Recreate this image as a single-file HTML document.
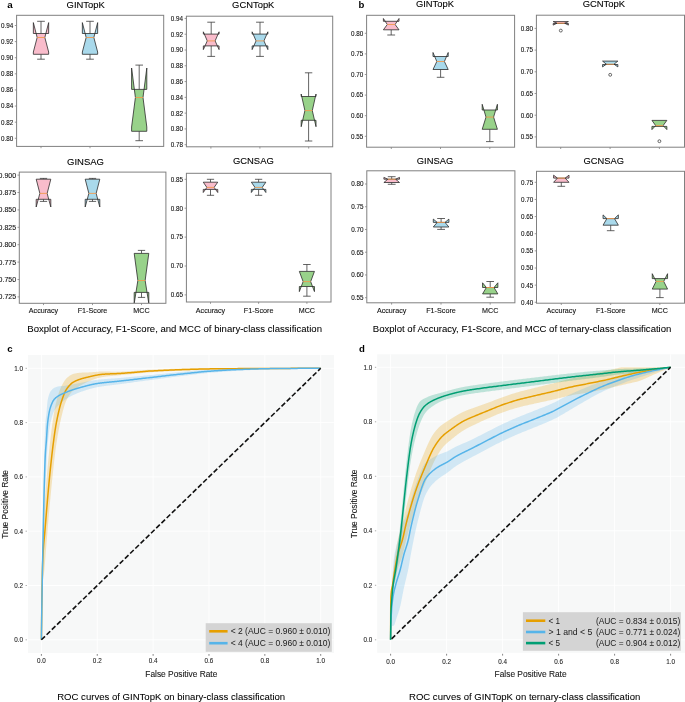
<!DOCTYPE html>
<html><head><meta charset="utf-8"><style>
html,body{margin:0;padding:0;background:#fff;}
svg{display:block;font-family:"Liberation Sans", sans-serif;will-change:transform;}
</style></head><body>
<svg width="685" height="702" viewBox="0 0 685 702" font-family='"Liberation Sans", sans-serif'>
<rect x="0" y="0" width="685" height="702" fill="#fff"/>
<clipPath id="c0"><rect x="16.6" y="15.3" width="147.1" height="131.1"/></clipPath>
<g clip-path="url(#c0)">
<line x1="41" y1="33.5" x2="41" y2="21.3" stroke="#3c3c3c" stroke-width="0.8"/>
<line x1="41" y1="54.3" x2="41" y2="59.2" stroke="#3c3c3c" stroke-width="0.8"/>
<path d="M33.35,54.3 L48.65,54.3 L48.65,52 L44.83,37.5 L48.65,22.6 L48.65,33.5 L33.35,33.5 L33.35,22.6 L37.17,37.5 L33.35,52 Z" fill="#f9bccb" stroke="#2b2b2b" stroke-width="0.8" stroke-linejoin="miter"/>
<line x1="37.17" y1="21.3" x2="44.83" y2="21.3" stroke="#3c3c3c" stroke-width="0.8"/>
<line x1="37.17" y1="59.2" x2="44.83" y2="59.2" stroke="#3c3c3c" stroke-width="0.8"/>
<line x1="37.17" y1="37.5" x2="44.83" y2="37.5" stroke="#f29a4e" stroke-width="0.9"/>
<line x1="90" y1="33.5" x2="90" y2="21.3" stroke="#3c3c3c" stroke-width="0.8"/>
<line x1="90" y1="54.3" x2="90" y2="59.2" stroke="#3c3c3c" stroke-width="0.8"/>
<path d="M82.35,54.3 L97.65,54.3 L97.65,52 L93.83,37.5 L97.65,22.6 L97.65,33.5 L82.35,33.5 L82.35,22.6 L86.17,37.5 L82.35,52 Z" fill="#a9d9eb" stroke="#2b2b2b" stroke-width="0.8" stroke-linejoin="miter"/>
<line x1="86.17" y1="21.3" x2="93.83" y2="21.3" stroke="#3c3c3c" stroke-width="0.8"/>
<line x1="86.17" y1="59.2" x2="93.83" y2="59.2" stroke="#3c3c3c" stroke-width="0.8"/>
<line x1="86.17" y1="37.5" x2="93.83" y2="37.5" stroke="#f29a4e" stroke-width="0.9"/>
<line x1="139.2" y1="89.4" x2="139.2" y2="65.1" stroke="#3c3c3c" stroke-width="0.8"/>
<line x1="139.2" y1="131.3" x2="139.2" y2="140.7" stroke="#3c3c3c" stroke-width="0.8"/>
<path d="M131.6,131.3 L146.8,131.3 L146.8,127 L143,97.5 L146.8,68 L146.8,89.4 L131.6,89.4 L131.6,68 L135.4,97.5 L131.6,127 Z" fill="#98d28a" stroke="#2b2b2b" stroke-width="0.8" stroke-linejoin="miter"/>
<line x1="135.4" y1="65.1" x2="143" y2="65.1" stroke="#3c3c3c" stroke-width="0.8"/>
<line x1="135.4" y1="140.7" x2="143" y2="140.7" stroke="#3c3c3c" stroke-width="0.8"/>
<line x1="135.4" y1="97.5" x2="143" y2="97.5" stroke="#f29a4e" stroke-width="0.9"/>
</g>
<rect x="16.6" y="15.3" width="147.1" height="131.1" fill="none" stroke="#808080" stroke-width="1"/>
<line x1="14.8" y1="25.5" x2="16.6" y2="25.5" stroke="#808080" stroke-width="0.8"/>
<text x="13.3" y="27.88" font-size="6.6" text-anchor="end" font-weight="normal" fill="#111" textLength="12.3" lengthAdjust="spacingAndGlyphs" stroke="#111" stroke-width="0.1">0.94</text>
<line x1="14.8" y1="41.61" x2="16.6" y2="41.61" stroke="#808080" stroke-width="0.8"/>
<text x="13.3" y="43.99" font-size="6.6" text-anchor="end" font-weight="normal" fill="#111" textLength="12.3" lengthAdjust="spacingAndGlyphs" stroke="#111" stroke-width="0.1">0.92</text>
<line x1="14.8" y1="57.72" x2="16.6" y2="57.72" stroke="#808080" stroke-width="0.8"/>
<text x="13.3" y="60.1" font-size="6.6" text-anchor="end" font-weight="normal" fill="#111" textLength="12.3" lengthAdjust="spacingAndGlyphs" stroke="#111" stroke-width="0.1">0.90</text>
<line x1="14.8" y1="73.83" x2="16.6" y2="73.83" stroke="#808080" stroke-width="0.8"/>
<text x="13.3" y="76.21" font-size="6.6" text-anchor="end" font-weight="normal" fill="#111" textLength="12.3" lengthAdjust="spacingAndGlyphs" stroke="#111" stroke-width="0.1">0.88</text>
<line x1="14.8" y1="89.94" x2="16.6" y2="89.94" stroke="#808080" stroke-width="0.8"/>
<text x="13.3" y="92.32" font-size="6.6" text-anchor="end" font-weight="normal" fill="#111" textLength="12.3" lengthAdjust="spacingAndGlyphs" stroke="#111" stroke-width="0.1">0.86</text>
<line x1="14.8" y1="106.05" x2="16.6" y2="106.05" stroke="#808080" stroke-width="0.8"/>
<text x="13.3" y="108.43" font-size="6.6" text-anchor="end" font-weight="normal" fill="#111" textLength="12.3" lengthAdjust="spacingAndGlyphs" stroke="#111" stroke-width="0.1">0.84</text>
<line x1="14.8" y1="122.16" x2="16.6" y2="122.16" stroke="#808080" stroke-width="0.8"/>
<text x="13.3" y="124.54" font-size="6.6" text-anchor="end" font-weight="normal" fill="#111" textLength="12.3" lengthAdjust="spacingAndGlyphs" stroke="#111" stroke-width="0.1">0.82</text>
<line x1="14.8" y1="138.27" x2="16.6" y2="138.27" stroke="#808080" stroke-width="0.8"/>
<text x="13.3" y="140.65" font-size="6.6" text-anchor="end" font-weight="normal" fill="#111" textLength="12.3" lengthAdjust="spacingAndGlyphs" stroke="#111" stroke-width="0.1">0.80</text>
<line x1="41" y1="146.4" x2="41" y2="148.2" stroke="#808080" stroke-width="0.8"/>
<line x1="90" y1="146.4" x2="90" y2="148.2" stroke="#808080" stroke-width="0.8"/>
<line x1="139.3" y1="146.4" x2="139.3" y2="148.2" stroke="#808080" stroke-width="0.8"/>
<text x="85.7" y="8.3" font-size="9.9" text-anchor="middle" font-weight="normal" fill="#000" textLength="38.2" lengthAdjust="spacingAndGlyphs" stroke="#000" stroke-width="0.1">GINTopK</text>
<clipPath id="c1"><rect x="186.4" y="16.2" width="146.3" height="130.6"/></clipPath>
<g clip-path="url(#c1)">
<line x1="211.2" y1="34.1" x2="211.2" y2="22.2" stroke="#3c3c3c" stroke-width="0.8"/>
<line x1="211.2" y1="45.9" x2="211.2" y2="56.4" stroke="#3c3c3c" stroke-width="0.8"/>
<path d="M203.35,45.9 L219.05,45.9 L219.05,49.6 L215.12,40.9 L219.05,31.8 L219.05,34.1 L203.35,34.1 L203.35,31.8 L207.27,40.9 L203.35,49.6 Z" fill="#f9bccb" stroke="#2b2b2b" stroke-width="0.8" stroke-linejoin="miter"/>
<line x1="207.27" y1="22.2" x2="215.12" y2="22.2" stroke="#3c3c3c" stroke-width="0.8"/>
<line x1="207.27" y1="56.4" x2="215.12" y2="56.4" stroke="#3c3c3c" stroke-width="0.8"/>
<line x1="207.27" y1="40.9" x2="215.12" y2="40.9" stroke="#f29a4e" stroke-width="0.9"/>
<line x1="260" y1="34.1" x2="260" y2="22.2" stroke="#3c3c3c" stroke-width="0.8"/>
<line x1="260" y1="45.9" x2="260" y2="56.4" stroke="#3c3c3c" stroke-width="0.8"/>
<path d="M252.15,45.9 L267.85,45.9 L267.85,49.6 L263.93,40.9 L267.85,31.8 L267.85,34.1 L252.15,34.1 L252.15,31.8 L256.07,40.9 L252.15,49.6 Z" fill="#a9d9eb" stroke="#2b2b2b" stroke-width="0.8" stroke-linejoin="miter"/>
<line x1="256.07" y1="22.2" x2="263.93" y2="22.2" stroke="#3c3c3c" stroke-width="0.8"/>
<line x1="256.07" y1="56.4" x2="263.93" y2="56.4" stroke="#3c3c3c" stroke-width="0.8"/>
<line x1="256.07" y1="40.9" x2="263.93" y2="40.9" stroke="#f29a4e" stroke-width="0.9"/>
<line x1="308.6" y1="96.5" x2="308.6" y2="72.8" stroke="#3c3c3c" stroke-width="0.8"/>
<line x1="308.6" y1="120.3" x2="308.6" y2="141" stroke="#3c3c3c" stroke-width="0.8"/>
<path d="M301.2,120.3 L316,120.3 L316,126.7 L312.3,110.6 L316,94 L316,96.5 L301.2,96.5 L301.2,94 L304.9,110.6 L301.2,126.7 Z" fill="#98d28a" stroke="#2b2b2b" stroke-width="0.8" stroke-linejoin="miter"/>
<line x1="304.9" y1="72.8" x2="312.3" y2="72.8" stroke="#3c3c3c" stroke-width="0.8"/>
<line x1="304.9" y1="141" x2="312.3" y2="141" stroke="#3c3c3c" stroke-width="0.8"/>
<line x1="304.9" y1="110.6" x2="312.3" y2="110.6" stroke="#f29a4e" stroke-width="0.9"/>
</g>
<rect x="186.4" y="16.2" width="146.3" height="130.6" fill="none" stroke="#808080" stroke-width="1"/>
<line x1="184.6" y1="18.45" x2="186.4" y2="18.45" stroke="#808080" stroke-width="0.8"/>
<text x="183.1" y="20.83" font-size="6.6" text-anchor="end" font-weight="normal" fill="#111" textLength="12.3" lengthAdjust="spacingAndGlyphs" stroke="#111" stroke-width="0.1">0.94</text>
<line x1="184.6" y1="34.23" x2="186.4" y2="34.23" stroke="#808080" stroke-width="0.8"/>
<text x="183.1" y="36.61" font-size="6.6" text-anchor="end" font-weight="normal" fill="#111" textLength="12.3" lengthAdjust="spacingAndGlyphs" stroke="#111" stroke-width="0.1">0.92</text>
<line x1="184.6" y1="50.01" x2="186.4" y2="50.01" stroke="#808080" stroke-width="0.8"/>
<text x="183.1" y="52.39" font-size="6.6" text-anchor="end" font-weight="normal" fill="#111" textLength="12.3" lengthAdjust="spacingAndGlyphs" stroke="#111" stroke-width="0.1">0.90</text>
<line x1="184.6" y1="65.79" x2="186.4" y2="65.79" stroke="#808080" stroke-width="0.8"/>
<text x="183.1" y="68.17" font-size="6.6" text-anchor="end" font-weight="normal" fill="#111" textLength="12.3" lengthAdjust="spacingAndGlyphs" stroke="#111" stroke-width="0.1">0.88</text>
<line x1="184.6" y1="81.57" x2="186.4" y2="81.57" stroke="#808080" stroke-width="0.8"/>
<text x="183.1" y="83.95" font-size="6.6" text-anchor="end" font-weight="normal" fill="#111" textLength="12.3" lengthAdjust="spacingAndGlyphs" stroke="#111" stroke-width="0.1">0.86</text>
<line x1="184.6" y1="97.35" x2="186.4" y2="97.35" stroke="#808080" stroke-width="0.8"/>
<text x="183.1" y="99.73" font-size="6.6" text-anchor="end" font-weight="normal" fill="#111" textLength="12.3" lengthAdjust="spacingAndGlyphs" stroke="#111" stroke-width="0.1">0.84</text>
<line x1="184.6" y1="113.13" x2="186.4" y2="113.13" stroke="#808080" stroke-width="0.8"/>
<text x="183.1" y="115.51" font-size="6.6" text-anchor="end" font-weight="normal" fill="#111" textLength="12.3" lengthAdjust="spacingAndGlyphs" stroke="#111" stroke-width="0.1">0.82</text>
<line x1="184.6" y1="128.91" x2="186.4" y2="128.91" stroke="#808080" stroke-width="0.8"/>
<text x="183.1" y="131.29" font-size="6.6" text-anchor="end" font-weight="normal" fill="#111" textLength="12.3" lengthAdjust="spacingAndGlyphs" stroke="#111" stroke-width="0.1">0.80</text>
<line x1="184.6" y1="144.69" x2="186.4" y2="144.69" stroke="#808080" stroke-width="0.8"/>
<text x="183.1" y="147.07" font-size="6.6" text-anchor="end" font-weight="normal" fill="#111" textLength="12.3" lengthAdjust="spacingAndGlyphs" stroke="#111" stroke-width="0.1">0.78</text>
<line x1="210.9" y1="146.8" x2="210.9" y2="148.6" stroke="#808080" stroke-width="0.8"/>
<line x1="259.9" y1="146.8" x2="259.9" y2="148.6" stroke="#808080" stroke-width="0.8"/>
<line x1="308.7" y1="146.8" x2="308.7" y2="148.6" stroke="#808080" stroke-width="0.8"/>
<text x="253.25" y="8.2" font-size="9.9" text-anchor="middle" font-weight="normal" fill="#000" textLength="42.3" lengthAdjust="spacingAndGlyphs" stroke="#000" stroke-width="0.1">GCNTopK</text>
<clipPath id="c2"><rect x="19.3" y="172.1" width="146.6" height="131.2"/></clipPath>
<g clip-path="url(#c2)">
<line x1="43.5" y1="179.2" x2="43.5" y2="178.4" stroke="#3c3c3c" stroke-width="0.8"/>
<line x1="43.5" y1="199.3" x2="43.5" y2="201.4" stroke="#3c3c3c" stroke-width="0.8"/>
<path d="M36.2,199.3 L50.8,199.3 L50.8,207 L47.15,193.4 L50.8,179.2 L50.8,179.2 L36.2,179.2 L36.2,179.2 L39.85,193.4 L36.2,207 Z" fill="#f9bccb" stroke="#2b2b2b" stroke-width="0.8" stroke-linejoin="miter"/>
<line x1="39.85" y1="178.4" x2="47.15" y2="178.4" stroke="#3c3c3c" stroke-width="0.8"/>
<line x1="39.85" y1="201.4" x2="47.15" y2="201.4" stroke="#3c3c3c" stroke-width="0.8"/>
<line x1="39.85" y1="193.4" x2="47.15" y2="193.4" stroke="#f29a4e" stroke-width="0.9"/>
<line x1="92.5" y1="179.2" x2="92.5" y2="178.4" stroke="#3c3c3c" stroke-width="0.8"/>
<line x1="92.5" y1="199.3" x2="92.5" y2="201.4" stroke="#3c3c3c" stroke-width="0.8"/>
<path d="M85.2,199.3 L99.8,199.3 L99.8,207 L96.15,193.4 L99.8,179.2 L99.8,179.2 L85.2,179.2 L85.2,179.2 L88.85,193.4 L85.2,207 Z" fill="#a9d9eb" stroke="#2b2b2b" stroke-width="0.8" stroke-linejoin="miter"/>
<line x1="88.85" y1="178.4" x2="96.15" y2="178.4" stroke="#3c3c3c" stroke-width="0.8"/>
<line x1="88.85" y1="201.4" x2="96.15" y2="201.4" stroke="#3c3c3c" stroke-width="0.8"/>
<line x1="88.85" y1="193.4" x2="96.15" y2="193.4" stroke="#f29a4e" stroke-width="0.9"/>
<line x1="141.5" y1="253.4" x2="141.5" y2="250.4" stroke="#3c3c3c" stroke-width="0.8"/>
<line x1="141.5" y1="292.4" x2="141.5" y2="297.4" stroke="#3c3c3c" stroke-width="0.8"/>
<path d="M134.2,292.4 L148.8,292.4 L148.8,303.5 L145.15,280.5 L148.8,253.4 L148.8,253.4 L134.2,253.4 L134.2,253.4 L137.85,280.5 L134.2,303.5 Z" fill="#98d28a" stroke="#2b2b2b" stroke-width="0.8" stroke-linejoin="miter"/>
<line x1="137.85" y1="250.4" x2="145.15" y2="250.4" stroke="#3c3c3c" stroke-width="0.8"/>
<line x1="137.85" y1="297.4" x2="145.15" y2="297.4" stroke="#3c3c3c" stroke-width="0.8"/>
<line x1="137.85" y1="280.5" x2="145.15" y2="280.5" stroke="#f29a4e" stroke-width="0.9"/>
</g>
<rect x="19.3" y="172.1" width="146.6" height="131.2" fill="none" stroke="#808080" stroke-width="1"/>
<line x1="17.5" y1="175.1" x2="19.3" y2="175.1" stroke="#808080" stroke-width="0.8"/>
<text x="16" y="177.66" font-size="7.1" text-anchor="end" font-weight="normal" fill="#111" textLength="17.4" lengthAdjust="spacingAndGlyphs" stroke="#111" stroke-width="0.1">0.900</text>
<line x1="17.5" y1="192.5" x2="19.3" y2="192.5" stroke="#808080" stroke-width="0.8"/>
<text x="16" y="195.06" font-size="7.1" text-anchor="end" font-weight="normal" fill="#111" textLength="17.4" lengthAdjust="spacingAndGlyphs" stroke="#111" stroke-width="0.1">0.875</text>
<line x1="17.5" y1="209.9" x2="19.3" y2="209.9" stroke="#808080" stroke-width="0.8"/>
<text x="16" y="212.46" font-size="7.1" text-anchor="end" font-weight="normal" fill="#111" textLength="17.4" lengthAdjust="spacingAndGlyphs" stroke="#111" stroke-width="0.1">0.850</text>
<line x1="17.5" y1="227.3" x2="19.3" y2="227.3" stroke="#808080" stroke-width="0.8"/>
<text x="16" y="229.86" font-size="7.1" text-anchor="end" font-weight="normal" fill="#111" textLength="17.4" lengthAdjust="spacingAndGlyphs" stroke="#111" stroke-width="0.1">0.825</text>
<line x1="17.5" y1="244.7" x2="19.3" y2="244.7" stroke="#808080" stroke-width="0.8"/>
<text x="16" y="247.26" font-size="7.1" text-anchor="end" font-weight="normal" fill="#111" textLength="17.4" lengthAdjust="spacingAndGlyphs" stroke="#111" stroke-width="0.1">0.800</text>
<line x1="17.5" y1="262.1" x2="19.3" y2="262.1" stroke="#808080" stroke-width="0.8"/>
<text x="16" y="264.66" font-size="7.1" text-anchor="end" font-weight="normal" fill="#111" textLength="17.4" lengthAdjust="spacingAndGlyphs" stroke="#111" stroke-width="0.1">0.775</text>
<line x1="17.5" y1="279.5" x2="19.3" y2="279.5" stroke="#808080" stroke-width="0.8"/>
<text x="16" y="282.06" font-size="7.1" text-anchor="end" font-weight="normal" fill="#111" textLength="17.4" lengthAdjust="spacingAndGlyphs" stroke="#111" stroke-width="0.1">0.750</text>
<line x1="17.5" y1="296.9" x2="19.3" y2="296.9" stroke="#808080" stroke-width="0.8"/>
<text x="16" y="299.46" font-size="7.1" text-anchor="end" font-weight="normal" fill="#111" textLength="17.4" lengthAdjust="spacingAndGlyphs" stroke="#111" stroke-width="0.1">0.725</text>
<line x1="43.5" y1="303.3" x2="43.5" y2="305.1" stroke="#808080" stroke-width="0.8"/>
<line x1="92.5" y1="303.3" x2="92.5" y2="305.1" stroke="#808080" stroke-width="0.8"/>
<line x1="141.5" y1="303.3" x2="141.5" y2="305.1" stroke="#808080" stroke-width="0.8"/>
<text x="85.5" y="164.7" font-size="9.9" text-anchor="middle" font-weight="normal" fill="#000" textLength="37" lengthAdjust="spacingAndGlyphs" stroke="#000" stroke-width="0.1">GINSAG</text>
<text x="43.5" y="312.9" font-size="6.9" text-anchor="middle" font-weight="normal" fill="#111" textLength="29.4" lengthAdjust="spacingAndGlyphs" stroke="#111" stroke-width="0.1">Accuracy</text>
<text x="92.5" y="312.9" font-size="6.9" text-anchor="middle" font-weight="normal" fill="#111" textLength="29.6" lengthAdjust="spacingAndGlyphs" stroke="#111" stroke-width="0.1">F1-Score</text>
<text x="141.5" y="312.9" font-size="6.9" text-anchor="middle" font-weight="normal" fill="#111" textLength="16.3" lengthAdjust="spacingAndGlyphs" stroke="#111" stroke-width="0.1">MCC</text>
<clipPath id="c3"><rect x="186.4" y="173.3" width="144.6" height="128.7"/></clipPath>
<g clip-path="url(#c3)">
<line x1="210.5" y1="182.2" x2="210.5" y2="179.3" stroke="#3c3c3c" stroke-width="0.8"/>
<line x1="210.5" y1="189.4" x2="210.5" y2="195.3" stroke="#3c3c3c" stroke-width="0.8"/>
<path d="M203.25,189.4 L217.75,189.4 L217.75,192.5 L214.12,187.4 L217.75,182.2 L217.75,182.2 L203.25,182.2 L203.25,182.2 L206.88,187.4 L203.25,192.5 Z" fill="#f9bccb" stroke="#2b2b2b" stroke-width="0.8" stroke-linejoin="miter"/>
<line x1="206.88" y1="179.3" x2="214.12" y2="179.3" stroke="#3c3c3c" stroke-width="0.8"/>
<line x1="206.88" y1="195.3" x2="214.12" y2="195.3" stroke="#3c3c3c" stroke-width="0.8"/>
<line x1="206.88" y1="187.4" x2="214.12" y2="187.4" stroke="#f29a4e" stroke-width="0.9"/>
<line x1="258.6" y1="182.2" x2="258.6" y2="179.3" stroke="#3c3c3c" stroke-width="0.8"/>
<line x1="258.6" y1="189.4" x2="258.6" y2="195.3" stroke="#3c3c3c" stroke-width="0.8"/>
<path d="M251.35,189.4 L265.85,189.4 L265.85,192.5 L262.23,187.4 L265.85,182.2 L265.85,182.2 L251.35,182.2 L251.35,182.2 L254.98,187.4 L251.35,192.5 Z" fill="#a9d9eb" stroke="#2b2b2b" stroke-width="0.8" stroke-linejoin="miter"/>
<line x1="254.98" y1="179.3" x2="262.23" y2="179.3" stroke="#3c3c3c" stroke-width="0.8"/>
<line x1="254.98" y1="195.3" x2="262.23" y2="195.3" stroke="#3c3c3c" stroke-width="0.8"/>
<line x1="254.98" y1="187.4" x2="262.23" y2="187.4" stroke="#f29a4e" stroke-width="0.9"/>
<line x1="306.9" y1="271.4" x2="306.9" y2="264.5" stroke="#3c3c3c" stroke-width="0.8"/>
<line x1="306.9" y1="286.5" x2="306.9" y2="296.2" stroke="#3c3c3c" stroke-width="0.8"/>
<path d="M299.35,286.5 L314.45,286.5 L314.45,291.6 L310.67,281.6 L314.45,271.4 L314.45,271.4 L299.35,271.4 L299.35,271.4 L303.12,281.6 L299.35,291.6 Z" fill="#98d28a" stroke="#2b2b2b" stroke-width="0.8" stroke-linejoin="miter"/>
<line x1="303.12" y1="264.5" x2="310.67" y2="264.5" stroke="#3c3c3c" stroke-width="0.8"/>
<line x1="303.12" y1="296.2" x2="310.67" y2="296.2" stroke="#3c3c3c" stroke-width="0.8"/>
<line x1="303.12" y1="281.6" x2="310.67" y2="281.6" stroke="#f29a4e" stroke-width="0.9"/>
</g>
<rect x="186.4" y="173.3" width="144.6" height="128.7" fill="none" stroke="#808080" stroke-width="1"/>
<line x1="184.6" y1="179.3" x2="186.4" y2="179.3" stroke="#808080" stroke-width="0.8"/>
<text x="183.1" y="181.68" font-size="6.6" text-anchor="end" font-weight="normal" fill="#111" textLength="12.3" lengthAdjust="spacingAndGlyphs" stroke="#111" stroke-width="0.1">0.85</text>
<line x1="184.6" y1="208.2" x2="186.4" y2="208.2" stroke="#808080" stroke-width="0.8"/>
<text x="183.1" y="210.58" font-size="6.6" text-anchor="end" font-weight="normal" fill="#111" textLength="12.3" lengthAdjust="spacingAndGlyphs" stroke="#111" stroke-width="0.1">0.80</text>
<line x1="184.6" y1="237.1" x2="186.4" y2="237.1" stroke="#808080" stroke-width="0.8"/>
<text x="183.1" y="239.48" font-size="6.6" text-anchor="end" font-weight="normal" fill="#111" textLength="12.3" lengthAdjust="spacingAndGlyphs" stroke="#111" stroke-width="0.1">0.75</text>
<line x1="184.6" y1="266" x2="186.4" y2="266" stroke="#808080" stroke-width="0.8"/>
<text x="183.1" y="268.38" font-size="6.6" text-anchor="end" font-weight="normal" fill="#111" textLength="12.3" lengthAdjust="spacingAndGlyphs" stroke="#111" stroke-width="0.1">0.70</text>
<line x1="184.6" y1="294.9" x2="186.4" y2="294.9" stroke="#808080" stroke-width="0.8"/>
<text x="183.1" y="297.28" font-size="6.6" text-anchor="end" font-weight="normal" fill="#111" textLength="12.3" lengthAdjust="spacingAndGlyphs" stroke="#111" stroke-width="0.1">0.65</text>
<line x1="210.5" y1="302" x2="210.5" y2="303.8" stroke="#808080" stroke-width="0.8"/>
<line x1="258.6" y1="302" x2="258.6" y2="303.8" stroke="#808080" stroke-width="0.8"/>
<line x1="306.9" y1="302" x2="306.9" y2="303.8" stroke="#808080" stroke-width="0.8"/>
<text x="253.35" y="164.4" font-size="9.9" text-anchor="middle" font-weight="normal" fill="#000" textLength="40.9" lengthAdjust="spacingAndGlyphs" stroke="#000" stroke-width="0.1">GCNSAG</text>
<text x="210.5" y="312.9" font-size="6.9" text-anchor="middle" font-weight="normal" fill="#111" textLength="29.4" lengthAdjust="spacingAndGlyphs" stroke="#111" stroke-width="0.1">Accuracy</text>
<text x="258.6" y="312.9" font-size="6.9" text-anchor="middle" font-weight="normal" fill="#111" textLength="29.6" lengthAdjust="spacingAndGlyphs" stroke="#111" stroke-width="0.1">F1-Score</text>
<text x="306.9" y="312.9" font-size="6.9" text-anchor="middle" font-weight="normal" fill="#111" textLength="16.3" lengthAdjust="spacingAndGlyphs" stroke="#111" stroke-width="0.1">MCC</text>
<clipPath id="c4"><rect x="366.6" y="15.3" width="148" height="131.9"/></clipPath>
<g clip-path="url(#c4)">
<line x1="391.2" y1="29.8" x2="391.2" y2="35" stroke="#3c3c3c" stroke-width="0.8"/>
<path d="M383.4,29.8 L399,29.8 L399,29.8 L395.1,24.5 L399,18.5 L399,21.3 L383.4,21.3 L383.4,18.5 L387.3,24.5 L383.4,29.8 Z" fill="#f9bccb" stroke="#2b2b2b" stroke-width="0.8" stroke-linejoin="miter"/>
<line x1="387.3" y1="35" x2="395.1" y2="35" stroke="#3c3c3c" stroke-width="0.8"/>
<line x1="387.3" y1="24.5" x2="395.1" y2="24.5" stroke="#f29a4e" stroke-width="0.9"/>
<line x1="440.6" y1="69.5" x2="440.6" y2="77.3" stroke="#3c3c3c" stroke-width="0.8"/>
<path d="M433,69.5 L448.2,69.5 L448.2,69.5 L444.4,61.5 L448.2,52.5 L448.2,56.5 L433,56.5 L433,52.5 L436.8,61.5 L433,69.5 Z" fill="#a9d9eb" stroke="#2b2b2b" stroke-width="0.8" stroke-linejoin="miter"/>
<line x1="436.8" y1="77.3" x2="444.4" y2="77.3" stroke="#3c3c3c" stroke-width="0.8"/>
<line x1="436.8" y1="61.5" x2="444.4" y2="61.5" stroke="#f29a4e" stroke-width="0.9"/>
<line x1="489.8" y1="129.3" x2="489.8" y2="141.6" stroke="#3c3c3c" stroke-width="0.8"/>
<path d="M482.2,129.3 L497.4,129.3 L497.4,129.3 L493.6,117.1 L497.4,104.3 L497.4,110 L482.2,110 L482.2,104.3 L486,117.1 L482.2,129.3 Z" fill="#98d28a" stroke="#2b2b2b" stroke-width="0.8" stroke-linejoin="miter"/>
<line x1="486" y1="141.6" x2="493.6" y2="141.6" stroke="#3c3c3c" stroke-width="0.8"/>
<line x1="486" y1="117.1" x2="493.6" y2="117.1" stroke="#f29a4e" stroke-width="0.9"/>
</g>
<rect x="366.6" y="15.3" width="148" height="131.9" fill="none" stroke="#808080" stroke-width="1"/>
<line x1="364.8" y1="33.3" x2="366.6" y2="33.3" stroke="#808080" stroke-width="0.8"/>
<text x="363.3" y="35.68" font-size="6.6" text-anchor="end" font-weight="normal" fill="#111" textLength="12.3" lengthAdjust="spacingAndGlyphs" stroke="#111" stroke-width="0.1">0.80</text>
<line x1="364.8" y1="53.9" x2="366.6" y2="53.9" stroke="#808080" stroke-width="0.8"/>
<text x="363.3" y="56.28" font-size="6.6" text-anchor="end" font-weight="normal" fill="#111" textLength="12.3" lengthAdjust="spacingAndGlyphs" stroke="#111" stroke-width="0.1">0.75</text>
<line x1="364.8" y1="74.5" x2="366.6" y2="74.5" stroke="#808080" stroke-width="0.8"/>
<text x="363.3" y="76.88" font-size="6.6" text-anchor="end" font-weight="normal" fill="#111" textLength="12.3" lengthAdjust="spacingAndGlyphs" stroke="#111" stroke-width="0.1">0.70</text>
<line x1="364.8" y1="95.1" x2="366.6" y2="95.1" stroke="#808080" stroke-width="0.8"/>
<text x="363.3" y="97.48" font-size="6.6" text-anchor="end" font-weight="normal" fill="#111" textLength="12.3" lengthAdjust="spacingAndGlyphs" stroke="#111" stroke-width="0.1">0.65</text>
<line x1="364.8" y1="115.7" x2="366.6" y2="115.7" stroke="#808080" stroke-width="0.8"/>
<text x="363.3" y="118.08" font-size="6.6" text-anchor="end" font-weight="normal" fill="#111" textLength="12.3" lengthAdjust="spacingAndGlyphs" stroke="#111" stroke-width="0.1">0.60</text>
<line x1="364.8" y1="136.3" x2="366.6" y2="136.3" stroke="#808080" stroke-width="0.8"/>
<text x="363.3" y="138.68" font-size="6.6" text-anchor="end" font-weight="normal" fill="#111" textLength="12.3" lengthAdjust="spacingAndGlyphs" stroke="#111" stroke-width="0.1">0.55</text>
<line x1="391.3" y1="147.2" x2="391.3" y2="149" stroke="#808080" stroke-width="0.8"/>
<line x1="440.5" y1="147.2" x2="440.5" y2="149" stroke="#808080" stroke-width="0.8"/>
<line x1="489.8" y1="147.2" x2="489.8" y2="149" stroke="#808080" stroke-width="0.8"/>
<text x="434.9" y="6.8" font-size="9.9" text-anchor="middle" font-weight="normal" fill="#000" textLength="38" lengthAdjust="spacingAndGlyphs" stroke="#000" stroke-width="0.1">GINTopK</text>
<clipPath id="c5"><rect x="536.4" y="15.2" width="148.1" height="132"/></clipPath>
<g clip-path="url(#c5)">
<path d="M553.2,23.5 L568.4,23.5 L568.4,25.1 L564.6,23.2 L568.4,21.6 L568.4,21.6 L553.2,21.6 L553.2,21.6 L557,23.2 L553.2,25.1 Z" fill="#f9bccb" stroke="#2b2b2b" stroke-width="0.8" stroke-linejoin="miter"/>
<line x1="557" y1="23.2" x2="564.6" y2="23.2" stroke="#f29a4e" stroke-width="0.9"/>
<circle cx="560.8" cy="30.6" r="1.45" fill="none" stroke="#2b2b2b" stroke-width="0.7"/>
<path d="M602.55,64.5 L617.85,64.5 L617.85,66.9 L614.03,64.2 L617.85,61.1 L617.85,61.1 L602.55,61.1 L602.55,61.1 L606.38,64.2 L602.55,66.9 Z" fill="#a9d9eb" stroke="#2b2b2b" stroke-width="0.8" stroke-linejoin="miter"/>
<line x1="606.38" y1="64.2" x2="614.03" y2="64.2" stroke="#f29a4e" stroke-width="0.9"/>
<circle cx="610.2" cy="74.8" r="1.45" fill="none" stroke="#2b2b2b" stroke-width="0.7"/>
<path d="M651.95,126.4 L666.85,126.4 L666.85,129.6 L663.12,125.6 L666.85,120.4 L666.85,120.4 L651.95,120.4 L651.95,120.4 L655.67,125.6 L651.95,129.6 Z" fill="#98d28a" stroke="#2b2b2b" stroke-width="0.8" stroke-linejoin="miter"/>
<line x1="655.67" y1="125.6" x2="663.12" y2="125.6" stroke="#f29a4e" stroke-width="0.9"/>
<circle cx="659.4" cy="141.2" r="1.45" fill="none" stroke="#2b2b2b" stroke-width="0.7"/>
</g>
<rect x="536.4" y="15.2" width="148.1" height="132" fill="none" stroke="#808080" stroke-width="1"/>
<line x1="534.6" y1="28.4" x2="536.4" y2="28.4" stroke="#808080" stroke-width="0.8"/>
<text x="533.1" y="30.78" font-size="6.6" text-anchor="end" font-weight="normal" fill="#111" textLength="12.3" lengthAdjust="spacingAndGlyphs" stroke="#111" stroke-width="0.1">0.80</text>
<line x1="534.6" y1="50.1" x2="536.4" y2="50.1" stroke="#808080" stroke-width="0.8"/>
<text x="533.1" y="52.48" font-size="6.6" text-anchor="end" font-weight="normal" fill="#111" textLength="12.3" lengthAdjust="spacingAndGlyphs" stroke="#111" stroke-width="0.1">0.75</text>
<line x1="534.6" y1="71.8" x2="536.4" y2="71.8" stroke="#808080" stroke-width="0.8"/>
<text x="533.1" y="74.18" font-size="6.6" text-anchor="end" font-weight="normal" fill="#111" textLength="12.3" lengthAdjust="spacingAndGlyphs" stroke="#111" stroke-width="0.1">0.70</text>
<line x1="534.6" y1="93.5" x2="536.4" y2="93.5" stroke="#808080" stroke-width="0.8"/>
<text x="533.1" y="95.88" font-size="6.6" text-anchor="end" font-weight="normal" fill="#111" textLength="12.3" lengthAdjust="spacingAndGlyphs" stroke="#111" stroke-width="0.1">0.65</text>
<line x1="534.6" y1="115.2" x2="536.4" y2="115.2" stroke="#808080" stroke-width="0.8"/>
<text x="533.1" y="117.58" font-size="6.6" text-anchor="end" font-weight="normal" fill="#111" textLength="12.3" lengthAdjust="spacingAndGlyphs" stroke="#111" stroke-width="0.1">0.60</text>
<line x1="534.6" y1="136.9" x2="536.4" y2="136.9" stroke="#808080" stroke-width="0.8"/>
<text x="533.1" y="139.28" font-size="6.6" text-anchor="end" font-weight="normal" fill="#111" textLength="12.3" lengthAdjust="spacingAndGlyphs" stroke="#111" stroke-width="0.1">0.55</text>
<line x1="560.7" y1="147.2" x2="560.7" y2="149" stroke="#808080" stroke-width="0.8"/>
<line x1="610.1" y1="147.2" x2="610.1" y2="149" stroke="#808080" stroke-width="0.8"/>
<line x1="659.4" y1="147.2" x2="659.4" y2="149" stroke="#808080" stroke-width="0.8"/>
<text x="603.9" y="6.8" font-size="9.9" text-anchor="middle" font-weight="normal" fill="#000" textLength="42.4" lengthAdjust="spacingAndGlyphs" stroke="#000" stroke-width="0.1">GCNTopK</text>
<clipPath id="c6"><rect x="366.8" y="170.8" width="148.1" height="132"/></clipPath>
<g clip-path="url(#c6)">
<line x1="391.7" y1="179.2" x2="391.7" y2="176.7" stroke="#3c3c3c" stroke-width="0.8"/>
<line x1="391.7" y1="182.5" x2="391.7" y2="184.3" stroke="#3c3c3c" stroke-width="0.8"/>
<path d="M383.9,182.5 L399.5,182.5 L399.5,182.5 L395.6,179.2 L399.5,177.4 L399.5,179.2 L383.9,179.2 L383.9,177.4 L387.8,179.2 L383.9,182.5 Z" fill="#f9bccb" stroke="#2b2b2b" stroke-width="0.8" stroke-linejoin="miter"/>
<line x1="387.8" y1="176.7" x2="395.6" y2="176.7" stroke="#3c3c3c" stroke-width="0.8"/>
<line x1="387.8" y1="184.3" x2="395.6" y2="184.3" stroke="#3c3c3c" stroke-width="0.8"/>
<line x1="387.8" y1="179.2" x2="395.6" y2="179.2" stroke="#f29a4e" stroke-width="0.9"/>
<line x1="441.1" y1="222.4" x2="441.1" y2="218.5" stroke="#3c3c3c" stroke-width="0.8"/>
<line x1="441.1" y1="227" x2="441.1" y2="229.4" stroke="#3c3c3c" stroke-width="0.8"/>
<path d="M433.3,227 L448.9,227 L448.9,227 L445,222.4 L448.9,219.1 L448.9,222.4 L433.3,222.4 L433.3,219.1 L437.2,222.4 L433.3,227 Z" fill="#a9d9eb" stroke="#2b2b2b" stroke-width="0.8" stroke-linejoin="miter"/>
<line x1="437.2" y1="218.5" x2="445" y2="218.5" stroke="#3c3c3c" stroke-width="0.8"/>
<line x1="437.2" y1="229.4" x2="445" y2="229.4" stroke="#3c3c3c" stroke-width="0.8"/>
<line x1="437.2" y1="222.4" x2="445" y2="222.4" stroke="#f29a4e" stroke-width="0.9"/>
<line x1="490.2" y1="287.5" x2="490.2" y2="281.5" stroke="#3c3c3c" stroke-width="0.8"/>
<line x1="490.2" y1="293.9" x2="490.2" y2="297.2" stroke="#3c3c3c" stroke-width="0.8"/>
<path d="M482.55,293.9 L497.85,293.9 L497.85,293.9 L494.02,287.5 L497.85,282.8 L497.85,287.5 L482.55,287.5 L482.55,282.8 L486.38,287.5 L482.55,293.9 Z" fill="#98d28a" stroke="#2b2b2b" stroke-width="0.8" stroke-linejoin="miter"/>
<line x1="486.38" y1="281.5" x2="494.02" y2="281.5" stroke="#3c3c3c" stroke-width="0.8"/>
<line x1="486.38" y1="297.2" x2="494.02" y2="297.2" stroke="#3c3c3c" stroke-width="0.8"/>
<line x1="486.38" y1="287.5" x2="494.02" y2="287.5" stroke="#f29a4e" stroke-width="0.9"/>
</g>
<rect x="366.8" y="170.8" width="148.1" height="132" fill="none" stroke="#808080" stroke-width="1"/>
<line x1="365" y1="184" x2="366.8" y2="184" stroke="#808080" stroke-width="0.8"/>
<text x="363.5" y="186.38" font-size="6.6" text-anchor="end" font-weight="normal" fill="#111" textLength="12.3" lengthAdjust="spacingAndGlyphs" stroke="#111" stroke-width="0.1">0.80</text>
<line x1="365" y1="206.74" x2="366.8" y2="206.74" stroke="#808080" stroke-width="0.8"/>
<text x="363.5" y="209.12" font-size="6.6" text-anchor="end" font-weight="normal" fill="#111" textLength="12.3" lengthAdjust="spacingAndGlyphs" stroke="#111" stroke-width="0.1">0.75</text>
<line x1="365" y1="229.48" x2="366.8" y2="229.48" stroke="#808080" stroke-width="0.8"/>
<text x="363.5" y="231.86" font-size="6.6" text-anchor="end" font-weight="normal" fill="#111" textLength="12.3" lengthAdjust="spacingAndGlyphs" stroke="#111" stroke-width="0.1">0.70</text>
<line x1="365" y1="252.22" x2="366.8" y2="252.22" stroke="#808080" stroke-width="0.8"/>
<text x="363.5" y="254.6" font-size="6.6" text-anchor="end" font-weight="normal" fill="#111" textLength="12.3" lengthAdjust="spacingAndGlyphs" stroke="#111" stroke-width="0.1">0.65</text>
<line x1="365" y1="274.96" x2="366.8" y2="274.96" stroke="#808080" stroke-width="0.8"/>
<text x="363.5" y="277.34" font-size="6.6" text-anchor="end" font-weight="normal" fill="#111" textLength="12.3" lengthAdjust="spacingAndGlyphs" stroke="#111" stroke-width="0.1">0.60</text>
<line x1="365" y1="297.7" x2="366.8" y2="297.7" stroke="#808080" stroke-width="0.8"/>
<text x="363.5" y="300.08" font-size="6.6" text-anchor="end" font-weight="normal" fill="#111" textLength="12.3" lengthAdjust="spacingAndGlyphs" stroke="#111" stroke-width="0.1">0.55</text>
<line x1="391.6" y1="302.8" x2="391.6" y2="304.6" stroke="#808080" stroke-width="0.8"/>
<line x1="441" y1="302.8" x2="441" y2="304.6" stroke="#808080" stroke-width="0.8"/>
<line x1="490.2" y1="302.8" x2="490.2" y2="304.6" stroke="#808080" stroke-width="0.8"/>
<text x="435" y="164.4" font-size="9.9" text-anchor="middle" font-weight="normal" fill="#000" textLength="36.4" lengthAdjust="spacingAndGlyphs" stroke="#000" stroke-width="0.1">GINSAG</text>
<text x="391.6" y="312.9" font-size="6.9" text-anchor="middle" font-weight="normal" fill="#111" textLength="29.4" lengthAdjust="spacingAndGlyphs" stroke="#111" stroke-width="0.1">Accuracy</text>
<text x="441" y="312.9" font-size="6.9" text-anchor="middle" font-weight="normal" fill="#111" textLength="29.6" lengthAdjust="spacingAndGlyphs" stroke="#111" stroke-width="0.1">F1-Score</text>
<text x="490.2" y="312.9" font-size="6.9" text-anchor="middle" font-weight="normal" fill="#111" textLength="16.3" lengthAdjust="spacingAndGlyphs" stroke="#111" stroke-width="0.1">MCC</text>
<clipPath id="c7"><rect x="536.5" y="171.3" width="148" height="131.9"/></clipPath>
<g clip-path="url(#c7)">
<line x1="561.3" y1="182.3" x2="561.3" y2="186.3" stroke="#3c3c3c" stroke-width="0.8"/>
<path d="M553.6,182.3 L569,182.3 L569,182.3 L565.15,178.1 L569,175.2 L569,178.1 L553.6,178.1 L553.6,175.2 L557.45,178.1 L553.6,182.3 Z" fill="#f9bccb" stroke="#2b2b2b" stroke-width="0.8" stroke-linejoin="miter"/>
<line x1="557.45" y1="186.3" x2="565.15" y2="186.3" stroke="#3c3c3c" stroke-width="0.8"/>
<line x1="557.45" y1="178.1" x2="565.15" y2="178.1" stroke="#f29a4e" stroke-width="0.9"/>
<line x1="610.7" y1="225.2" x2="610.7" y2="230.7" stroke="#3c3c3c" stroke-width="0.8"/>
<path d="M603.05,225.2 L618.35,225.2 L618.35,225.2 L614.53,218.6 L618.35,214.9 L618.35,218.6 L603.05,218.6 L603.05,214.9 L606.88,218.6 L603.05,225.2 Z" fill="#a9d9eb" stroke="#2b2b2b" stroke-width="0.8" stroke-linejoin="miter"/>
<line x1="606.88" y1="230.7" x2="614.53" y2="230.7" stroke="#3c3c3c" stroke-width="0.8"/>
<line x1="606.88" y1="218.6" x2="614.53" y2="218.6" stroke="#f29a4e" stroke-width="0.9"/>
<line x1="659.9" y1="289.1" x2="659.9" y2="297.6" stroke="#3c3c3c" stroke-width="0.8"/>
<path d="M652.25,289.1 L667.55,289.1 L667.55,289.1 L663.73,281.4 L667.55,273.7 L667.55,278.6 L652.25,278.6 L652.25,273.7 L656.07,281.4 L652.25,289.1 Z" fill="#98d28a" stroke="#2b2b2b" stroke-width="0.8" stroke-linejoin="miter"/>
<line x1="656.07" y1="297.6" x2="663.73" y2="297.6" stroke="#3c3c3c" stroke-width="0.8"/>
<line x1="656.07" y1="281.4" x2="663.73" y2="281.4" stroke="#f29a4e" stroke-width="0.9"/>
</g>
<rect x="536.5" y="171.3" width="148" height="131.9" fill="none" stroke="#808080" stroke-width="1"/>
<line x1="534.7" y1="182.3" x2="536.5" y2="182.3" stroke="#808080" stroke-width="0.8"/>
<text x="533.2" y="184.68" font-size="6.6" text-anchor="end" font-weight="normal" fill="#111" textLength="12.3" lengthAdjust="spacingAndGlyphs" stroke="#111" stroke-width="0.1">0.75</text>
<line x1="534.7" y1="199.44" x2="536.5" y2="199.44" stroke="#808080" stroke-width="0.8"/>
<text x="533.2" y="201.82" font-size="6.6" text-anchor="end" font-weight="normal" fill="#111" textLength="12.3" lengthAdjust="spacingAndGlyphs" stroke="#111" stroke-width="0.1">0.70</text>
<line x1="534.7" y1="216.58" x2="536.5" y2="216.58" stroke="#808080" stroke-width="0.8"/>
<text x="533.2" y="218.96" font-size="6.6" text-anchor="end" font-weight="normal" fill="#111" textLength="12.3" lengthAdjust="spacingAndGlyphs" stroke="#111" stroke-width="0.1">0.65</text>
<line x1="534.7" y1="233.72" x2="536.5" y2="233.72" stroke="#808080" stroke-width="0.8"/>
<text x="533.2" y="236.1" font-size="6.6" text-anchor="end" font-weight="normal" fill="#111" textLength="12.3" lengthAdjust="spacingAndGlyphs" stroke="#111" stroke-width="0.1">0.60</text>
<line x1="534.7" y1="250.86" x2="536.5" y2="250.86" stroke="#808080" stroke-width="0.8"/>
<text x="533.2" y="253.24" font-size="6.6" text-anchor="end" font-weight="normal" fill="#111" textLength="12.3" lengthAdjust="spacingAndGlyphs" stroke="#111" stroke-width="0.1">0.55</text>
<line x1="534.7" y1="268" x2="536.5" y2="268" stroke="#808080" stroke-width="0.8"/>
<text x="533.2" y="270.38" font-size="6.6" text-anchor="end" font-weight="normal" fill="#111" textLength="12.3" lengthAdjust="spacingAndGlyphs" stroke="#111" stroke-width="0.1">0.50</text>
<line x1="534.7" y1="285.14" x2="536.5" y2="285.14" stroke="#808080" stroke-width="0.8"/>
<text x="533.2" y="287.52" font-size="6.6" text-anchor="end" font-weight="normal" fill="#111" textLength="12.3" lengthAdjust="spacingAndGlyphs" stroke="#111" stroke-width="0.1">0.45</text>
<line x1="534.7" y1="302.28" x2="536.5" y2="302.28" stroke="#808080" stroke-width="0.8"/>
<text x="533.2" y="304.66" font-size="6.6" text-anchor="end" font-weight="normal" fill="#111" textLength="12.3" lengthAdjust="spacingAndGlyphs" stroke="#111" stroke-width="0.1">0.40</text>
<line x1="561.3" y1="303.2" x2="561.3" y2="305" stroke="#808080" stroke-width="0.8"/>
<line x1="610.7" y1="303.2" x2="610.7" y2="305" stroke="#808080" stroke-width="0.8"/>
<line x1="659.8" y1="303.2" x2="659.8" y2="305" stroke="#808080" stroke-width="0.8"/>
<text x="603.8" y="164.3" font-size="9.9" text-anchor="middle" font-weight="normal" fill="#000" textLength="40.4" lengthAdjust="spacingAndGlyphs" stroke="#000" stroke-width="0.1">GCNSAG</text>
<text x="561.3" y="312.9" font-size="6.9" text-anchor="middle" font-weight="normal" fill="#111" textLength="29.4" lengthAdjust="spacingAndGlyphs" stroke="#111" stroke-width="0.1">Accuracy</text>
<text x="610.7" y="312.9" font-size="6.9" text-anchor="middle" font-weight="normal" fill="#111" textLength="29.6" lengthAdjust="spacingAndGlyphs" stroke="#111" stroke-width="0.1">F1-Score</text>
<text x="659.8" y="312.9" font-size="6.9" text-anchor="middle" font-weight="normal" fill="#111" textLength="16.3" lengthAdjust="spacingAndGlyphs" stroke="#111" stroke-width="0.1">MCC</text>
<text x="7.2" y="8.2" font-size="9.8" text-anchor="start" font-weight="bold" fill="#000">a</text>
<text x="358.6" y="8" font-size="9.6" text-anchor="start" font-weight="bold" fill="#000">b</text>
<text x="27.3" y="331.8" font-size="9.4" text-anchor="start" font-weight="normal" fill="#000" textLength="294.7" lengthAdjust="spacingAndGlyphs" stroke="#000" stroke-width="0.06">Boxplot of Accuracy, F1-Score, and MCC of binary-class classification</text>
<text x="372.8" y="331.8" font-size="9.4" text-anchor="start" font-weight="normal" fill="#000" textLength="298.6" lengthAdjust="spacingAndGlyphs" stroke="#000" stroke-width="0.06">Boxplot of Accuracy, F1-Score, and MCC of ternary-class classification</text>
<rect x="27.9" y="355" width="306" height="298" fill="#f7f8f8"/>
<line x1="41.4" y1="355" x2="41.4" y2="653" stroke="#ffffff" stroke-width="0.9"/>
<line x1="27.9" y1="639.8" x2="333.9" y2="639.8" stroke="#ffffff" stroke-width="0.9"/>
<line x1="97.26" y1="355" x2="97.26" y2="653" stroke="#ffffff" stroke-width="0.9"/>
<line x1="27.9" y1="585.5" x2="333.9" y2="585.5" stroke="#ffffff" stroke-width="0.9"/>
<line x1="153.12" y1="355" x2="153.12" y2="653" stroke="#ffffff" stroke-width="0.9"/>
<line x1="27.9" y1="531.2" x2="333.9" y2="531.2" stroke="#ffffff" stroke-width="0.9"/>
<line x1="208.98" y1="355" x2="208.98" y2="653" stroke="#ffffff" stroke-width="0.9"/>
<line x1="27.9" y1="476.9" x2="333.9" y2="476.9" stroke="#ffffff" stroke-width="0.9"/>
<line x1="264.84" y1="355" x2="264.84" y2="653" stroke="#ffffff" stroke-width="0.9"/>
<line x1="27.9" y1="422.6" x2="333.9" y2="422.6" stroke="#ffffff" stroke-width="0.9"/>
<line x1="320.7" y1="355" x2="320.7" y2="653" stroke="#ffffff" stroke-width="0.9"/>
<line x1="27.9" y1="368.3" x2="333.9" y2="368.3" stroke="#ffffff" stroke-width="0.9"/>
<line x1="41.4" y1="654" x2="41.4" y2="655.8" stroke="#555" stroke-width="0.7"/>
<text x="41.4" y="663" font-size="6.6" text-anchor="middle" font-weight="normal" fill="#222" textLength="8.8" lengthAdjust="spacingAndGlyphs" stroke="#222" stroke-width="0.08">0.0</text>
<line x1="25.6" y1="639.8" x2="26.9" y2="639.8" stroke="#888" stroke-width="0.7"/>
<text x="23" y="642.2" font-size="6.6" text-anchor="end" font-weight="normal" fill="#222" textLength="8.8" lengthAdjust="spacingAndGlyphs" stroke="#222" stroke-width="0.08">0.0</text>
<line x1="97.26" y1="654" x2="97.26" y2="655.8" stroke="#555" stroke-width="0.7"/>
<text x="97.26" y="663" font-size="6.6" text-anchor="middle" font-weight="normal" fill="#222" textLength="8.8" lengthAdjust="spacingAndGlyphs" stroke="#222" stroke-width="0.08">0.2</text>
<line x1="25.6" y1="585.5" x2="26.9" y2="585.5" stroke="#888" stroke-width="0.7"/>
<text x="23" y="587.9" font-size="6.6" text-anchor="end" font-weight="normal" fill="#222" textLength="8.8" lengthAdjust="spacingAndGlyphs" stroke="#222" stroke-width="0.08">0.2</text>
<line x1="153.12" y1="654" x2="153.12" y2="655.8" stroke="#555" stroke-width="0.7"/>
<text x="153.12" y="663" font-size="6.6" text-anchor="middle" font-weight="normal" fill="#222" textLength="8.8" lengthAdjust="spacingAndGlyphs" stroke="#222" stroke-width="0.08">0.4</text>
<line x1="25.6" y1="531.2" x2="26.9" y2="531.2" stroke="#888" stroke-width="0.7"/>
<text x="23" y="533.6" font-size="6.6" text-anchor="end" font-weight="normal" fill="#222" textLength="8.8" lengthAdjust="spacingAndGlyphs" stroke="#222" stroke-width="0.08">0.4</text>
<line x1="208.98" y1="654" x2="208.98" y2="655.8" stroke="#555" stroke-width="0.7"/>
<text x="208.98" y="663" font-size="6.6" text-anchor="middle" font-weight="normal" fill="#222" textLength="8.8" lengthAdjust="spacingAndGlyphs" stroke="#222" stroke-width="0.08">0.6</text>
<line x1="25.6" y1="476.9" x2="26.9" y2="476.9" stroke="#888" stroke-width="0.7"/>
<text x="23" y="479.3" font-size="6.6" text-anchor="end" font-weight="normal" fill="#222" textLength="8.8" lengthAdjust="spacingAndGlyphs" stroke="#222" stroke-width="0.08">0.6</text>
<line x1="264.84" y1="654" x2="264.84" y2="655.8" stroke="#555" stroke-width="0.7"/>
<text x="264.84" y="663" font-size="6.6" text-anchor="middle" font-weight="normal" fill="#222" textLength="8.8" lengthAdjust="spacingAndGlyphs" stroke="#222" stroke-width="0.08">0.8</text>
<line x1="25.6" y1="422.6" x2="26.9" y2="422.6" stroke="#888" stroke-width="0.7"/>
<text x="23" y="425" font-size="6.6" text-anchor="end" font-weight="normal" fill="#222" textLength="8.8" lengthAdjust="spacingAndGlyphs" stroke="#222" stroke-width="0.08">0.8</text>
<line x1="320.7" y1="654" x2="320.7" y2="655.8" stroke="#555" stroke-width="0.7"/>
<text x="320.7" y="663" font-size="6.6" text-anchor="middle" font-weight="normal" fill="#222" textLength="8.8" lengthAdjust="spacingAndGlyphs" stroke="#222" stroke-width="0.08">1.0</text>
<line x1="25.6" y1="368.3" x2="26.9" y2="368.3" stroke="#888" stroke-width="0.7"/>
<text x="23" y="370.7" font-size="6.6" text-anchor="end" font-weight="normal" fill="#222" textLength="8.8" lengthAdjust="spacingAndGlyphs" stroke="#222" stroke-width="0.08">1.0</text>
<path d="M41.40,639.80 L41.54,625.99 L41.68,612.16 L41.82,598.66 L41.96,585.83 L42.10,574.00 L42.24,563.50 L42.38,554.69 L42.52,547.89 L42.66,542.42 L42.80,537.33 L42.94,532.64 L43.08,528.32 L43.22,524.37 L43.36,520.78 L43.49,517.54 L43.63,514.64 L43.77,512.07 L43.91,509.83 L44.05,507.89 L44.19,506.27 L44.33,504.80 L44.47,503.35 L44.61,501.87 L44.75,500.35 L44.89,498.76 L45.03,497.08 L45.17,495.35 L45.31,493.63 L45.45,491.93 L45.59,490.23 L45.73,488.55 L45.87,486.88 L46.01,485.22 L46.15,483.57 L46.29,481.93 L46.43,480.31 L46.57,478.70 L46.71,477.10 L46.85,475.51 L46.99,473.93 L47.27,470.82 L47.54,467.75 L47.82,464.73 L48.10,461.76 L48.38,458.84 L48.66,455.97 L48.94,453.14 L49.22,450.37 L49.50,447.65 L49.78,444.98 L50.06,442.37 L50.34,439.84 L50.62,437.40 L50.90,435.03 L51.18,432.73 L51.45,430.52 L51.73,428.39 L52.01,426.33 L52.29,424.32 L52.57,422.36 L52.85,420.45 L53.13,418.59 L53.41,416.78 L53.69,415.03 L53.97,413.33 L54.25,411.69 L54.53,410.12 L54.81,408.62 L55.09,407.18 L55.36,405.81 L55.64,404.51 L55.92,403.29 L56.20,402.15 L56.48,401.06 L56.76,399.99 L57.04,398.95 L57.32,397.93 L57.60,396.93 L57.88,395.96 L58.16,395.00 L58.44,394.06 L58.72,393.17 L59.00,392.31 L59.28,391.49 L59.55,390.70 L59.83,389.95 L60.11,389.24 L60.39,388.55 L60.67,387.90 L60.95,387.28 L61.23,386.70 L61.51,386.14 L61.79,385.59 L62.07,385.05 L62.35,384.52 L62.63,384.01 L62.91,383.50 L63.19,383.00 L63.46,382.52 L63.74,382.05 L64.02,381.60 L64.30,381.16 L64.58,380.74 L64.86,380.34 L65.14,379.95 L65.42,379.59 L65.70,379.24 L65.98,378.92 L66.26,378.62 L66.54,378.35 L66.82,378.08 L67.10,377.83 L67.37,377.58 L67.65,377.34 L67.93,377.10 L68.21,376.87 L68.49,376.64 L68.77,376.42 L69.05,376.21 L69.33,376.01 L69.61,375.81 L69.89,375.62 L70.17,375.43 L70.45,375.26 L70.73,375.09 L71.01,374.93 L71.29,374.78 L71.56,374.63 L71.84,374.50 L72.12,374.37 L72.40,374.25 L72.68,374.14 L72.96,374.04 L73.24,373.94 L73.52,373.86 L73.80,373.78 L74.08,373.72 L74.36,373.65 L74.64,373.58 L74.92,373.52 L75.20,373.46 L75.47,373.40 L75.75,373.35 L76.03,373.29 L76.31,373.24 L76.59,373.19 L76.87,373.14 L77.15,373.10 L77.43,373.05 L77.71,373.01 L77.99,372.97 L78.27,372.94 L78.55,372.90 L78.83,372.87 L79.11,372.84 L79.38,372.81 L79.66,372.79 L79.94,372.76 L80.22,372.74 L80.50,372.72 L80.78,372.69 L81.06,372.68 L81.34,372.66 L81.62,372.64 L81.90,372.62 L82.18,372.61 L82.46,372.60 L82.74,372.58 L83.02,372.57 L83.29,372.56 L83.57,372.55 L83.85,372.54 L84.13,372.53 L84.41,372.52 L84.69,372.51 L84.97,372.50 L85.25,372.49 L85.53,372.49 L85.81,372.48 L86.09,372.47 L86.37,372.46 L86.65,372.45 L86.93,372.44 L87.21,372.43 L87.48,372.42 L87.76,372.41 L88.04,372.40 L88.32,372.39 L88.60,372.38 L88.88,372.37 L89.16,372.35 L89.44,372.34 L89.72,372.32 L90.00,372.31 L90.28,372.29 L90.56,372.28 L90.84,372.26 L91.12,372.24 L91.39,372.22 L91.67,372.20 L91.95,372.18 L92.23,372.17 L92.51,372.14 L92.79,372.12 L93.07,372.10 L93.35,372.08 L93.63,372.06 L93.91,372.04 L94.19,372.02 L94.47,371.99 L94.75,371.97 L95.03,371.95 L95.30,371.92 L95.58,371.90 L95.86,371.88 L96.14,371.85 L96.42,371.83 L96.70,371.81 L96.98,371.78 L97.26,371.76 L97.54,371.73 L97.82,371.71 L98.10,371.69 L98.38,371.67 L98.66,371.65 L98.94,371.63 L99.22,371.61 L99.49,371.59 L99.77,371.58 L100.05,371.56 L100.33,371.55 L100.61,371.54 L100.89,371.53 L101.17,371.52 L101.45,371.51 L101.73,371.51 L102.01,371.50 L102.29,371.50 L102.57,371.50 L102.85,371.50 L103.13,371.50 L103.40,371.50 L103.68,371.50 L103.96,371.51 L104.24,371.51 L104.52,371.51 L104.80,371.52 L105.08,371.52 L105.36,371.52 L105.64,371.53 L105.92,371.53 L106.20,371.54 L106.48,371.54 L106.76,371.55 L107.04,371.55 L107.31,371.56 L107.59,371.57 L107.87,371.57 L108.15,371.58 L108.43,371.58 L108.71,371.59 L108.99,371.60 L109.27,371.60 L109.55,371.61 L109.83,371.62 L110.11,371.62 L110.39,371.63 L110.67,371.63 L110.95,371.64 L111.22,371.65 L111.50,371.65 L111.78,371.66 L112.06,371.67 L112.34,371.67 L112.62,371.68 L112.90,371.68 L113.18,371.69 L113.46,371.69 L113.74,371.70 L114.02,371.70 L114.30,371.70 L114.58,371.71 L114.86,371.71 L115.14,371.71 L115.41,371.72 L115.69,371.72 L115.97,371.72 L116.25,371.72 L116.53,371.72 L116.81,371.72 L117.09,371.72 L117.37,371.72 L117.65,371.72 L117.93,371.72 L118.21,371.72 L118.49,371.71 L118.77,371.71 L119.05,371.70 L119.32,371.70 L119.60,371.69 L119.88,371.69 L120.16,371.68 L120.44,371.67 L120.72,371.67 L121.00,371.66 L121.28,371.65 L121.56,371.64 L121.84,371.63 L122.12,371.62 L122.40,371.61 L122.68,371.60 L122.96,371.58 L123.23,371.57 L123.51,371.56 L123.79,371.54 L124.07,371.53 L124.35,371.51 L124.63,371.50 L124.91,371.48 L125.19,371.47 L126.59,371.38 L127.98,371.29 L129.38,371.20 L130.78,371.10 L132.17,370.99 L133.57,370.89 L134.97,370.78 L136.36,370.67 L137.76,370.56 L139.16,370.46 L140.55,370.35 L141.95,370.25 L143.34,370.14 L144.74,370.05 L146.14,369.96 L147.53,369.87 L148.93,369.79 L150.33,369.72 L151.72,369.65 L153.12,369.58 L154.52,369.52 L155.91,369.46 L157.31,369.39 L158.71,369.33 L160.10,369.27 L161.50,369.22 L162.90,369.16 L164.29,369.11 L165.69,369.06 L167.08,369.00 L168.48,368.95 L169.88,368.91 L171.27,368.86 L172.67,368.82 L174.07,368.77 L175.46,368.73 L176.86,368.69 L178.26,368.65 L179.65,368.62 L181.05,368.58 L182.45,368.55 L183.84,368.51 L185.24,368.48 L186.64,368.44 L188.03,368.41 L189.43,368.38 L190.83,368.35 L192.22,368.31 L193.62,368.30 L195.02,368.30 L196.41,368.30 L197.81,368.30 L199.20,368.30 L200.60,368.30 L202.00,368.30 L203.39,368.30 L204.79,368.30 L206.19,368.30 L207.58,368.30 L208.98,368.30 L210.38,368.30 L211.77,368.30 L213.17,368.30 L214.57,368.30 L215.96,368.30 L217.36,368.30 L218.76,368.30 L220.15,368.30 L221.55,368.30 L222.95,368.30 L224.34,368.30 L225.74,368.30 L227.13,368.30 L228.53,368.30 L229.93,368.30 L231.32,368.30 L232.72,368.30 L234.12,368.30 L235.51,368.30 L236.91,368.30 L238.31,368.30 L239.70,368.30 L241.10,368.30 L242.50,368.30 L243.89,368.30 L245.29,368.30 L246.69,368.30 L248.08,368.30 L249.48,368.30 L250.88,368.30 L252.27,368.30 L253.67,368.30 L255.06,368.30 L256.46,368.30 L257.86,368.30 L259.25,368.30 L260.65,368.30 L262.05,368.30 L263.44,368.30 L264.84,368.30 L266.24,368.30 L267.63,368.30 L269.03,368.30 L270.43,368.30 L271.82,368.30 L273.22,368.30 L274.62,368.30 L276.01,368.30 L277.41,368.30 L278.81,368.30 L280.20,368.30 L281.60,368.30 L282.99,368.30 L284.39,368.30 L285.79,368.30 L287.18,368.30 L288.58,368.30 L289.98,368.30 L291.37,368.30 L292.77,368.30 L294.17,368.30 L295.56,368.30 L296.96,368.30 L298.36,368.30 L299.75,368.30 L301.15,368.30 L302.55,368.30 L303.94,368.30 L305.34,368.30 L306.73,368.30 L308.13,368.30 L309.53,368.30 L310.92,368.30 L312.32,368.30 L313.72,368.30 L315.11,368.30 L316.51,368.30 L317.91,368.30 L319.30,368.30 L320.70,368.30 L320.70,368.30 L319.30,368.31 L317.91,368.32 L316.51,368.33 L315.11,368.34 L313.72,368.36 L312.32,368.37 L310.92,368.38 L309.53,368.39 L308.13,368.40 L306.73,368.42 L305.34,368.43 L303.94,368.44 L302.55,368.46 L301.15,368.47 L299.75,368.48 L298.36,368.50 L296.96,368.51 L295.56,368.53 L294.17,368.54 L292.77,368.56 L291.37,368.57 L289.98,368.59 L288.58,368.60 L287.18,368.62 L285.79,368.63 L284.39,368.65 L282.99,368.66 L281.60,368.68 L280.20,368.69 L278.81,368.71 L277.41,368.73 L276.01,368.74 L274.62,368.76 L273.22,368.78 L271.82,368.79 L270.43,368.81 L269.03,368.83 L267.63,368.85 L266.24,368.86 L264.84,368.88 L263.44,368.90 L262.05,368.91 L260.65,368.93 L259.25,368.95 L257.86,368.97 L256.46,368.99 L255.06,369.00 L253.67,369.02 L252.27,369.04 L250.88,369.06 L249.48,369.08 L248.08,369.09 L246.69,369.11 L245.29,369.13 L243.89,369.15 L242.50,369.17 L241.10,369.19 L239.70,369.21 L238.31,369.23 L236.91,369.25 L235.51,369.27 L234.12,369.29 L232.72,369.31 L231.32,369.33 L229.93,369.35 L228.53,369.37 L227.13,369.39 L225.74,369.41 L224.34,369.44 L222.95,369.46 L221.55,369.48 L220.15,369.51 L218.76,369.53 L217.36,369.56 L215.96,369.58 L214.57,369.61 L213.17,369.64 L211.77,369.67 L210.38,369.70 L208.98,369.73 L207.58,369.77 L206.19,369.80 L204.79,369.85 L203.39,369.89 L202.00,369.93 L200.60,369.98 L199.20,370.03 L197.81,370.08 L196.41,370.13 L195.02,370.18 L193.62,370.24 L192.22,370.29 L190.83,370.35 L189.43,370.40 L188.03,370.46 L186.64,370.52 L185.24,370.58 L183.84,370.64 L182.45,370.69 L181.05,370.75 L179.65,370.81 L178.26,370.87 L176.86,370.93 L175.46,370.99 L174.07,371.06 L172.67,371.12 L171.27,371.19 L169.88,371.25 L168.48,371.32 L167.08,371.39 L165.69,371.46 L164.29,371.53 L162.90,371.60 L161.50,371.68 L160.10,371.76 L158.71,371.83 L157.31,371.92 L155.91,372.00 L154.52,372.08 L153.12,372.17 L151.72,372.26 L150.33,372.35 L148.93,372.44 L147.53,372.55 L146.14,372.66 L144.74,372.78 L143.34,372.90 L141.95,373.03 L140.55,373.17 L139.16,373.31 L137.76,373.45 L136.36,373.59 L134.97,373.73 L133.57,373.88 L132.17,374.02 L130.78,374.17 L129.38,374.31 L127.98,374.45 L126.59,374.59 L125.19,374.73 L124.91,374.75 L124.63,374.78 L124.35,374.80 L124.07,374.83 L123.79,374.86 L123.51,374.88 L123.23,374.91 L122.96,374.94 L122.68,374.96 L122.40,374.99 L122.12,375.02 L121.84,375.04 L121.56,375.07 L121.28,375.10 L121.00,375.12 L120.72,375.15 L120.44,375.18 L120.16,375.20 L119.88,375.23 L119.60,375.25 L119.32,375.28 L119.05,375.31 L118.77,375.33 L118.49,375.36 L118.21,375.38 L117.93,375.41 L117.65,375.43 L117.37,375.46 L117.09,375.48 L116.81,375.51 L116.53,375.53 L116.25,375.56 L115.97,375.58 L115.69,375.60 L115.41,375.63 L115.14,375.65 L114.86,375.68 L114.58,375.70 L114.30,375.73 L114.02,375.75 L113.74,375.78 L113.46,375.80 L113.18,375.83 L112.90,375.85 L112.62,375.88 L112.34,375.91 L112.06,375.93 L111.78,375.96 L111.50,375.99 L111.22,376.01 L110.95,376.04 L110.67,376.07 L110.39,376.10 L110.11,376.13 L109.83,376.15 L109.55,376.18 L109.27,376.21 L108.99,376.24 L108.71,376.27 L108.43,376.30 L108.15,376.34 L107.87,376.37 L107.59,376.40 L107.31,376.43 L107.04,376.47 L106.76,376.50 L106.48,376.54 L106.20,376.57 L105.92,376.61 L105.64,376.64 L105.36,376.68 L105.08,376.72 L104.80,376.76 L104.52,376.80 L104.24,376.84 L103.96,376.88 L103.68,376.92 L103.40,376.96 L103.13,377.00 L102.85,377.05 L102.57,377.09 L102.29,377.14 L102.01,377.19 L101.73,377.24 L101.45,377.29 L101.17,377.35 L100.89,377.40 L100.61,377.46 L100.33,377.52 L100.05,377.58 L99.77,377.64 L99.49,377.71 L99.22,377.77 L98.94,377.84 L98.66,377.91 L98.38,377.98 L98.10,378.05 L97.82,378.12 L97.54,378.20 L97.26,378.27 L96.98,378.35 L96.70,378.43 L96.42,378.51 L96.14,378.59 L95.86,378.68 L95.58,378.77 L95.30,378.86 L95.03,378.95 L94.75,379.04 L94.47,379.14 L94.19,379.23 L93.91,379.33 L93.63,379.43 L93.35,379.54 L93.07,379.64 L92.79,379.74 L92.51,379.85 L92.23,379.96 L91.95,380.07 L91.67,380.18 L91.39,380.29 L91.12,380.40 L90.84,380.52 L90.56,380.63 L90.28,380.75 L90.00,380.86 L89.72,380.98 L89.44,381.10 L89.16,381.22 L88.88,381.34 L88.60,381.46 L88.32,381.58 L88.04,381.71 L87.76,381.83 L87.48,381.95 L87.21,382.08 L86.93,382.20 L86.65,382.33 L86.37,382.46 L86.09,382.59 L85.81,382.72 L85.53,382.85 L85.25,382.98 L84.97,383.11 L84.69,383.25 L84.41,383.38 L84.13,383.52 L83.85,383.66 L83.57,383.79 L83.29,383.94 L83.02,384.08 L82.74,384.22 L82.46,384.37 L82.18,384.51 L81.90,384.66 L81.62,384.81 L81.34,384.97 L81.06,385.12 L80.78,385.28 L80.50,385.43 L80.22,385.59 L79.94,385.76 L79.66,385.92 L79.38,386.09 L79.11,386.25 L78.83,386.43 L78.55,386.60 L78.27,386.77 L77.99,386.95 L77.71,387.13 L77.43,387.31 L77.15,387.50 L76.87,387.69 L76.59,387.88 L76.31,388.07 L76.03,388.27 L75.75,388.46 L75.47,388.67 L75.20,388.87 L74.92,389.08 L74.64,389.30 L74.36,389.52 L74.08,389.74 L73.80,389.97 L73.52,390.20 L73.24,390.45 L72.96,390.71 L72.68,390.98 L72.40,391.26 L72.12,391.55 L71.84,391.86 L71.56,392.18 L71.29,392.51 L71.01,392.86 L70.73,393.21 L70.45,393.58 L70.17,393.96 L69.89,394.36 L69.61,394.76 L69.33,395.18 L69.05,395.61 L68.77,396.06 L68.49,396.51 L68.21,396.98 L67.93,397.47 L67.65,397.96 L67.37,398.47 L67.10,398.99 L66.82,399.52 L66.54,400.07 L66.26,400.64 L65.98,401.27 L65.70,401.95 L65.42,402.68 L65.14,403.45 L64.86,404.26 L64.58,405.11 L64.30,406.01 L64.02,406.93 L63.74,407.90 L63.46,408.89 L63.19,409.91 L62.91,410.97 L62.63,412.04 L62.35,413.14 L62.07,414.26 L61.79,415.41 L61.51,416.56 L61.23,417.74 L60.95,418.95 L60.67,420.20 L60.39,421.49 L60.11,422.81 L59.83,424.16 L59.55,425.55 L59.28,426.98 L59.00,428.44 L58.72,429.93 L58.44,431.45 L58.16,433.01 L57.88,434.60 L57.60,436.25 L57.32,437.95 L57.04,439.70 L56.76,441.50 L56.48,443.34 L56.20,445.23 L55.92,447.18 L55.64,449.23 L55.36,451.36 L55.09,453.56 L54.81,455.85 L54.53,458.20 L54.25,460.62 L53.97,463.09 L53.69,465.62 L53.41,468.19 L53.13,470.80 L52.85,473.46 L52.57,476.14 L52.29,478.85 L52.01,481.57 L51.73,484.32 L51.45,487.12 L51.18,489.96 L50.90,492.84 L50.62,495.75 L50.34,498.71 L50.06,501.69 L49.78,504.71 L49.50,507.77 L49.22,510.88 L48.94,514.04 L48.66,517.24 L48.38,520.49 L48.10,523.79 L47.82,527.12 L47.54,530.49 L47.27,533.90 L46.99,537.33 L46.85,539.06 L46.71,540.80 L46.57,542.54 L46.43,544.29 L46.29,546.05 L46.15,547.81 L46.01,549.58 L45.87,551.35 L45.73,553.12 L45.59,554.90 L45.45,556.69 L45.31,558.47 L45.17,560.27 L45.03,562.06 L44.89,563.80 L44.75,565.43 L44.61,566.98 L44.47,568.48 L44.33,569.96 L44.19,571.43 L44.05,572.79 L43.91,573.95 L43.77,574.95 L43.63,575.83 L43.49,576.63 L43.36,577.39 L43.22,578.16 L43.08,578.97 L42.94,579.87 L42.80,580.89 L42.66,582.07 L42.52,583.47 L42.38,586.03 L42.24,590.48 L42.10,596.52 L41.96,603.84 L41.82,612.14 L41.68,621.10 L41.54,630.42 L41.40,639.80 Z" fill="#e69f00" fill-opacity="0.24"/>
<path d="M41.40,639.80 L41.54,626.32 L41.68,613.12 L41.82,600.54 L41.96,588.91 L42.10,578.01 L42.24,567.40 L42.38,557.11 L42.52,547.15 L42.66,537.52 L42.80,528.23 L42.94,519.31 L43.08,510.75 L43.22,502.58 L43.36,494.80 L43.49,487.42 L43.63,480.46 L43.77,473.93 L43.91,467.83 L44.05,462.07 L44.19,456.58 L44.33,451.34 L44.47,446.35 L44.61,441.66 L44.75,437.31 L44.89,433.36 L45.03,429.87 L45.17,426.88 L45.31,424.44 L45.45,422.50 L45.59,420.89 L45.73,419.54 L45.87,418.36 L46.01,417.26 L46.15,416.18 L46.29,415.01 L46.43,413.69 L46.57,412.14 L46.71,410.40 L46.85,408.55 L46.99,406.67 L47.27,403.25 L47.54,400.89 L47.82,399.39 L48.10,398.06 L48.38,396.91 L48.66,395.89 L48.94,395.00 L49.22,394.20 L49.50,393.48 L49.78,392.82 L50.06,392.24 L50.34,391.77 L50.62,391.37 L50.90,390.99 L51.18,390.62 L51.45,390.28 L51.73,389.96 L52.01,389.65 L52.29,389.37 L52.57,389.10 L52.85,388.85 L53.13,388.61 L53.41,388.40 L53.69,388.19 L53.97,388.01 L54.25,387.84 L54.53,387.70 L54.81,387.58 L55.09,387.47 L55.36,387.36 L55.64,387.26 L55.92,387.16 L56.20,387.06 L56.48,386.96 L56.76,386.87 L57.04,386.78 L57.32,386.69 L57.60,386.61 L57.88,386.54 L58.16,386.47 L58.44,386.41 L58.72,386.35 L59.00,386.30 L59.28,386.26 L59.55,386.23 L59.83,386.19 L60.11,386.17 L60.39,386.14 L60.67,386.12 L60.95,386.11 L61.23,386.09 L61.51,386.08 L61.79,386.06 L62.07,386.05 L62.35,386.04 L62.63,386.02 L62.91,386.01 L63.19,385.99 L63.46,385.97 L63.74,385.94 L64.02,385.92 L64.30,385.88 L64.58,385.85 L64.86,385.80 L65.14,385.76 L65.42,385.70 L65.70,385.65 L65.98,385.59 L66.26,385.53 L66.54,385.47 L66.82,385.42 L67.10,385.36 L67.37,385.30 L67.65,385.25 L67.93,385.20 L68.21,385.14 L68.49,385.09 L68.77,385.04 L69.05,384.98 L69.33,384.93 L69.61,384.88 L69.89,384.83 L70.17,384.78 L70.45,384.72 L70.73,384.67 L71.01,384.62 L71.29,384.57 L71.56,384.52 L71.84,384.47 L72.12,384.42 L72.40,384.38 L72.68,384.33 L72.96,384.28 L73.24,384.23 L73.52,384.18 L73.80,384.13 L74.08,384.08 L74.36,384.03 L74.64,383.98 L74.92,383.94 L75.20,383.89 L75.47,383.84 L75.75,383.79 L76.03,383.74 L76.31,383.69 L76.59,383.64 L76.87,383.59 L77.15,383.54 L77.43,383.49 L77.71,383.44 L77.99,383.39 L78.27,383.34 L78.55,383.29 L78.83,383.24 L79.11,383.18 L79.38,383.13 L79.66,383.08 L79.94,383.03 L80.22,382.97 L80.50,382.92 L80.78,382.86 L81.06,382.81 L81.34,382.75 L81.62,382.70 L81.90,382.64 L82.18,382.58 L82.46,382.52 L82.74,382.46 L83.02,382.40 L83.29,382.34 L83.57,382.28 L83.85,382.22 L84.13,382.16 L84.41,382.10 L84.69,382.04 L84.97,381.98 L85.25,381.92 L85.53,381.86 L85.81,381.80 L86.09,381.74 L86.37,381.68 L86.65,381.62 L86.93,381.57 L87.21,381.51 L87.48,381.45 L87.76,381.39 L88.04,381.34 L88.32,381.28 L88.60,381.22 L88.88,381.17 L89.16,381.11 L89.44,381.06 L89.72,381.00 L90.00,380.95 L90.28,380.89 L90.56,380.84 L90.84,380.79 L91.12,380.74 L91.39,380.69 L91.67,380.64 L91.95,380.59 L92.23,380.54 L92.51,380.49 L92.79,380.44 L93.07,380.39 L93.35,380.35 L93.63,380.30 L93.91,380.26 L94.19,380.22 L94.47,380.17 L94.75,380.13 L95.03,380.09 L95.30,380.05 L95.58,380.01 L95.86,379.97 L96.14,379.94 L96.42,379.90 L96.70,379.87 L96.98,379.83 L97.26,379.80 L97.54,379.77 L97.82,379.74 L98.10,379.70 L98.38,379.67 L98.66,379.64 L98.94,379.61 L99.22,379.59 L99.49,379.56 L99.77,379.53 L100.05,379.50 L100.33,379.47 L100.61,379.45 L100.89,379.42 L101.17,379.39 L101.45,379.37 L101.73,379.34 L102.01,379.32 L102.29,379.29 L102.57,379.27 L102.85,379.24 L103.13,379.22 L103.40,379.20 L103.68,379.17 L103.96,379.15 L104.24,379.13 L104.52,379.11 L104.80,379.08 L105.08,379.06 L105.36,379.04 L105.64,379.02 L105.92,379.00 L106.20,378.98 L106.48,378.96 L106.76,378.94 L107.04,378.92 L107.31,378.89 L107.59,378.87 L107.87,378.85 L108.15,378.83 L108.43,378.81 L108.71,378.79 L108.99,378.77 L109.27,378.76 L109.55,378.74 L109.83,378.72 L110.11,378.70 L110.39,378.68 L110.67,378.66 L110.95,378.64 L111.22,378.62 L111.50,378.60 L111.78,378.58 L112.06,378.56 L112.34,378.54 L112.62,378.52 L112.90,378.50 L113.18,378.48 L113.46,378.46 L113.74,378.44 L114.02,378.42 L114.30,378.40 L114.58,378.38 L114.86,378.36 L115.14,378.34 L115.41,378.32 L115.69,378.30 L115.97,378.28 L116.25,378.26 L116.53,378.23 L116.81,378.21 L117.09,378.19 L117.37,378.17 L117.65,378.15 L117.93,378.12 L118.21,378.10 L118.49,378.08 L118.77,378.05 L119.05,378.03 L119.32,378.01 L119.60,377.98 L119.88,377.96 L120.16,377.93 L120.44,377.91 L120.72,377.88 L121.00,377.86 L121.28,377.83 L121.56,377.81 L121.84,377.78 L122.12,377.76 L122.40,377.73 L122.68,377.71 L122.96,377.68 L123.23,377.66 L123.51,377.63 L123.79,377.60 L124.07,377.58 L124.35,377.55 L124.63,377.53 L124.91,377.50 L125.19,377.48 L126.59,377.35 L127.98,377.22 L129.38,377.09 L130.78,376.96 L132.17,376.83 L133.57,376.70 L134.97,376.56 L136.36,376.43 L137.76,376.29 L139.16,376.16 L140.55,376.02 L141.95,375.89 L143.34,375.75 L144.74,375.61 L146.14,375.48 L147.53,375.34 L148.93,375.20 L150.33,375.06 L151.72,374.93 L153.12,374.79 L154.52,374.65 L155.91,374.51 L157.31,374.37 L158.71,374.22 L160.10,374.08 L161.50,373.94 L162.90,373.79 L164.29,373.65 L165.69,373.51 L167.08,373.36 L168.48,373.22 L169.88,373.08 L171.27,372.94 L172.67,372.80 L174.07,372.66 L175.46,372.53 L176.86,372.39 L178.26,372.26 L179.65,372.13 L181.05,372.00 L182.45,371.87 L183.84,371.74 L185.24,371.61 L186.64,371.48 L188.03,371.35 L189.43,371.22 L190.83,371.09 L192.22,370.96 L193.62,370.83 L195.02,370.71 L196.41,370.58 L197.81,370.46 L199.20,370.34 L200.60,370.22 L202.00,370.11 L203.39,370.00 L204.79,369.90 L206.19,369.80 L207.58,369.70 L208.98,369.61 L210.38,369.53 L211.77,369.45 L213.17,369.37 L214.57,369.30 L215.96,369.23 L217.36,369.16 L218.76,369.09 L220.15,369.03 L221.55,368.96 L222.95,368.90 L224.34,368.84 L225.74,368.78 L227.13,368.73 L228.53,368.68 L229.93,368.62 L231.32,368.57 L232.72,368.53 L234.12,368.48 L235.51,368.44 L236.91,368.40 L238.31,368.36 L239.70,368.33 L241.10,368.30 L242.50,368.30 L243.89,368.30 L245.29,368.30 L246.69,368.30 L248.08,368.30 L249.48,368.30 L250.88,368.30 L252.27,368.30 L253.67,368.30 L255.06,368.30 L256.46,368.30 L257.86,368.30 L259.25,368.30 L260.65,368.30 L262.05,368.30 L263.44,368.30 L264.84,368.30 L266.24,368.30 L267.63,368.30 L269.03,368.30 L270.43,368.30 L271.82,368.30 L273.22,368.30 L274.62,368.30 L276.01,368.30 L277.41,368.30 L278.81,368.30 L280.20,368.30 L281.60,368.30 L282.99,368.30 L284.39,368.30 L285.79,368.30 L287.18,368.30 L288.58,368.30 L289.98,368.30 L291.37,368.30 L292.77,368.30 L294.17,368.30 L295.56,368.30 L296.96,368.30 L298.36,368.30 L299.75,368.30 L301.15,368.30 L302.55,368.30 L303.94,368.30 L305.34,368.30 L306.73,368.30 L308.13,368.30 L309.53,368.30 L310.92,368.30 L312.32,368.30 L313.72,368.30 L315.11,368.30 L316.51,368.30 L317.91,368.30 L319.30,368.30 L320.70,368.30 L320.70,368.30 L319.30,368.32 L317.91,368.34 L316.51,368.36 L315.11,368.38 L313.72,368.40 L312.32,368.43 L310.92,368.45 L309.53,368.47 L308.13,368.50 L306.73,368.52 L305.34,368.55 L303.94,368.57 L302.55,368.60 L301.15,368.62 L299.75,368.65 L298.36,368.68 L296.96,368.71 L295.56,368.73 L294.17,368.76 L292.77,368.79 L291.37,368.82 L289.98,368.85 L288.58,368.88 L287.18,368.91 L285.79,368.95 L284.39,368.98 L282.99,369.01 L281.60,369.04 L280.20,369.07 L278.81,369.11 L277.41,369.14 L276.01,369.17 L274.62,369.21 L273.22,369.24 L271.82,369.28 L270.43,369.31 L269.03,369.36 L267.63,369.40 L266.24,369.45 L264.84,369.50 L263.44,369.55 L262.05,369.60 L260.65,369.66 L259.25,369.71 L257.86,369.77 L256.46,369.83 L255.06,369.90 L253.67,369.96 L252.27,370.03 L250.88,370.09 L249.48,370.16 L248.08,370.23 L246.69,370.30 L245.29,370.37 L243.89,370.44 L242.50,370.51 L241.10,370.58 L239.70,370.65 L238.31,370.73 L236.91,370.81 L235.51,370.89 L234.12,370.98 L232.72,371.06 L231.32,371.15 L229.93,371.24 L228.53,371.34 L227.13,371.43 L225.74,371.53 L224.34,371.63 L222.95,371.73 L221.55,371.84 L220.15,371.94 L218.76,372.05 L217.36,372.16 L215.96,372.27 L214.57,372.39 L213.17,372.50 L211.77,372.62 L210.38,372.74 L208.98,372.87 L207.58,373.00 L206.19,373.14 L204.79,373.28 L203.39,373.43 L202.00,373.58 L200.60,373.73 L199.20,373.89 L197.81,374.05 L196.41,374.21 L195.02,374.38 L193.62,374.54 L192.22,374.71 L190.83,374.88 L189.43,375.05 L188.03,375.22 L186.64,375.39 L185.24,375.56 L183.84,375.73 L182.45,375.90 L181.05,376.06 L179.65,376.23 L178.26,376.40 L176.86,376.58 L175.46,376.75 L174.07,376.93 L172.67,377.11 L171.27,377.29 L169.88,377.47 L168.48,377.65 L167.08,377.83 L165.69,378.02 L164.29,378.20 L162.90,378.39 L161.50,378.57 L160.10,378.76 L158.71,378.95 L157.31,379.13 L155.91,379.32 L154.52,379.51 L153.12,379.69 L151.72,379.88 L150.33,380.06 L148.93,380.25 L147.53,380.43 L146.14,380.62 L144.74,380.80 L143.34,380.99 L141.95,381.18 L140.55,381.37 L139.16,381.55 L137.76,381.74 L136.36,381.93 L134.97,382.12 L133.57,382.31 L132.17,382.50 L130.78,382.69 L129.38,382.88 L127.98,383.07 L126.59,383.26 L125.19,383.45 L124.91,383.49 L124.63,383.53 L124.35,383.56 L124.07,383.60 L123.79,383.64 L123.51,383.68 L123.23,383.72 L122.96,383.75 L122.68,383.79 L122.40,383.83 L122.12,383.87 L121.84,383.90 L121.56,383.94 L121.28,383.98 L121.00,384.02 L120.72,384.05 L120.44,384.09 L120.16,384.13 L119.88,384.16 L119.60,384.20 L119.32,384.24 L119.05,384.27 L118.77,384.31 L118.49,384.35 L118.21,384.38 L117.93,384.42 L117.65,384.45 L117.37,384.49 L117.09,384.52 L116.81,384.56 L116.53,384.59 L116.25,384.62 L115.97,384.66 L115.69,384.69 L115.41,384.72 L115.14,384.76 L114.86,384.79 L114.58,384.82 L114.30,384.86 L114.02,384.89 L113.74,384.92 L113.46,384.96 L113.18,384.99 L112.90,385.02 L112.62,385.05 L112.34,385.09 L112.06,385.12 L111.78,385.15 L111.50,385.18 L111.22,385.22 L110.95,385.25 L110.67,385.28 L110.39,385.32 L110.11,385.35 L109.83,385.38 L109.55,385.42 L109.27,385.45 L108.99,385.48 L108.71,385.52 L108.43,385.55 L108.15,385.59 L107.87,385.62 L107.59,385.66 L107.31,385.69 L107.04,385.73 L106.76,385.76 L106.48,385.80 L106.20,385.83 L105.92,385.87 L105.64,385.91 L105.36,385.94 L105.08,385.98 L104.80,386.02 L104.52,386.05 L104.24,386.09 L103.96,386.13 L103.68,386.17 L103.40,386.21 L103.13,386.25 L102.85,386.29 L102.57,386.33 L102.29,386.37 L102.01,386.41 L101.73,386.46 L101.45,386.50 L101.17,386.54 L100.89,386.59 L100.61,386.63 L100.33,386.68 L100.05,386.72 L99.77,386.77 L99.49,386.81 L99.22,386.86 L98.94,386.91 L98.66,386.96 L98.38,387.01 L98.10,387.06 L97.82,387.11 L97.54,387.16 L97.26,387.21 L96.98,387.26 L96.70,387.32 L96.42,387.37 L96.14,387.43 L95.86,387.49 L95.58,387.54 L95.30,387.61 L95.03,387.67 L94.75,387.73 L94.47,387.79 L94.19,387.86 L93.91,387.92 L93.63,387.99 L93.35,388.06 L93.07,388.13 L92.79,388.20 L92.51,388.27 L92.23,388.34 L91.95,388.41 L91.67,388.49 L91.39,388.56 L91.12,388.64 L90.84,388.71 L90.56,388.79 L90.28,388.87 L90.00,388.95 L89.72,389.03 L89.44,389.11 L89.16,389.19 L88.88,389.27 L88.60,389.35 L88.32,389.44 L88.04,389.52 L87.76,389.60 L87.48,389.69 L87.21,389.78 L86.93,389.86 L86.65,389.95 L86.37,390.04 L86.09,390.12 L85.81,390.21 L85.53,390.30 L85.25,390.39 L84.97,390.48 L84.69,390.57 L84.41,390.66 L84.13,390.76 L83.85,390.85 L83.57,390.94 L83.29,391.03 L83.02,391.13 L82.74,391.22 L82.46,391.31 L82.18,391.41 L81.90,391.51 L81.62,391.60 L81.34,391.70 L81.06,391.80 L80.78,391.90 L80.50,392.00 L80.22,392.10 L79.94,392.21 L79.66,392.31 L79.38,392.42 L79.11,392.52 L78.83,392.63 L78.55,392.74 L78.27,392.85 L77.99,392.96 L77.71,393.07 L77.43,393.18 L77.15,393.30 L76.87,393.41 L76.59,393.53 L76.31,393.65 L76.03,393.77 L75.75,393.89 L75.47,394.01 L75.20,394.13 L74.92,394.26 L74.64,394.38 L74.36,394.51 L74.08,394.64 L73.80,394.77 L73.52,394.90 L73.24,395.03 L72.96,395.16 L72.68,395.30 L72.40,395.44 L72.12,395.58 L71.84,395.72 L71.56,395.86 L71.29,396.00 L71.01,396.15 L70.73,396.29 L70.45,396.44 L70.17,396.59 L69.89,396.74 L69.61,396.89 L69.33,397.05 L69.05,397.21 L68.77,397.36 L68.49,397.52 L68.21,397.69 L67.93,397.85 L67.65,398.01 L67.37,398.18 L67.10,398.35 L66.82,398.52 L66.54,398.69 L66.26,398.87 L65.98,399.04 L65.70,399.22 L65.42,399.40 L65.14,399.59 L64.86,399.79 L64.58,399.99 L64.30,400.19 L64.02,400.40 L63.74,400.61 L63.46,400.82 L63.19,401.04 L62.91,401.26 L62.63,401.48 L62.35,401.71 L62.07,401.95 L61.79,402.18 L61.51,402.42 L61.23,402.67 L60.95,402.92 L60.67,403.17 L60.39,403.42 L60.11,403.68 L59.83,403.95 L59.55,404.22 L59.28,404.49 L59.00,404.77 L58.72,405.05 L58.44,405.33 L58.16,405.62 L57.88,405.91 L57.60,406.21 L57.32,406.52 L57.04,406.84 L56.76,407.17 L56.48,407.51 L56.20,407.86 L55.92,408.22 L55.64,408.60 L55.36,409.00 L55.09,409.41 L54.81,409.84 L54.53,410.30 L54.25,410.80 L53.97,411.36 L53.69,411.96 L53.41,412.61 L53.13,413.33 L52.85,414.10 L52.57,414.92 L52.29,415.80 L52.01,416.74 L51.73,417.73 L51.45,418.79 L51.18,419.89 L50.90,421.06 L50.62,422.28 L50.34,423.57 L50.06,424.95 L49.78,426.48 L49.50,428.22 L49.22,430.19 L48.94,432.38 L48.66,434.80 L48.38,437.42 L48.10,440.25 L47.82,443.27 L47.54,446.48 L47.27,450.51 L46.99,455.54 L46.85,458.25 L46.71,461.00 L46.57,463.70 L46.43,466.26 L46.29,468.64 L46.15,470.88 L46.01,473.05 L45.87,475.22 L45.73,477.48 L45.59,479.87 L45.45,482.48 L45.31,485.38 L45.17,488.70 L45.03,492.50 L44.89,496.71 L44.75,501.28 L44.61,506.13 L44.47,511.20 L44.33,516.42 L44.19,521.74 L44.05,527.01 L43.91,532.12 L43.77,537.15 L43.63,542.23 L43.49,547.36 L43.36,552.55 L43.22,557.81 L43.08,563.14 L42.94,568.55 L42.80,574.05 L42.66,579.64 L42.52,585.33 L42.38,591.13 L42.24,597.04 L42.10,603.08 L41.96,609.24 L41.82,615.98 L41.68,623.52 L41.54,631.57 L41.40,639.80 Z" fill="#56b4e9" fill-opacity="0.24"/>
<path d="M41.40,639.80 L41.54,628.20 L41.68,616.63 L41.82,605.40 L41.96,594.84 L42.10,585.26 L42.24,576.99 L42.38,570.36 L42.52,565.68 L42.66,562.24 L42.80,559.11 L42.94,556.25 L43.08,553.65 L43.22,551.27 L43.36,549.09 L43.49,547.08 L43.63,545.23 L43.77,543.51 L43.91,541.89 L44.05,540.34 L44.19,538.85 L44.33,537.38 L44.47,535.92 L44.61,534.43 L44.75,532.89 L44.89,531.28 L45.03,529.57 L45.17,527.81 L45.31,526.05 L45.45,524.31 L45.59,522.57 L45.73,520.84 L45.87,519.11 L46.01,517.40 L46.15,515.69 L46.29,513.99 L46.43,512.30 L46.57,510.62 L46.71,508.95 L46.85,507.29 L46.99,505.63 L47.27,502.36 L47.54,499.12 L47.82,495.93 L48.10,492.77 L48.38,489.67 L48.66,486.60 L48.94,483.59 L49.22,480.62 L49.50,477.71 L49.78,474.84 L50.06,472.03 L50.34,469.28 L50.62,466.57 L50.90,463.93 L51.18,461.35 L51.45,458.82 L51.73,456.36 L52.01,453.95 L52.29,451.59 L52.57,449.25 L52.85,446.95 L53.13,444.70 L53.41,442.48 L53.69,440.32 L53.97,438.21 L54.25,436.16 L54.53,434.16 L54.81,432.23 L55.09,430.37 L55.36,428.58 L55.64,426.87 L55.92,425.24 L56.20,423.69 L56.48,422.20 L56.76,420.74 L57.04,419.33 L57.32,417.94 L57.60,416.59 L57.88,415.28 L58.16,414.00 L58.44,412.76 L58.72,411.55 L59.00,410.37 L59.28,409.23 L59.55,408.13 L59.83,407.06 L60.11,406.02 L60.39,405.02 L60.67,404.05 L60.95,403.12 L61.23,402.22 L61.51,401.35 L61.79,400.50 L62.07,399.66 L62.35,398.83 L62.63,398.02 L62.91,397.23 L63.19,396.46 L63.46,395.71 L63.74,394.97 L64.02,394.27 L64.30,393.58 L64.58,392.93 L64.86,392.30 L65.14,391.70 L65.42,391.13 L65.70,390.60 L65.98,390.10 L66.26,389.63 L66.54,389.21 L66.82,388.80 L67.10,388.41 L67.37,388.02 L67.65,387.65 L67.93,387.28 L68.21,386.92 L68.49,386.58 L68.77,386.24 L69.05,385.91 L69.33,385.59 L69.61,385.29 L69.89,384.99 L70.17,384.70 L70.45,384.42 L70.73,384.15 L71.01,383.89 L71.29,383.65 L71.56,383.41 L71.84,383.18 L72.12,382.96 L72.40,382.75 L72.68,382.56 L72.96,382.37 L73.24,382.19 L73.52,382.03 L73.80,381.87 L74.08,381.73 L74.36,381.58 L74.64,381.44 L74.92,381.30 L75.20,381.17 L75.47,381.04 L75.75,380.91 L76.03,380.78 L76.31,380.65 L76.59,380.53 L76.87,380.41 L77.15,380.30 L77.43,380.18 L77.71,380.07 L77.99,379.96 L78.27,379.86 L78.55,379.75 L78.83,379.65 L79.11,379.55 L79.38,379.45 L79.66,379.35 L79.94,379.26 L80.22,379.17 L80.50,379.07 L80.78,378.99 L81.06,378.90 L81.34,378.81 L81.62,378.73 L81.90,378.64 L82.18,378.56 L82.46,378.48 L82.74,378.40 L83.02,378.32 L83.29,378.25 L83.57,378.17 L83.85,378.10 L84.13,378.02 L84.41,377.95 L84.69,377.88 L84.97,377.81 L85.25,377.74 L85.53,377.67 L85.81,377.60 L86.09,377.53 L86.37,377.46 L86.65,377.39 L86.93,377.32 L87.21,377.26 L87.48,377.19 L87.76,377.12 L88.04,377.06 L88.32,376.99 L88.60,376.92 L88.88,376.85 L89.16,376.79 L89.44,376.72 L89.72,376.65 L90.00,376.59 L90.28,376.52 L90.56,376.45 L90.84,376.39 L91.12,376.32 L91.39,376.26 L91.67,376.19 L91.95,376.13 L92.23,376.06 L92.51,376.00 L92.79,375.93 L93.07,375.87 L93.35,375.81 L93.63,375.75 L93.91,375.69 L94.19,375.63 L94.47,375.57 L94.75,375.51 L95.03,375.45 L95.30,375.39 L95.58,375.33 L95.86,375.28 L96.14,375.22 L96.42,375.17 L96.70,375.12 L96.98,375.07 L97.26,375.01 L97.54,374.97 L97.82,374.92 L98.10,374.87 L98.38,374.82 L98.66,374.78 L98.94,374.73 L99.22,374.69 L99.49,374.65 L99.77,374.61 L100.05,374.57 L100.33,374.54 L100.61,374.50 L100.89,374.47 L101.17,374.43 L101.45,374.40 L101.73,374.37 L102.01,374.35 L102.29,374.32 L102.57,374.30 L102.85,374.27 L103.13,374.25 L103.40,374.23 L103.68,374.21 L103.96,374.19 L104.24,374.17 L104.52,374.15 L104.80,374.14 L105.08,374.12 L105.36,374.10 L105.64,374.09 L105.92,374.07 L106.20,374.05 L106.48,374.04 L106.76,374.02 L107.04,374.01 L107.31,374.00 L107.59,373.98 L107.87,373.97 L108.15,373.96 L108.43,373.94 L108.71,373.93 L108.99,373.92 L109.27,373.91 L109.55,373.90 L109.83,373.89 L110.11,373.87 L110.39,373.86 L110.67,373.85 L110.95,373.84 L111.22,373.83 L111.50,373.82 L111.78,373.81 L112.06,373.80 L112.34,373.79 L112.62,373.78 L112.90,373.77 L113.18,373.76 L113.46,373.75 L113.74,373.74 L114.02,373.73 L114.30,373.72 L114.58,373.71 L114.86,373.69 L115.14,373.68 L115.41,373.67 L115.69,373.66 L115.97,373.65 L116.25,373.64 L116.53,373.63 L116.81,373.61 L117.09,373.60 L117.37,373.59 L117.65,373.58 L117.93,373.56 L118.21,373.55 L118.49,373.53 L118.77,373.52 L119.05,373.51 L119.32,373.49 L119.60,373.47 L119.88,373.46 L120.16,373.44 L120.44,373.43 L120.72,373.41 L121.00,373.39 L121.28,373.37 L121.56,373.36 L121.84,373.34 L122.12,373.32 L122.40,373.30 L122.68,373.28 L122.96,373.26 L123.23,373.24 L123.51,373.22 L123.79,373.20 L124.07,373.18 L124.35,373.16 L124.63,373.14 L124.91,373.12 L125.19,373.10 L126.59,372.99 L127.98,372.87 L129.38,372.75 L130.78,372.63 L132.17,372.51 L133.57,372.38 L134.97,372.26 L136.36,372.13 L137.76,372.00 L139.16,371.88 L140.55,371.76 L141.95,371.64 L143.34,371.52 L144.74,371.41 L146.14,371.31 L147.53,371.21 L148.93,371.12 L150.33,371.03 L151.72,370.95 L153.12,370.88 L154.52,370.80 L155.91,370.73 L157.31,370.65 L158.71,370.58 L160.10,370.52 L161.50,370.45 L162.90,370.38 L164.29,370.32 L165.69,370.26 L167.08,370.20 L168.48,370.14 L169.88,370.08 L171.27,370.02 L172.67,369.97 L174.07,369.92 L175.46,369.86 L176.86,369.81 L178.26,369.76 L179.65,369.71 L181.05,369.67 L182.45,369.62 L183.84,369.57 L185.24,369.53 L186.64,369.48 L188.03,369.44 L189.43,369.39 L190.83,369.35 L192.22,369.30 L193.62,369.26 L195.02,369.22 L196.41,369.18 L197.81,369.14 L199.20,369.10 L200.60,369.06 L202.00,369.03 L203.39,369.00 L204.79,368.97 L206.19,368.94 L207.58,368.91 L208.98,368.89 L210.38,368.86 L211.77,368.85 L213.17,368.83 L214.57,368.81 L215.96,368.80 L217.36,368.78 L218.76,368.77 L220.15,368.76 L221.55,368.74 L222.95,368.73 L224.34,368.72 L225.74,368.71 L227.13,368.70 L228.53,368.69 L229.93,368.68 L231.32,368.67 L232.72,368.66 L234.12,368.65 L235.51,368.64 L236.91,368.63 L238.31,368.62 L239.70,368.62 L241.10,368.61 L242.50,368.60 L243.89,368.59 L245.29,368.59 L246.69,368.58 L248.08,368.57 L249.48,368.56 L250.88,368.56 L252.27,368.55 L253.67,368.54 L255.06,368.54 L256.46,368.53 L257.86,368.52 L259.25,368.51 L260.65,368.51 L262.05,368.50 L263.44,368.49 L264.84,368.49 L266.24,368.48 L267.63,368.47 L269.03,368.47 L270.43,368.46 L271.82,368.45 L273.22,368.45 L274.62,368.44 L276.01,368.43 L277.41,368.43 L278.81,368.42 L280.20,368.42 L281.60,368.41 L282.99,368.41 L284.39,368.40 L285.79,368.39 L287.18,368.39 L288.58,368.38 L289.98,368.38 L291.37,368.37 L292.77,368.37 L294.17,368.36 L295.56,368.36 L296.96,368.35 L298.36,368.35 L299.75,368.35 L301.15,368.34 L302.55,368.34 L303.94,368.33 L305.34,368.33 L306.73,368.33 L308.13,368.32 L309.53,368.32 L310.92,368.32 L312.32,368.31 L313.72,368.31 L315.11,368.31 L316.51,368.31 L317.91,368.30 L319.30,368.30 L320.70,368.30" fill="none" stroke="#e69f00" stroke-width="1.5" stroke-linejoin="round"/>
<path d="M41.40,639.80 L41.54,628.94 L41.68,618.32 L41.82,608.26 L41.96,599.07 L42.10,590.54 L42.24,582.22 L42.38,574.12 L42.52,566.24 L42.66,558.58 L42.80,551.14 L42.94,543.93 L43.08,536.95 L43.22,530.19 L43.36,523.67 L43.49,517.39 L43.63,511.35 L43.77,505.54 L43.91,499.98 L44.05,494.54 L44.19,489.16 L44.33,483.88 L44.47,478.78 L44.61,473.89 L44.75,469.29 L44.89,465.04 L45.03,461.18 L45.17,457.79 L45.31,454.91 L45.45,452.49 L45.59,450.38 L45.73,448.51 L45.87,446.79 L46.01,445.16 L46.15,443.53 L46.29,441.82 L46.43,439.98 L46.57,437.92 L46.71,435.70 L46.85,433.40 L46.99,431.11 L47.27,426.88 L47.54,423.69 L47.82,421.33 L48.10,419.16 L48.38,417.16 L48.66,415.34 L48.94,413.69 L49.22,412.19 L49.50,410.85 L49.78,409.65 L50.06,408.59 L50.34,407.67 L50.62,406.83 L50.90,406.02 L51.18,405.26 L51.45,404.53 L51.73,403.85 L52.01,403.20 L52.29,402.58 L52.57,402.01 L52.85,401.47 L53.13,400.97 L53.41,400.50 L53.69,400.08 L53.97,399.68 L54.25,399.32 L54.53,399.00 L54.81,398.71 L55.09,398.44 L55.36,398.18 L55.64,397.93 L55.92,397.69 L56.20,397.46 L56.48,397.24 L56.76,397.02 L57.04,396.81 L57.32,396.61 L57.60,396.41 L57.88,396.23 L58.16,396.04 L58.44,395.87 L58.72,395.70 L59.00,395.54 L59.28,395.38 L59.55,395.22 L59.83,395.07 L60.11,394.93 L60.39,394.78 L60.67,394.65 L60.95,394.51 L61.23,394.38 L61.51,394.25 L61.79,394.12 L62.07,394.00 L62.35,393.87 L62.63,393.75 L62.91,393.63 L63.19,393.51 L63.46,393.39 L63.74,393.27 L64.02,393.16 L64.30,393.04 L64.58,392.92 L64.86,392.80 L65.14,392.67 L65.42,392.55 L65.70,392.43 L65.98,392.32 L66.26,392.20 L66.54,392.08 L66.82,391.97 L67.10,391.85 L67.37,391.74 L67.65,391.63 L67.93,391.52 L68.21,391.41 L68.49,391.31 L68.77,391.20 L69.05,391.09 L69.33,390.99 L69.61,390.89 L69.89,390.78 L70.17,390.68 L70.45,390.58 L70.73,390.48 L71.01,390.38 L71.29,390.29 L71.56,390.19 L71.84,390.10 L72.12,390.00 L72.40,389.91 L72.68,389.81 L72.96,389.72 L73.24,389.63 L73.52,389.54 L73.80,389.45 L74.08,389.36 L74.36,389.27 L74.64,389.18 L74.92,389.10 L75.20,389.01 L75.47,388.92 L75.75,388.84 L76.03,388.75 L76.31,388.67 L76.59,388.58 L76.87,388.50 L77.15,388.42 L77.43,388.34 L77.71,388.26 L77.99,388.17 L78.27,388.09 L78.55,388.01 L78.83,387.93 L79.11,387.85 L79.38,387.77 L79.66,387.70 L79.94,387.62 L80.22,387.54 L80.50,387.46 L80.78,387.38 L81.06,387.30 L81.34,387.23 L81.62,387.15 L81.90,387.07 L82.18,387.00 L82.46,386.92 L82.74,386.84 L83.02,386.76 L83.29,386.69 L83.57,386.61 L83.85,386.54 L84.13,386.46 L84.41,386.38 L84.69,386.31 L84.97,386.23 L85.25,386.16 L85.53,386.08 L85.81,386.01 L86.09,385.93 L86.37,385.86 L86.65,385.79 L86.93,385.71 L87.21,385.64 L87.48,385.57 L87.76,385.50 L88.04,385.43 L88.32,385.36 L88.60,385.29 L88.88,385.22 L89.16,385.15 L89.44,385.08 L89.72,385.01 L90.00,384.95 L90.28,384.88 L90.56,384.82 L90.84,384.75 L91.12,384.69 L91.39,384.62 L91.67,384.56 L91.95,384.50 L92.23,384.44 L92.51,384.38 L92.79,384.32 L93.07,384.26 L93.35,384.20 L93.63,384.15 L93.91,384.09 L94.19,384.04 L94.47,383.98 L94.75,383.93 L95.03,383.88 L95.30,383.83 L95.58,383.78 L95.86,383.73 L96.14,383.68 L96.42,383.64 L96.70,383.59 L96.98,383.55 L97.26,383.50 L97.54,383.46 L97.82,383.42 L98.10,383.38 L98.38,383.34 L98.66,383.30 L98.94,383.26 L99.22,383.22 L99.49,383.19 L99.77,383.15 L100.05,383.11 L100.33,383.07 L100.61,383.04 L100.89,383.00 L101.17,382.97 L101.45,382.93 L101.73,382.90 L102.01,382.87 L102.29,382.83 L102.57,382.80 L102.85,382.77 L103.13,382.74 L103.40,382.70 L103.68,382.67 L103.96,382.64 L104.24,382.61 L104.52,382.58 L104.80,382.55 L105.08,382.52 L105.36,382.49 L105.64,382.46 L105.92,382.43 L106.20,382.40 L106.48,382.38 L106.76,382.35 L107.04,382.32 L107.31,382.29 L107.59,382.26 L107.87,382.24 L108.15,382.21 L108.43,382.18 L108.71,382.16 L108.99,382.13 L109.27,382.10 L109.55,382.08 L109.83,382.05 L110.11,382.02 L110.39,382.00 L110.67,381.97 L110.95,381.94 L111.22,381.92 L111.50,381.89 L111.78,381.87 L112.06,381.84 L112.34,381.81 L112.62,381.79 L112.90,381.76 L113.18,381.73 L113.46,381.71 L113.74,381.68 L114.02,381.66 L114.30,381.63 L114.58,381.60 L114.86,381.58 L115.14,381.55 L115.41,381.52 L115.69,381.49 L115.97,381.47 L116.25,381.44 L116.53,381.41 L116.81,381.38 L117.09,381.36 L117.37,381.33 L117.65,381.30 L117.93,381.27 L118.21,381.24 L118.49,381.21 L118.77,381.18 L119.05,381.15 L119.32,381.12 L119.60,381.09 L119.88,381.06 L120.16,381.03 L120.44,381.00 L120.72,380.97 L121.00,380.94 L121.28,380.90 L121.56,380.87 L121.84,380.84 L122.12,380.81 L122.40,380.78 L122.68,380.75 L122.96,380.72 L123.23,380.69 L123.51,380.65 L123.79,380.62 L124.07,380.59 L124.35,380.56 L124.63,380.53 L124.91,380.50 L125.19,380.46 L126.59,380.31 L127.98,380.15 L129.38,379.99 L130.78,379.83 L132.17,379.67 L133.57,379.50 L134.97,379.34 L136.36,379.18 L137.76,379.02 L139.16,378.86 L140.55,378.69 L141.95,378.53 L143.34,378.37 L144.74,378.21 L146.14,378.05 L147.53,377.88 L148.93,377.72 L150.33,377.56 L151.72,377.40 L153.12,377.24 L154.52,377.08 L155.91,376.91 L157.31,376.75 L158.71,376.59 L160.10,376.42 L161.50,376.26 L162.90,376.09 L164.29,375.93 L165.69,375.76 L167.08,375.60 L168.48,375.44 L169.88,375.27 L171.27,375.11 L172.67,374.95 L174.07,374.80 L175.46,374.64 L176.86,374.48 L178.26,374.33 L179.65,374.18 L181.05,374.03 L182.45,373.88 L183.84,373.73 L185.24,373.59 L186.64,373.43 L188.03,373.28 L189.43,373.13 L190.83,372.98 L192.22,372.84 L193.62,372.69 L195.02,372.54 L196.41,372.40 L197.81,372.26 L199.20,372.12 L200.60,371.98 L202.00,371.85 L203.39,371.72 L204.79,371.59 L206.19,371.47 L207.58,371.35 L208.98,371.24 L210.38,371.13 L211.77,371.03 L213.17,370.94 L214.57,370.84 L215.96,370.75 L217.36,370.66 L218.76,370.57 L220.15,370.49 L221.55,370.40 L222.95,370.32 L224.34,370.24 L225.74,370.16 L227.13,370.08 L228.53,370.01 L229.93,369.93 L231.32,369.86 L232.72,369.79 L234.12,369.73 L235.51,369.67 L236.91,369.60 L238.31,369.55 L239.70,369.49 L241.10,369.44 L242.50,369.39 L243.89,369.34 L245.29,369.29 L246.69,369.24 L248.08,369.19 L249.48,369.14 L250.88,369.10 L252.27,369.05 L253.67,369.01 L255.06,368.96 L256.46,368.92 L257.86,368.88 L259.25,368.84 L260.65,368.80 L262.05,368.77 L263.44,368.74 L264.84,368.70 L266.24,368.68 L267.63,368.65 L269.03,368.63 L270.43,368.61 L271.82,368.59 L273.22,368.57 L274.62,368.56 L276.01,368.54 L277.41,368.53 L278.81,368.52 L280.20,368.51 L281.60,368.49 L282.99,368.48 L284.39,368.47 L285.79,368.46 L287.18,368.45 L288.58,368.44 L289.98,368.42 L291.37,368.41 L292.77,368.40 L294.17,368.40 L295.56,368.39 L296.96,368.38 L298.36,368.37 L299.75,368.36 L301.15,368.35 L302.55,368.35 L303.94,368.34 L305.34,368.33 L306.73,368.33 L308.13,368.32 L309.53,368.32 L310.92,368.31 L312.32,368.31 L313.72,368.31 L315.11,368.30 L316.51,368.30 L317.91,368.30 L319.30,368.30 L320.70,368.30" fill="none" stroke="#56b4e9" stroke-width="1.5" stroke-linejoin="round"/>
<line x1="41.4" y1="639.8" x2="320.7" y2="368.3" stroke="#111" stroke-width="1.6" stroke-dasharray="5.0,2.28" stroke-dashoffset="0"/>
<rect x="205.7" y="623.2" width="126.1" height="28.6" fill="#d4d4d4"/>
<line x1="209.2" y1="631.3" x2="227.6" y2="631.3" stroke="#e69f00" stroke-width="2.6"/>
<text x="230.7" y="634.4" font-size="9.2" text-anchor="start" font-weight="normal" fill="#1a1a1a" textLength="99.7" lengthAdjust="spacingAndGlyphs">&lt; 2 (AUC = 0.960 ± 0.010)</text>
<line x1="209.2" y1="643.2" x2="227.6" y2="643.2" stroke="#56b4e9" stroke-width="2.6"/>
<text x="230.7" y="646.3" font-size="9.2" text-anchor="start" font-weight="normal" fill="#1a1a1a" textLength="99.7" lengthAdjust="spacingAndGlyphs">&lt; 4 (AUC = 0.960 ± 0.010)</text>
<text x="7.3" y="351.6" font-size="9.6" text-anchor="start" font-weight="bold" fill="#000">c</text>
<text x="181.3" y="676.6" font-size="9.1" text-anchor="middle" font-weight="normal" fill="#1a1a1a" textLength="72" lengthAdjust="spacingAndGlyphs" stroke="#1a1a1a" stroke-width="0.12">False Positive Rate</text>
<text x="0" y="0" font-size="9.5" text-anchor="middle" fill="#1a1a1a" stroke="#1a1a1a" stroke-width="0.12" textLength="68.7" lengthAdjust="spacingAndGlyphs" transform="translate(7.6,504.35) rotate(-90)">True Positive Rate</text>
<rect x="377.2" y="354.3" width="307.8" height="298.5" fill="#f7f8f8"/>
<line x1="390.6" y1="354.3" x2="390.6" y2="652.8" stroke="#ffffff" stroke-width="0.9"/>
<line x1="377.2" y1="639.8" x2="685" y2="639.8" stroke="#ffffff" stroke-width="0.9"/>
<line x1="446.6" y1="354.3" x2="446.6" y2="652.8" stroke="#ffffff" stroke-width="0.9"/>
<line x1="377.2" y1="585.3" x2="685" y2="585.3" stroke="#ffffff" stroke-width="0.9"/>
<line x1="502.6" y1="354.3" x2="502.6" y2="652.8" stroke="#ffffff" stroke-width="0.9"/>
<line x1="377.2" y1="530.8" x2="685" y2="530.8" stroke="#ffffff" stroke-width="0.9"/>
<line x1="558.6" y1="354.3" x2="558.6" y2="652.8" stroke="#ffffff" stroke-width="0.9"/>
<line x1="377.2" y1="476.3" x2="685" y2="476.3" stroke="#ffffff" stroke-width="0.9"/>
<line x1="614.6" y1="354.3" x2="614.6" y2="652.8" stroke="#ffffff" stroke-width="0.9"/>
<line x1="377.2" y1="421.8" x2="685" y2="421.8" stroke="#ffffff" stroke-width="0.9"/>
<line x1="670.6" y1="354.3" x2="670.6" y2="652.8" stroke="#ffffff" stroke-width="0.9"/>
<line x1="377.2" y1="367.3" x2="685" y2="367.3" stroke="#ffffff" stroke-width="0.9"/>
<line x1="390.6" y1="653.8" x2="390.6" y2="655.6" stroke="#555" stroke-width="0.7"/>
<text x="390.6" y="663.9" font-size="6.6" text-anchor="middle" font-weight="normal" fill="#222" textLength="8.8" lengthAdjust="spacingAndGlyphs" stroke="#222" stroke-width="0.08">0.0</text>
<line x1="374.9" y1="639.8" x2="376.2" y2="639.8" stroke="#888" stroke-width="0.7"/>
<text x="372.2" y="642.2" font-size="6.6" text-anchor="end" font-weight="normal" fill="#222" textLength="8.8" lengthAdjust="spacingAndGlyphs" stroke="#222" stroke-width="0.08">0.0</text>
<line x1="446.6" y1="653.8" x2="446.6" y2="655.6" stroke="#555" stroke-width="0.7"/>
<text x="446.6" y="663.9" font-size="6.6" text-anchor="middle" font-weight="normal" fill="#222" textLength="8.8" lengthAdjust="spacingAndGlyphs" stroke="#222" stroke-width="0.08">0.2</text>
<line x1="374.9" y1="585.3" x2="376.2" y2="585.3" stroke="#888" stroke-width="0.7"/>
<text x="372.2" y="587.7" font-size="6.6" text-anchor="end" font-weight="normal" fill="#222" textLength="8.8" lengthAdjust="spacingAndGlyphs" stroke="#222" stroke-width="0.08">0.2</text>
<line x1="502.6" y1="653.8" x2="502.6" y2="655.6" stroke="#555" stroke-width="0.7"/>
<text x="502.6" y="663.9" font-size="6.6" text-anchor="middle" font-weight="normal" fill="#222" textLength="8.8" lengthAdjust="spacingAndGlyphs" stroke="#222" stroke-width="0.08">0.4</text>
<line x1="374.9" y1="530.8" x2="376.2" y2="530.8" stroke="#888" stroke-width="0.7"/>
<text x="372.2" y="533.2" font-size="6.6" text-anchor="end" font-weight="normal" fill="#222" textLength="8.8" lengthAdjust="spacingAndGlyphs" stroke="#222" stroke-width="0.08">0.4</text>
<line x1="558.6" y1="653.8" x2="558.6" y2="655.6" stroke="#555" stroke-width="0.7"/>
<text x="558.6" y="663.9" font-size="6.6" text-anchor="middle" font-weight="normal" fill="#222" textLength="8.8" lengthAdjust="spacingAndGlyphs" stroke="#222" stroke-width="0.08">0.6</text>
<line x1="374.9" y1="476.3" x2="376.2" y2="476.3" stroke="#888" stroke-width="0.7"/>
<text x="372.2" y="478.7" font-size="6.6" text-anchor="end" font-weight="normal" fill="#222" textLength="8.8" lengthAdjust="spacingAndGlyphs" stroke="#222" stroke-width="0.08">0.6</text>
<line x1="614.6" y1="653.8" x2="614.6" y2="655.6" stroke="#555" stroke-width="0.7"/>
<text x="614.6" y="663.9" font-size="6.6" text-anchor="middle" font-weight="normal" fill="#222" textLength="8.8" lengthAdjust="spacingAndGlyphs" stroke="#222" stroke-width="0.08">0.8</text>
<line x1="374.9" y1="421.8" x2="376.2" y2="421.8" stroke="#888" stroke-width="0.7"/>
<text x="372.2" y="424.2" font-size="6.6" text-anchor="end" font-weight="normal" fill="#222" textLength="8.8" lengthAdjust="spacingAndGlyphs" stroke="#222" stroke-width="0.08">0.8</text>
<line x1="670.6" y1="653.8" x2="670.6" y2="655.6" stroke="#555" stroke-width="0.7"/>
<text x="670.6" y="663.9" font-size="6.6" text-anchor="middle" font-weight="normal" fill="#222" textLength="8.8" lengthAdjust="spacingAndGlyphs" stroke="#222" stroke-width="0.08">1.0</text>
<line x1="374.9" y1="367.3" x2="376.2" y2="367.3" stroke="#888" stroke-width="0.7"/>
<text x="372.2" y="369.7" font-size="6.6" text-anchor="end" font-weight="normal" fill="#222" textLength="8.8" lengthAdjust="spacingAndGlyphs" stroke="#222" stroke-width="0.08">1.0</text>
<path d="M390.60,639.80 L390.74,606.66 L390.88,596.13 L391.02,593.53 L391.16,591.32 L391.30,589.45 L391.44,587.87 L391.58,586.51 L391.72,585.33 L391.86,584.27 L392.00,583.26 L392.14,582.27 L392.28,581.23 L392.42,580.09 L392.56,578.79 L392.70,577.39 L392.84,576.00 L392.98,574.61 L393.12,573.23 L393.26,571.86 L393.40,570.51 L393.54,569.16 L393.68,567.84 L393.82,566.53 L393.96,565.24 L394.10,563.98 L394.24,562.74 L394.38,561.53 L394.52,560.36 L394.66,559.21 L394.80,558.10 L394.94,557.01 L395.08,555.94 L395.22,554.89 L395.36,553.86 L395.50,552.86 L395.64,551.88 L395.78,550.92 L395.92,550.00 L396.06,549.11 L396.20,548.25 L396.48,546.60 L396.76,545.02 L397.04,543.51 L397.32,542.10 L397.60,540.79 L397.88,539.57 L398.16,538.43 L398.44,537.35 L398.72,536.32 L399.00,535.34 L399.28,534.40 L399.56,533.49 L399.84,532.61 L400.12,531.73 L400.40,530.87 L400.68,530.00 L400.96,529.12 L401.24,528.22 L401.52,527.29 L401.80,526.33 L402.08,525.32 L402.36,524.27 L402.64,523.15 L402.92,521.98 L403.20,520.76 L403.48,519.50 L403.76,518.21 L404.04,516.91 L404.32,515.59 L404.60,514.27 L404.88,512.96 L405.16,511.67 L405.44,510.40 L405.72,509.17 L406.00,507.98 L406.28,506.85 L406.56,505.75 L406.84,504.66 L407.12,503.58 L407.40,502.51 L407.68,501.45 L407.96,500.40 L408.24,499.35 L408.52,498.31 L408.80,497.28 L409.08,496.25 L409.36,495.24 L409.64,494.23 L409.92,493.22 L410.20,492.23 L410.48,491.24 L410.76,490.26 L411.04,489.29 L411.32,488.33 L411.60,487.37 L411.88,486.42 L412.16,485.49 L412.44,484.56 L412.72,483.64 L413.00,482.72 L413.28,481.82 L413.56,480.93 L413.84,480.04 L414.12,479.17 L414.40,478.30 L414.68,477.45 L414.96,476.60 L415.24,475.76 L415.52,474.94 L415.80,474.12 L416.08,473.31 L416.36,472.52 L416.64,471.73 L416.92,470.95 L417.20,470.18 L417.48,469.42 L417.76,468.66 L418.04,467.91 L418.32,467.17 L418.60,466.44 L418.88,465.71 L419.16,464.99 L419.44,464.28 L419.72,463.57 L420.00,462.86 L420.28,462.16 L420.56,461.47 L420.84,460.78 L421.12,460.09 L421.40,459.41 L421.68,458.73 L421.96,458.05 L422.24,457.38 L422.52,456.71 L422.80,456.04 L423.08,455.37 L423.36,454.71 L423.64,454.04 L423.92,453.38 L424.20,452.71 L424.48,452.05 L424.76,451.39 L425.04,450.73 L425.32,450.08 L425.60,449.42 L425.88,448.77 L426.16,448.12 L426.44,447.48 L426.72,446.84 L427.00,446.21 L427.28,445.58 L427.56,444.95 L427.84,444.33 L428.12,443.72 L428.40,443.11 L428.68,442.51 L428.96,441.92 L429.24,441.34 L429.52,440.77 L429.80,440.20 L430.08,439.65 L430.36,439.10 L430.64,438.56 L430.92,438.04 L431.20,437.53 L431.48,437.02 L431.76,436.54 L432.04,436.06 L432.32,435.59 L432.60,435.14 L432.88,434.71 L433.16,434.29 L433.44,433.88 L433.72,433.49 L434.00,433.11 L434.28,432.73 L434.56,432.36 L434.84,432.00 L435.12,431.64 L435.40,431.29 L435.68,430.95 L435.96,430.61 L436.24,430.28 L436.52,429.95 L436.80,429.63 L437.08,429.32 L437.36,429.01 L437.64,428.71 L437.92,428.42 L438.20,428.13 L438.48,427.84 L438.76,427.57 L439.04,427.30 L439.32,427.03 L439.60,426.78 L439.88,426.52 L440.16,426.28 L440.44,426.04 L440.72,425.81 L441.00,425.58 L441.28,425.36 L441.56,425.14 L441.84,424.93 L442.12,424.73 L442.40,424.53 L442.68,424.33 L442.96,424.13 L443.24,423.93 L443.52,423.74 L443.80,423.55 L444.08,423.36 L444.36,423.17 L444.64,422.99 L444.92,422.80 L445.20,422.62 L445.48,422.43 L445.76,422.24 L446.04,422.06 L446.32,421.87 L446.60,421.68 L446.88,421.50 L447.16,421.31 L447.44,421.13 L447.72,420.95 L448.00,420.77 L448.28,420.59 L448.56,420.41 L448.84,420.24 L449.12,420.06 L449.40,419.89 L449.68,419.71 L449.96,419.54 L450.24,419.36 L450.52,419.19 L450.80,419.02 L451.08,418.84 L451.36,418.67 L451.64,418.49 L451.92,418.31 L452.20,418.14 L452.48,417.96 L452.76,417.79 L453.04,417.61 L453.32,417.43 L453.60,417.26 L453.88,417.09 L454.16,416.91 L454.44,416.74 L454.72,416.57 L455.00,416.39 L455.28,416.22 L455.56,416.05 L455.84,415.88 L456.12,415.71 L456.40,415.55 L456.68,415.38 L456.96,415.21 L457.24,415.05 L457.52,414.88 L457.80,414.72 L458.08,414.56 L458.36,414.40 L458.64,414.24 L458.92,414.08 L459.20,413.93 L459.48,413.77 L459.76,413.62 L460.04,413.47 L460.32,413.32 L460.60,413.17 L460.88,413.02 L461.16,412.88 L461.44,412.73 L461.72,412.59 L462.00,412.45 L462.28,412.32 L462.56,412.18 L462.84,412.05 L463.12,411.92 L463.40,411.79 L463.68,411.66 L463.96,411.54 L464.24,411.41 L464.52,411.29 L464.80,411.17 L465.08,411.05 L465.36,410.94 L465.64,410.82 L465.92,410.71 L466.20,410.59 L466.48,410.48 L466.76,410.37 L467.04,410.26 L467.32,410.15 L467.60,410.04 L467.88,409.94 L468.16,409.83 L468.44,409.73 L468.72,409.62 L469.00,409.52 L469.28,409.42 L469.56,409.32 L469.84,409.22 L470.12,409.12 L470.40,409.02 L470.68,408.92 L470.96,408.82 L471.24,408.72 L471.52,408.62 L471.80,408.53 L472.08,408.43 L472.36,408.33 L472.64,408.24 L472.92,408.14 L473.20,408.04 L473.48,407.95 L473.76,407.85 L474.04,407.75 L474.32,407.66 L474.60,407.56 L476.00,407.07 L477.40,406.57 L478.80,406.06 L480.20,405.55 L481.60,405.05 L483.00,404.54 L484.40,404.04 L485.80,403.53 L487.20,403.02 L488.60,402.51 L490.00,401.98 L491.40,401.45 L492.80,400.90 L494.20,400.35 L495.60,399.79 L497.00,399.24 L498.40,398.71 L499.80,398.19 L501.20,397.68 L502.60,397.18 L504.00,396.68 L505.40,396.19 L506.80,395.70 L508.20,395.23 L509.60,394.76 L511.00,394.30 L512.40,393.85 L513.80,393.41 L515.20,392.98 L516.60,392.56 L518.00,392.15 L519.40,391.76 L520.80,391.37 L522.20,391.00 L523.60,390.64 L525.00,390.28 L526.40,389.93 L527.80,389.58 L529.20,389.23 L530.60,388.89 L532.00,388.54 L533.40,388.20 L534.80,387.85 L536.20,387.50 L537.60,387.15 L539.00,386.81 L540.40,386.47 L541.80,386.13 L543.20,385.79 L544.60,385.46 L546.00,385.12 L547.40,384.78 L548.80,384.44 L550.20,384.09 L551.60,383.74 L553.00,383.38 L554.40,383.02 L555.80,382.65 L557.20,382.27 L558.60,381.89 L560.00,381.50 L561.40,381.12 L562.80,380.73 L564.20,380.34 L565.60,379.96 L567.00,379.58 L568.40,379.21 L569.80,378.86 L571.20,378.51 L572.60,378.18 L574.00,377.85 L575.40,377.53 L576.80,377.21 L578.20,376.90 L579.60,376.59 L581.00,376.28 L582.40,375.97 L583.80,375.67 L585.20,375.36 L586.60,375.05 L588.00,374.74 L589.40,374.43 L590.80,374.13 L592.20,373.83 L593.60,373.53 L595.00,373.24 L596.40,372.94 L597.80,372.65 L599.20,372.36 L600.60,372.07 L602.00,371.78 L603.40,371.48 L604.80,371.18 L606.20,370.86 L607.60,370.54 L609.00,370.21 L610.40,369.88 L611.80,369.54 L613.20,369.19 L614.60,368.85 L616.00,368.51 L617.40,368.17 L618.80,367.83 L620.20,367.51 L621.60,367.30 L623.00,367.30 L624.40,367.30 L625.80,367.30 L627.20,367.30 L628.60,367.30 L630.00,367.30 L631.40,367.30 L632.80,367.30 L634.20,367.30 L635.60,367.30 L637.00,367.30 L638.40,367.30 L639.80,367.30 L641.20,367.30 L642.60,367.30 L644.00,367.30 L645.40,367.30 L646.80,367.30 L648.20,367.30 L649.60,367.30 L651.00,367.30 L652.40,367.30 L653.80,367.30 L655.20,367.30 L656.60,367.30 L658.00,367.30 L659.40,367.30 L660.80,367.30 L662.20,367.30 L663.60,367.30 L665.00,367.30 L666.40,367.30 L667.80,367.30 L669.20,367.30 L670.60,367.30 L670.60,367.30 L669.20,367.92 L667.80,368.54 L666.40,369.17 L665.00,369.79 L663.60,370.40 L662.20,371.01 L660.80,371.62 L659.40,372.22 L658.00,372.81 L656.60,373.40 L655.20,373.99 L653.80,374.61 L652.40,375.24 L651.00,375.89 L649.60,376.55 L648.20,377.20 L646.80,377.85 L645.40,378.48 L644.00,379.10 L642.60,379.69 L641.20,380.24 L639.80,380.76 L638.40,381.24 L637.00,381.67 L635.60,382.04 L634.20,382.34 L632.80,382.62 L631.40,382.92 L630.00,383.22 L628.60,383.54 L627.20,383.86 L625.80,384.18 L624.40,384.51 L623.00,384.84 L621.60,385.17 L620.20,385.49 L618.80,385.82 L617.40,386.15 L616.00,386.49 L614.60,386.83 L613.20,387.18 L611.80,387.52 L610.40,387.86 L609.00,388.20 L607.60,388.53 L606.20,388.85 L604.80,389.16 L603.40,389.47 L602.00,389.76 L600.60,390.06 L599.20,390.34 L597.80,390.62 L596.40,390.89 L595.00,391.16 L593.60,391.42 L592.20,391.68 L590.80,391.94 L589.40,392.19 L588.00,392.44 L586.60,392.70 L585.20,392.94 L583.80,393.18 L582.40,393.42 L581.00,393.66 L579.60,393.89 L578.20,394.13 L576.80,394.37 L575.40,394.61 L574.00,394.86 L572.60,395.11 L571.20,395.38 L569.80,395.65 L568.40,395.94 L567.00,396.24 L565.60,396.56 L564.20,396.88 L562.80,397.21 L561.40,397.55 L560.00,397.89 L558.60,398.24 L557.20,398.58 L555.80,398.93 L554.40,399.26 L553.00,399.58 L551.60,399.90 L550.20,400.21 L548.80,400.52 L547.40,400.82 L546.00,401.13 L544.60,401.43 L543.20,401.73 L541.80,402.03 L540.40,402.33 L539.00,402.63 L537.60,402.94 L536.20,403.25 L534.80,403.57 L533.40,403.88 L532.00,404.20 L530.60,404.51 L529.20,404.82 L527.80,405.14 L526.40,405.46 L525.00,405.78 L523.60,406.11 L522.20,406.45 L520.80,406.80 L519.40,407.16 L518.00,407.53 L516.60,407.92 L515.20,408.32 L513.80,408.73 L512.40,409.16 L511.00,409.60 L509.60,410.04 L508.20,410.50 L506.80,410.97 L505.40,411.45 L504.00,411.94 L502.60,412.44 L501.20,412.95 L499.80,413.47 L498.40,414.01 L497.00,414.58 L495.60,415.18 L494.20,415.78 L492.80,416.40 L491.40,417.02 L490.00,417.64 L488.60,418.25 L487.20,418.86 L485.80,419.48 L484.40,420.10 L483.00,420.73 L481.60,421.36 L480.20,422.01 L478.80,422.66 L477.40,423.33 L476.00,423.99 L474.60,424.64 L474.32,424.78 L474.04,424.91 L473.76,425.04 L473.48,425.17 L473.20,425.30 L472.92,425.44 L472.64,425.57 L472.36,425.70 L472.08,425.84 L471.80,425.97 L471.52,426.11 L471.24,426.24 L470.96,426.38 L470.68,426.52 L470.40,426.65 L470.12,426.79 L469.84,426.93 L469.56,427.07 L469.28,427.21 L469.00,427.35 L468.72,427.50 L468.44,427.64 L468.16,427.79 L467.88,427.93 L467.60,428.08 L467.32,428.23 L467.04,428.38 L466.76,428.53 L466.48,428.69 L466.20,428.84 L465.92,429.00 L465.64,429.15 L465.36,429.31 L465.08,429.47 L464.80,429.64 L464.52,429.80 L464.24,429.97 L463.96,430.13 L463.68,430.30 L463.40,430.48 L463.12,430.65 L462.84,430.83 L462.56,431.01 L462.28,431.19 L462.00,431.37 L461.72,431.56 L461.44,431.74 L461.16,431.93 L460.88,432.13 L460.60,432.32 L460.32,432.52 L460.04,432.72 L459.76,432.92 L459.48,433.12 L459.20,433.32 L458.92,433.53 L458.64,433.73 L458.36,433.94 L458.08,434.15 L457.80,434.36 L457.52,434.57 L457.24,434.79 L456.96,435.00 L456.68,435.22 L456.40,435.44 L456.12,435.66 L455.84,435.88 L455.56,436.10 L455.28,436.32 L455.00,436.54 L454.72,436.77 L454.44,436.99 L454.16,437.22 L453.88,437.45 L453.60,437.67 L453.32,437.90 L453.04,438.13 L452.76,438.36 L452.48,438.59 L452.20,438.82 L451.92,439.05 L451.64,439.28 L451.36,439.51 L451.08,439.74 L450.80,439.97 L450.52,440.20 L450.24,440.43 L449.96,440.66 L449.68,440.89 L449.40,441.12 L449.12,441.35 L448.84,441.58 L448.56,441.81 L448.28,442.05 L448.00,442.28 L447.72,442.52 L447.44,442.76 L447.16,443.00 L446.88,443.24 L446.60,443.48 L446.32,443.73 L446.04,443.99 L445.76,444.25 L445.48,444.52 L445.20,444.79 L444.92,445.07 L444.64,445.36 L444.36,445.65 L444.08,445.95 L443.80,446.26 L443.52,446.58 L443.24,446.90 L442.96,447.23 L442.68,447.56 L442.40,447.90 L442.12,448.25 L441.84,448.61 L441.56,448.98 L441.28,449.35 L441.00,449.73 L440.72,450.13 L440.44,450.53 L440.16,450.94 L439.88,451.36 L439.60,451.79 L439.32,452.22 L439.04,452.67 L438.76,453.12 L438.48,453.58 L438.20,454.05 L437.92,454.53 L437.64,455.01 L437.36,455.50 L437.08,456.00 L436.80,456.51 L436.52,457.02 L436.24,457.53 L435.96,458.06 L435.68,458.59 L435.40,459.12 L435.12,459.66 L434.84,460.21 L434.56,460.76 L434.28,461.31 L434.00,461.87 L433.72,462.43 L433.44,463.01 L433.16,463.59 L432.88,464.19 L432.60,464.80 L432.32,465.42 L432.04,466.06 L431.76,466.70 L431.48,467.35 L431.20,468.01 L430.92,468.68 L430.64,469.35 L430.36,470.03 L430.08,470.72 L429.80,471.41 L429.52,472.11 L429.24,472.81 L428.96,473.52 L428.68,474.23 L428.40,474.94 L428.12,475.65 L427.84,476.36 L427.56,477.08 L427.28,477.79 L427.00,478.50 L426.72,479.21 L426.44,479.92 L426.16,480.62 L425.88,481.32 L425.60,482.02 L425.32,482.71 L425.04,483.39 L424.76,484.07 L424.48,484.75 L424.20,485.41 L423.92,486.08 L423.64,486.74 L423.36,487.41 L423.08,488.07 L422.80,488.74 L422.52,489.41 L422.24,490.08 L421.96,490.75 L421.68,491.43 L421.40,492.11 L421.12,492.79 L420.84,493.48 L420.56,494.17 L420.28,494.86 L420.00,495.56 L419.72,496.27 L419.44,496.98 L419.16,497.69 L418.88,498.41 L418.60,499.14 L418.32,499.87 L418.04,500.61 L417.76,501.36 L417.48,502.12 L417.20,502.88 L416.92,503.65 L416.64,504.43 L416.36,505.22 L416.08,506.01 L415.80,506.82 L415.52,507.64 L415.24,508.46 L414.96,509.30 L414.68,510.15 L414.40,511.00 L414.12,511.87 L413.84,512.74 L413.56,513.63 L413.28,514.52 L413.00,515.42 L412.72,516.34 L412.44,517.26 L412.16,518.19 L411.88,519.12 L411.60,520.07 L411.32,521.03 L411.04,521.99 L410.76,522.96 L410.48,523.94 L410.20,524.93 L409.92,525.92 L409.64,526.93 L409.36,527.94 L409.08,528.95 L408.80,529.98 L408.52,531.01 L408.24,532.05 L407.96,533.10 L407.68,534.15 L407.40,535.21 L407.12,536.28 L406.84,537.35 L406.56,538.42 L406.28,539.49 L406.00,540.60 L405.72,541.74 L405.44,542.93 L405.16,544.15 L404.88,545.38 L404.60,546.63 L404.32,547.88 L404.04,549.11 L403.76,550.34 L403.48,551.53 L403.20,552.69 L402.92,553.81 L402.64,554.87 L402.36,555.86 L402.08,556.79 L401.80,557.67 L401.52,558.49 L401.24,559.27 L400.96,560.01 L400.68,560.73 L400.40,561.44 L400.12,562.13 L399.84,562.82 L399.56,563.52 L399.28,564.24 L399.00,564.98 L398.72,565.75 L398.44,566.56 L398.16,567.42 L397.88,568.33 L397.60,569.32 L397.32,570.38 L397.04,571.55 L396.76,572.80 L396.48,574.12 L396.20,575.50 L396.06,576.20 L395.92,576.89 L395.78,577.57 L395.64,578.24 L395.50,578.90 L395.36,579.55 L395.22,580.18 L395.08,580.79 L394.94,581.40 L394.80,581.98 L394.66,582.56 L394.52,583.15 L394.38,583.74 L394.24,584.33 L394.10,584.92 L393.96,585.52 L393.82,586.11 L393.68,586.70 L393.54,587.29 L393.40,587.88 L393.26,588.46 L393.12,589.04 L392.98,589.61 L392.84,590.17 L392.70,590.72 L392.56,591.27 L392.42,591.71 L392.28,591.98 L392.14,592.14 L392.00,592.25 L391.86,592.36 L391.72,592.52 L391.58,592.81 L391.44,593.26 L391.30,593.94 L391.16,594.91 L391.02,596.21 L390.88,597.91 L390.74,607.54 L390.60,639.80 Z" fill="#e69f00" fill-opacity="0.24"/>
<path d="M390.60,639.80 L390.74,627.80 L390.88,618.30 L391.02,612.01 L391.16,606.23 L391.30,601.00 L391.44,596.35 L391.58,592.33 L391.72,588.95 L391.86,586.04 L392.00,583.34 L392.14,580.84 L392.28,578.49 L392.42,576.27 L392.56,574.15 L392.70,572.11 L392.84,570.17 L392.98,568.34 L393.12,566.60 L393.26,564.95 L393.40,563.40 L393.54,561.95 L393.68,560.59 L393.82,559.31 L393.96,558.13 L394.10,557.04 L394.24,556.03 L394.38,555.11 L394.52,554.27 L394.66,553.52 L394.80,552.85 L394.94,552.22 L395.08,551.60 L395.22,550.99 L395.36,550.37 L395.50,549.75 L395.64,549.12 L395.78,548.49 L395.92,547.88 L396.06,547.29 L396.20,546.71 L396.48,545.60 L396.76,544.54 L397.04,543.52 L397.32,542.55 L397.60,541.60 L397.88,540.67 L398.16,539.77 L398.44,538.87 L398.72,537.98 L399.00,537.09 L399.28,536.19 L399.56,535.30 L399.84,534.39 L400.12,533.48 L400.40,532.53 L400.68,531.57 L400.96,530.59 L401.24,529.60 L401.52,528.60 L401.80,527.61 L402.08,526.64 L402.36,525.68 L402.64,524.74 L402.92,523.84 L403.20,522.97 L403.48,522.15 L403.76,521.38 L404.04,520.66 L404.32,519.99 L404.60,519.36 L404.88,518.75 L405.16,518.17 L405.44,517.60 L405.72,517.03 L406.00,516.46 L406.28,515.87 L406.56,515.27 L406.84,514.63 L407.12,513.96 L407.40,513.24 L407.68,512.47 L407.96,511.66 L408.24,510.80 L408.52,509.85 L408.80,508.80 L409.08,507.68 L409.36,506.50 L409.64,505.30 L409.92,504.10 L410.20,502.94 L410.48,501.82 L410.76,500.79 L411.04,499.81 L411.32,498.84 L411.60,497.88 L411.88,496.92 L412.16,495.98 L412.44,495.04 L412.72,494.11 L413.00,493.19 L413.28,492.28 L413.56,491.38 L413.84,490.49 L414.12,489.61 L414.40,488.74 L414.68,487.88 L414.96,487.04 L415.24,486.20 L415.52,485.38 L415.80,484.57 L416.08,483.77 L416.36,482.99 L416.64,482.21 L416.92,481.46 L417.20,480.71 L417.48,479.98 L417.76,479.27 L418.04,478.55 L418.32,477.83 L418.60,477.10 L418.88,476.37 L419.16,475.64 L419.44,474.91 L419.72,474.19 L420.00,473.48 L420.28,472.77 L420.56,472.07 L420.84,471.38 L421.12,470.71 L421.40,470.05 L421.68,469.40 L421.96,468.78 L422.24,468.17 L422.52,467.57 L422.80,467.01 L423.08,466.46 L423.36,465.94 L423.64,465.44 L423.92,464.97 L424.20,464.53 L424.48,464.12 L424.76,463.74 L425.04,463.39 L425.32,463.08 L425.60,462.80 L425.88,462.55 L426.16,462.30 L426.44,462.06 L426.72,461.83 L427.00,461.60 L427.28,461.39 L427.56,461.17 L427.84,460.97 L428.12,460.77 L428.40,460.57 L428.68,460.38 L428.96,460.19 L429.24,460.00 L429.52,459.82 L429.80,459.64 L430.08,459.46 L430.36,459.28 L430.64,459.11 L430.92,458.94 L431.20,458.76 L431.48,458.59 L431.76,458.42 L432.04,458.24 L432.32,458.07 L432.60,457.89 L432.88,457.72 L433.16,457.54 L433.44,457.38 L433.72,457.21 L434.00,457.05 L434.28,456.88 L434.56,456.72 L434.84,456.57 L435.12,456.41 L435.40,456.26 L435.68,456.10 L435.96,455.95 L436.24,455.80 L436.52,455.65 L436.80,455.51 L437.08,455.37 L437.36,455.23 L437.64,455.10 L437.92,454.98 L438.20,454.85 L438.48,454.73 L438.76,454.61 L439.04,454.49 L439.32,454.38 L439.60,454.27 L439.88,454.16 L440.16,454.05 L440.44,453.94 L440.72,453.84 L441.00,453.73 L441.28,453.63 L441.56,453.53 L441.84,453.43 L442.12,453.33 L442.40,453.23 L442.68,453.13 L442.96,453.03 L443.24,452.93 L443.52,452.83 L443.80,452.72 L444.08,452.62 L444.36,452.52 L444.64,452.41 L444.92,452.31 L445.20,452.20 L445.48,452.09 L445.76,451.98 L446.04,451.86 L446.32,451.75 L446.60,451.63 L446.88,451.51 L447.16,451.38 L447.44,451.26 L447.72,451.13 L448.00,450.99 L448.28,450.85 L448.56,450.71 L448.84,450.57 L449.12,450.42 L449.40,450.26 L449.68,450.11 L449.96,449.95 L450.24,449.80 L450.52,449.64 L450.80,449.48 L451.08,449.31 L451.36,449.15 L451.64,448.99 L451.92,448.83 L452.20,448.67 L452.48,448.51 L452.76,448.35 L453.04,448.19 L453.32,448.03 L453.60,447.88 L453.88,447.72 L454.16,447.57 L454.44,447.43 L454.72,447.29 L455.00,447.15 L455.28,447.01 L455.56,446.87 L455.84,446.74 L456.12,446.61 L456.40,446.47 L456.68,446.34 L456.96,446.21 L457.24,446.08 L457.52,445.95 L457.80,445.82 L458.08,445.70 L458.36,445.57 L458.64,445.44 L458.92,445.32 L459.20,445.19 L459.48,445.07 L459.76,444.94 L460.04,444.82 L460.32,444.70 L460.60,444.57 L460.88,444.45 L461.16,444.33 L461.44,444.21 L461.72,444.09 L462.00,443.97 L462.28,443.84 L462.56,443.72 L462.84,443.60 L463.12,443.48 L463.40,443.36 L463.68,443.24 L463.96,443.12 L464.24,443.00 L464.52,442.88 L464.80,442.76 L465.08,442.64 L465.36,442.52 L465.64,442.40 L465.92,442.28 L466.20,442.15 L466.48,442.03 L466.76,441.91 L467.04,441.79 L467.32,441.66 L467.60,441.54 L467.88,441.42 L468.16,441.29 L468.44,441.17 L468.72,441.04 L469.00,440.92 L469.28,440.79 L469.56,440.66 L469.84,440.53 L470.12,440.41 L470.40,440.28 L470.68,440.14 L470.96,440.01 L471.24,439.88 L471.52,439.75 L471.80,439.61 L472.08,439.48 L472.36,439.34 L472.64,439.21 L472.92,439.07 L473.20,438.93 L473.48,438.79 L473.76,438.65 L474.04,438.51 L474.32,438.37 L474.60,438.23 L476.00,437.53 L477.40,436.82 L478.80,436.11 L480.20,435.40 L481.60,434.69 L483.00,433.97 L484.40,433.26 L485.80,432.54 L487.20,431.83 L488.60,431.12 L490.00,430.40 L491.40,429.69 L492.80,428.97 L494.20,428.24 L495.60,427.52 L497.00,426.81 L498.40,426.11 L499.80,425.42 L501.20,424.75 L502.60,424.09 L504.00,423.43 L505.40,422.78 L506.80,422.14 L508.20,421.50 L509.60,420.87 L511.00,420.24 L512.40,419.62 L513.80,419.01 L515.20,418.41 L516.60,417.81 L518.00,417.21 L519.40,416.63 L520.80,416.06 L522.20,415.49 L523.60,414.94 L525.00,414.39 L526.40,413.84 L527.80,413.30 L529.20,412.75 L530.60,412.21 L532.00,411.66 L533.40,411.10 L534.80,410.54 L536.20,409.98 L537.60,409.42 L539.00,408.87 L540.40,408.32 L541.80,407.77 L543.20,407.21 L544.60,406.65 L546.00,406.09 L547.40,405.51 L548.80,404.93 L550.20,404.33 L551.60,403.71 L553.00,403.07 L554.40,402.41 L555.80,401.72 L557.20,401.01 L558.60,400.28 L560.00,399.55 L561.40,398.81 L562.80,398.07 L564.20,397.35 L565.60,396.63 L567.00,395.93 L568.40,395.24 L569.80,394.58 L571.20,393.94 L572.60,393.30 L574.00,392.66 L575.40,392.04 L576.80,391.41 L578.20,390.80 L579.60,390.19 L581.00,389.59 L582.40,388.99 L583.80,388.40 L585.20,387.82 L586.60,387.25 L588.00,386.69 L589.40,386.13 L590.80,385.57 L592.20,385.02 L593.60,384.46 L595.00,383.91 L596.40,383.35 L597.80,382.81 L599.20,382.27 L600.60,381.73 L602.00,381.20 L603.40,380.68 L604.80,380.18 L606.20,379.69 L607.60,379.20 L609.00,378.73 L610.40,378.27 L611.80,377.81 L613.20,377.37 L614.60,376.93 L616.00,376.50 L617.40,376.07 L618.80,375.65 L620.20,375.23 L621.60,374.82 L623.00,374.41 L624.40,374.00 L625.80,373.61 L627.20,373.22 L628.60,372.84 L630.00,372.47 L631.40,372.12 L632.80,371.78 L634.20,371.46 L635.60,371.16 L637.00,370.87 L638.40,370.60 L639.80,370.33 L641.20,370.08 L642.60,369.84 L644.00,369.61 L645.40,369.40 L646.80,369.19 L648.20,369.01 L649.60,368.83 L651.00,368.67 L652.40,368.51 L653.80,368.36 L655.20,368.23 L656.60,368.10 L658.00,367.98 L659.40,367.88 L660.80,367.78 L662.20,367.69 L663.60,367.60 L665.00,367.53 L666.40,367.46 L667.80,367.40 L669.20,367.35 L670.60,367.30 L670.60,367.30 L669.20,367.74 L667.80,368.19 L666.40,368.64 L665.00,369.10 L663.60,369.56 L662.20,370.01 L660.80,370.47 L659.40,370.93 L658.00,371.39 L656.60,371.85 L655.20,372.32 L653.80,372.78 L652.40,373.23 L651.00,373.69 L649.60,374.14 L648.20,374.59 L646.80,375.04 L645.40,375.49 L644.00,375.93 L642.60,376.38 L641.20,376.82 L639.80,377.27 L638.40,377.72 L637.00,378.17 L635.60,378.63 L634.20,379.10 L632.80,379.57 L631.40,380.06 L630.00,380.56 L628.60,381.07 L627.20,381.58 L625.80,382.11 L624.40,382.64 L623.00,383.17 L621.60,383.71 L620.20,384.25 L618.80,384.79 L617.40,385.33 L616.00,385.88 L614.60,386.44 L613.20,387.00 L611.80,387.58 L610.40,388.16 L609.00,388.76 L607.60,389.36 L606.20,389.98 L604.80,390.62 L603.40,391.27 L602.00,391.94 L600.60,392.63 L599.20,393.33 L597.80,394.05 L596.40,394.79 L595.00,395.54 L593.60,396.30 L592.20,397.07 L590.80,397.84 L589.40,398.63 L588.00,399.41 L586.60,400.20 L585.20,401.01 L583.80,401.82 L582.40,402.63 L581.00,403.45 L579.60,404.28 L578.20,405.11 L576.80,405.94 L575.40,406.78 L574.00,407.60 L572.60,408.43 L571.20,409.25 L569.80,410.07 L568.40,410.89 L567.00,411.73 L565.60,412.56 L564.20,413.40 L562.80,414.23 L561.40,415.05 L560.00,415.85 L558.60,416.63 L557.20,417.40 L555.80,418.14 L554.40,418.86 L553.00,419.55 L551.60,420.22 L550.20,420.86 L548.80,421.49 L547.40,422.10 L546.00,422.70 L544.60,423.28 L543.20,423.86 L541.80,424.44 L540.40,425.01 L539.00,425.57 L537.60,426.14 L536.20,426.71 L534.80,427.29 L533.40,427.87 L532.00,428.43 L530.60,428.99 L529.20,429.55 L527.80,430.11 L526.40,430.66 L525.00,431.22 L523.60,431.78 L522.20,432.34 L520.80,432.91 L519.40,433.50 L518.00,434.09 L516.60,434.69 L515.20,435.30 L513.80,435.91 L512.40,436.53 L511.00,437.16 L509.60,437.80 L508.20,438.44 L506.80,439.08 L505.40,439.74 L504.00,440.40 L502.60,441.07 L501.20,441.75 L499.80,442.43 L498.40,443.13 L497.00,443.85 L495.60,444.58 L494.20,445.31 L492.80,446.05 L491.40,446.79 L490.00,447.53 L488.60,448.26 L487.20,449.00 L485.80,449.74 L484.40,450.48 L483.00,451.22 L481.60,451.96 L480.20,452.70 L478.80,453.44 L477.40,454.19 L476.00,454.93 L474.60,455.67 L474.32,455.82 L474.04,455.97 L473.76,456.12 L473.48,456.27 L473.20,456.42 L472.92,456.56 L472.64,456.71 L472.36,456.86 L472.08,457.01 L471.80,457.16 L471.52,457.31 L471.24,457.46 L470.96,457.61 L470.68,457.76 L470.40,457.90 L470.12,458.05 L469.84,458.20 L469.56,458.35 L469.28,458.49 L469.00,458.64 L468.72,458.79 L468.44,458.94 L468.16,459.08 L467.88,459.23 L467.60,459.38 L467.32,459.53 L467.04,459.68 L466.76,459.82 L466.48,459.97 L466.20,460.12 L465.92,460.27 L465.64,460.42 L465.36,460.57 L465.08,460.72 L464.80,460.87 L464.52,461.03 L464.24,461.18 L463.96,461.33 L463.68,461.49 L463.40,461.64 L463.12,461.80 L462.84,461.95 L462.56,462.11 L462.28,462.27 L462.00,462.42 L461.72,462.58 L461.44,462.74 L461.16,462.90 L460.88,463.07 L460.60,463.23 L460.32,463.39 L460.04,463.56 L459.76,463.72 L459.48,463.89 L459.20,464.06 L458.92,464.23 L458.64,464.40 L458.36,464.57 L458.08,464.75 L457.80,464.92 L457.52,465.10 L457.24,465.28 L456.96,465.46 L456.68,465.64 L456.40,465.82 L456.12,466.01 L455.84,466.19 L455.56,466.38 L455.28,466.57 L455.00,466.76 L454.72,466.95 L454.44,467.15 L454.16,467.35 L453.88,467.56 L453.60,467.77 L453.32,467.98 L453.04,468.20 L452.76,468.42 L452.48,468.64 L452.20,468.86 L451.92,469.08 L451.64,469.31 L451.36,469.53 L451.08,469.76 L450.80,469.98 L450.52,470.21 L450.24,470.43 L449.96,470.66 L449.68,470.88 L449.40,471.10 L449.12,471.32 L448.84,471.54 L448.56,471.76 L448.28,471.97 L448.00,472.18 L447.72,472.39 L447.44,472.59 L447.16,472.79 L446.88,472.99 L446.60,473.18 L446.32,473.38 L446.04,473.57 L445.76,473.76 L445.48,473.95 L445.20,474.14 L444.92,474.32 L444.64,474.51 L444.36,474.69 L444.08,474.88 L443.80,475.06 L443.52,475.25 L443.24,475.43 L442.96,475.61 L442.68,475.80 L442.40,475.98 L442.12,476.17 L441.84,476.36 L441.56,476.54 L441.28,476.73 L441.00,476.93 L440.72,477.12 L440.44,477.31 L440.16,477.51 L439.88,477.71 L439.60,477.91 L439.32,478.11 L439.04,478.32 L438.76,478.53 L438.48,478.75 L438.20,478.96 L437.92,479.18 L437.64,479.41 L437.36,479.64 L437.08,479.87 L436.80,480.11 L436.52,480.35 L436.24,480.59 L435.96,480.85 L435.68,481.10 L435.40,481.36 L435.12,481.62 L434.84,481.87 L434.56,482.14 L434.28,482.40 L434.00,482.67 L433.72,482.94 L433.44,483.21 L433.16,483.49 L432.88,483.77 L432.60,484.05 L432.32,484.34 L432.04,484.65 L431.76,484.96 L431.48,485.28 L431.20,485.61 L430.92,485.96 L430.64,486.31 L430.36,486.68 L430.08,487.05 L429.80,487.44 L429.52,487.84 L429.24,488.25 L428.96,488.67 L428.68,489.11 L428.40,489.55 L428.12,490.01 L427.84,490.48 L427.56,490.97 L427.28,491.46 L427.00,491.97 L426.72,492.49 L426.44,493.02 L426.16,493.57 L425.88,494.13 L425.60,494.71 L425.32,495.31 L425.04,495.95 L424.76,496.63 L424.48,497.35 L424.20,498.10 L423.92,498.89 L423.64,499.71 L423.36,500.56 L423.08,501.44 L422.80,502.35 L422.52,503.28 L422.24,504.23 L421.96,505.21 L421.68,506.20 L421.40,507.22 L421.12,508.25 L420.84,509.29 L420.56,510.35 L420.28,511.42 L420.00,512.50 L419.72,513.59 L419.44,514.68 L419.16,515.78 L418.88,516.88 L418.60,517.98 L418.32,519.08 L418.04,520.19 L417.76,521.29 L417.48,522.41 L417.20,523.56 L416.92,524.73 L416.64,525.92 L416.36,527.13 L416.08,528.36 L415.80,529.62 L415.52,530.89 L415.24,532.18 L414.96,533.50 L414.68,534.82 L414.40,536.17 L414.12,537.53 L413.84,538.90 L413.56,540.29 L413.28,541.70 L413.00,543.11 L412.72,544.54 L412.44,545.98 L412.16,547.43 L411.88,548.89 L411.60,550.36 L411.32,551.84 L411.04,553.32 L410.76,554.81 L410.48,556.36 L410.20,557.98 L409.92,559.66 L409.64,561.36 L409.36,563.06 L409.08,564.73 L408.80,566.35 L408.52,567.90 L408.24,569.33 L407.96,570.67 L407.68,571.95 L407.40,573.19 L407.12,574.38 L406.84,575.56 L406.56,576.73 L406.28,577.88 L406.00,579.03 L405.72,580.18 L405.44,581.34 L405.16,582.51 L404.88,583.70 L404.60,584.91 L404.32,586.14 L404.04,587.42 L403.76,588.73 L403.48,590.08 L403.20,591.48 L402.92,592.90 L402.64,594.34 L402.36,595.79 L402.08,597.25 L401.80,598.69 L401.52,600.11 L401.24,601.51 L400.96,602.86 L400.68,604.17 L400.40,605.42 L400.12,606.60 L399.84,607.71 L399.56,608.76 L399.28,609.74 L399.00,610.66 L398.72,611.54 L398.44,612.40 L398.16,613.23 L397.88,614.05 L397.60,614.86 L397.32,615.68 L397.04,616.50 L396.76,617.33 L396.48,618.19 L396.20,619.07 L396.06,619.52 L395.92,619.98 L395.78,620.46 L395.64,620.94 L395.50,621.42 L395.36,621.89 L395.22,622.35 L395.08,622.80 L394.94,623.25 L394.80,623.70 L394.66,624.12 L394.52,624.47 L394.38,624.77 L394.24,625.02 L394.10,625.22 L393.96,625.38 L393.82,625.50 L393.68,625.60 L393.54,625.67 L393.40,625.71 L393.26,625.75 L393.12,625.77 L392.98,625.79 L392.84,625.81 L392.70,625.84 L392.56,625.88 L392.42,625.93 L392.28,625.99 L392.14,626.11 L392.00,626.31 L391.86,626.63 L391.72,627.10 L391.58,627.57 L391.44,627.88 L391.30,628.15 L391.16,628.48 L391.02,628.96 L390.88,629.69 L390.74,633.49 L390.60,639.80 Z" fill="#56b4e9" fill-opacity="0.24"/>
<path d="M390.60,639.80 L390.74,624.61 L390.88,614.53 L391.02,610.20 L391.16,606.86 L391.30,604.25 L391.44,602.10 L391.58,600.15 L391.72,598.13 L391.86,596.02 L392.00,594.01 L392.14,592.08 L392.28,590.23 L392.42,588.47 L392.56,586.79 L392.70,585.19 L392.84,583.67 L392.98,582.24 L393.12,580.88 L393.26,579.60 L393.40,578.38 L393.54,577.21 L393.68,576.10 L393.82,575.03 L393.96,574.00 L394.10,573.00 L394.24,572.03 L394.38,571.08 L394.52,570.14 L394.66,569.21 L394.80,568.29 L394.94,567.36 L395.08,566.42 L395.22,565.47 L395.36,564.50 L395.50,563.50 L395.64,562.47 L395.78,561.41 L395.92,560.35 L396.06,559.28 L396.20,558.21 L396.48,556.04 L396.76,553.83 L397.04,551.60 L397.32,549.35 L397.60,547.08 L397.88,544.80 L398.16,542.52 L398.44,540.22 L398.72,537.90 L399.00,535.54 L399.28,533.15 L399.56,530.70 L399.84,528.18 L400.12,525.59 L400.40,522.92 L400.68,520.18 L400.96,517.40 L401.24,514.58 L401.52,511.76 L401.80,508.95 L402.08,506.12 L402.36,503.24 L402.64,500.33 L402.92,497.39 L403.20,494.43 L403.48,491.47 L403.76,488.51 L404.04,485.56 L404.32,482.64 L404.60,479.75 L404.88,476.90 L405.16,474.10 L405.44,471.36 L405.72,468.70 L406.00,466.11 L406.28,463.62 L406.56,461.18 L406.84,458.76 L407.12,456.36 L407.40,453.99 L407.68,451.66 L407.96,449.36 L408.24,447.11 L408.52,444.90 L408.80,442.76 L409.08,440.67 L409.36,438.65 L409.64,436.70 L409.92,434.84 L410.20,433.06 L410.48,431.37 L410.76,429.78 L411.04,428.27 L411.32,426.83 L411.60,425.44 L411.88,424.10 L412.16,422.82 L412.44,421.59 L412.72,420.40 L413.00,419.26 L413.28,418.16 L413.56,417.09 L413.84,416.07 L414.12,415.07 L414.40,414.11 L414.68,413.17 L414.96,412.26 L415.24,411.38 L415.52,410.53 L415.80,409.70 L416.08,408.91 L416.36,408.16 L416.64,407.45 L416.92,406.78 L417.20,406.15 L417.48,405.56 L417.76,404.98 L418.04,404.43 L418.32,403.91 L418.60,403.42 L418.88,402.97 L419.16,402.55 L419.44,402.16 L419.72,401.82 L420.00,401.51 L420.28,401.24 L420.56,400.98 L420.84,400.73 L421.12,400.49 L421.40,400.26 L421.68,400.05 L421.96,399.84 L422.24,399.64 L422.52,399.46 L422.80,399.28 L423.08,399.11 L423.36,398.95 L423.64,398.80 L423.92,398.65 L424.20,398.51 L424.48,398.38 L424.76,398.26 L425.04,398.14 L425.32,398.02 L425.60,397.91 L425.88,397.79 L426.16,397.67 L426.44,397.54 L426.72,397.41 L427.00,397.27 L427.28,397.13 L427.56,396.99 L427.84,396.86 L428.12,396.73 L428.40,396.61 L428.68,396.48 L428.96,396.37 L429.24,396.25 L429.52,396.14 L429.80,396.04 L430.08,395.93 L430.36,395.83 L430.64,395.73 L430.92,395.64 L431.20,395.54 L431.48,395.45 L431.76,395.36 L432.04,395.27 L432.32,395.18 L432.60,395.10 L432.88,395.01 L433.16,394.93 L433.44,394.84 L433.72,394.76 L434.00,394.68 L434.28,394.59 L434.56,394.51 L434.84,394.43 L435.12,394.35 L435.40,394.27 L435.68,394.19 L435.96,394.11 L436.24,394.04 L436.52,393.96 L436.80,393.88 L437.08,393.80 L437.36,393.73 L437.64,393.65 L437.92,393.58 L438.20,393.50 L438.48,393.43 L438.76,393.35 L439.04,393.28 L439.32,393.20 L439.60,393.13 L439.88,393.06 L440.16,392.98 L440.44,392.91 L440.72,392.83 L441.00,392.76 L441.28,392.69 L441.56,392.61 L441.84,392.54 L442.12,392.46 L442.40,392.39 L442.68,392.31 L442.96,392.23 L443.24,392.16 L443.52,392.08 L443.80,392.00 L444.08,391.93 L444.36,391.85 L444.64,391.77 L444.92,391.69 L445.20,391.61 L445.48,391.53 L445.76,391.45 L446.04,391.36 L446.32,391.28 L446.60,391.19 L446.88,391.11 L447.16,391.03 L447.44,390.94 L447.72,390.86 L448.00,390.78 L448.28,390.69 L448.56,390.61 L448.84,390.53 L449.12,390.45 L449.40,390.37 L449.68,390.29 L449.96,390.21 L450.24,390.13 L450.52,390.05 L450.80,389.97 L451.08,389.89 L451.36,389.82 L451.64,389.74 L451.92,389.66 L452.20,389.59 L452.48,389.51 L452.76,389.44 L453.04,389.36 L453.32,389.29 L453.60,389.21 L453.88,389.14 L454.16,389.07 L454.44,389.00 L454.72,388.93 L455.00,388.85 L455.28,388.78 L455.56,388.71 L455.84,388.64 L456.12,388.58 L456.40,388.51 L456.68,388.44 L456.96,388.37 L457.24,388.30 L457.52,388.24 L457.80,388.17 L458.08,388.11 L458.36,388.04 L458.64,387.98 L458.92,387.92 L459.20,387.85 L459.48,387.79 L459.76,387.73 L460.04,387.67 L460.32,387.61 L460.60,387.55 L460.88,387.49 L461.16,387.43 L461.44,387.37 L461.72,387.31 L462.00,387.25 L462.28,387.20 L462.56,387.14 L462.84,387.08 L463.12,387.03 L463.40,386.97 L463.68,386.92 L463.96,386.87 L464.24,386.81 L464.52,386.76 L464.80,386.71 L465.08,386.66 L465.36,386.61 L465.64,386.56 L465.92,386.51 L466.20,386.46 L466.48,386.41 L466.76,386.36 L467.04,386.31 L467.32,386.27 L467.60,386.22 L467.88,386.17 L468.16,386.13 L468.44,386.08 L468.72,386.03 L469.00,385.99 L469.28,385.94 L469.56,385.90 L469.84,385.85 L470.12,385.81 L470.40,385.77 L470.68,385.72 L470.96,385.68 L471.24,385.64 L471.52,385.59 L471.80,385.55 L472.08,385.51 L472.36,385.47 L472.64,385.43 L472.92,385.39 L473.20,385.34 L473.48,385.30 L473.76,385.26 L474.04,385.22 L474.32,385.18 L474.60,385.14 L476.00,384.94 L477.40,384.75 L478.80,384.55 L480.20,384.35 L481.60,384.16 L483.00,383.96 L484.40,383.77 L485.80,383.58 L487.20,383.39 L488.60,383.21 L490.00,383.03 L491.40,382.85 L492.80,382.67 L494.20,382.49 L495.60,382.31 L497.00,382.13 L498.40,381.96 L499.80,381.78 L501.20,381.60 L502.60,381.42 L504.00,381.24 L505.40,381.07 L506.80,380.89 L508.20,380.72 L509.60,380.54 L511.00,380.37 L512.40,380.20 L513.80,380.03 L515.20,379.86 L516.60,379.69 L518.00,379.52 L519.40,379.35 L520.80,379.18 L522.20,379.01 L523.60,378.84 L525.00,378.68 L526.40,378.51 L527.80,378.34 L529.20,378.18 L530.60,378.01 L532.00,377.84 L533.40,377.68 L534.80,377.51 L536.20,377.34 L537.60,377.18 L539.00,377.01 L540.40,376.84 L541.80,376.67 L543.20,376.50 L544.60,376.33 L546.00,376.17 L547.40,376.00 L548.80,375.83 L550.20,375.66 L551.60,375.49 L553.00,375.33 L554.40,375.16 L555.80,375.00 L557.20,374.83 L558.60,374.67 L560.00,374.51 L561.40,374.35 L562.80,374.19 L564.20,374.03 L565.60,373.88 L567.00,373.72 L568.40,373.57 L569.80,373.42 L571.20,373.27 L572.60,373.13 L574.00,372.98 L575.40,372.84 L576.80,372.70 L578.20,372.56 L579.60,372.42 L581.00,372.28 L582.40,372.14 L583.80,372.01 L585.20,371.87 L586.60,371.74 L588.00,371.60 L589.40,371.47 L590.80,371.35 L592.20,371.22 L593.60,371.10 L595.00,370.98 L596.40,370.86 L597.80,370.74 L599.20,370.63 L600.60,370.51 L602.00,370.40 L603.40,370.29 L604.80,370.17 L606.20,370.06 L607.60,369.95 L609.00,369.83 L610.40,369.71 L611.80,369.60 L613.20,369.49 L614.60,369.38 L616.00,369.28 L617.40,369.19 L618.80,369.11 L620.20,369.03 L621.60,368.97 L623.00,368.92 L624.40,368.87 L625.80,368.83 L627.20,368.79 L628.60,368.75 L630.00,368.71 L631.40,368.67 L632.80,368.63 L634.20,368.58 L635.60,368.53 L637.00,368.48 L638.40,368.43 L639.80,368.37 L641.20,368.32 L642.60,368.26 L644.00,368.21 L645.40,368.15 L646.80,368.10 L648.20,368.05 L649.60,368.00 L651.00,367.95 L652.40,367.90 L653.80,367.86 L655.20,367.81 L656.60,367.76 L658.00,367.72 L659.40,367.67 L660.80,367.63 L662.20,367.58 L663.60,367.54 L665.00,367.49 L666.40,367.44 L667.80,367.40 L669.20,367.35 L670.60,367.30 L670.60,367.30 L669.20,367.53 L667.80,367.77 L666.40,368.00 L665.00,368.23 L663.60,368.45 L662.20,368.68 L660.80,368.90 L659.40,369.12 L658.00,369.34 L656.60,369.55 L655.20,369.77 L653.80,369.97 L652.40,370.18 L651.00,370.38 L649.60,370.58 L648.20,370.78 L646.80,370.97 L645.40,371.16 L644.00,371.35 L642.60,371.53 L641.20,371.71 L639.80,371.89 L638.40,372.07 L637.00,372.25 L635.60,372.42 L634.20,372.60 L632.80,372.77 L631.40,372.94 L630.00,373.10 L628.60,373.25 L627.20,373.41 L625.80,373.57 L624.40,373.73 L623.00,373.89 L621.60,374.06 L620.20,374.24 L618.80,374.42 L617.40,374.61 L616.00,374.81 L614.60,375.02 L613.20,375.23 L611.80,375.44 L610.40,375.65 L609.00,375.87 L607.60,376.07 L606.20,376.28 L604.80,376.48 L603.40,376.67 L602.00,376.86 L600.60,377.05 L599.20,377.24 L597.80,377.42 L596.40,377.61 L595.00,377.79 L593.60,377.96 L592.20,378.14 L590.80,378.31 L589.40,378.48 L588.00,378.65 L586.60,378.82 L585.20,378.99 L583.80,379.15 L582.40,379.32 L581.00,379.49 L579.60,379.66 L578.20,379.83 L576.80,380.00 L575.40,380.17 L574.00,380.34 L572.60,380.51 L571.20,380.69 L569.80,380.86 L568.40,381.04 L567.00,381.22 L565.60,381.40 L564.20,381.58 L562.80,381.77 L561.40,381.95 L560.00,382.14 L558.60,382.32 L557.20,382.51 L555.80,382.70 L554.40,382.88 L553.00,383.07 L551.60,383.26 L550.20,383.45 L548.80,383.64 L547.40,383.83 L546.00,384.02 L544.60,384.20 L543.20,384.39 L541.80,384.58 L540.40,384.76 L539.00,384.95 L537.60,385.13 L536.20,385.32 L534.80,385.50 L533.40,385.68 L532.00,385.86 L530.60,386.04 L529.20,386.22 L527.80,386.40 L526.40,386.58 L525.00,386.76 L523.60,386.94 L522.20,387.12 L520.80,387.29 L519.40,387.47 L518.00,387.65 L516.60,387.83 L515.20,388.00 L513.80,388.18 L512.40,388.36 L511.00,388.53 L509.60,388.71 L508.20,388.89 L506.80,389.06 L505.40,389.24 L504.00,389.42 L502.60,389.60 L501.20,389.77 L499.80,389.95 L498.40,390.13 L497.00,390.31 L495.60,390.49 L494.20,390.66 L492.80,390.84 L491.40,391.02 L490.00,391.20 L488.60,391.38 L487.20,391.57 L485.80,391.75 L484.40,391.94 L483.00,392.13 L481.60,392.33 L480.20,392.53 L478.80,392.72 L477.40,392.92 L476.00,393.12 L474.60,393.32 L474.32,393.36 L474.04,393.40 L473.76,393.44 L473.48,393.48 L473.20,393.52 L472.92,393.56 L472.64,393.60 L472.36,393.64 L472.08,393.69 L471.80,393.73 L471.52,393.77 L471.24,393.81 L470.96,393.86 L470.68,393.90 L470.40,393.94 L470.12,393.99 L469.84,394.03 L469.56,394.07 L469.28,394.12 L469.00,394.16 L468.72,394.21 L468.44,394.25 L468.16,394.30 L467.88,394.35 L467.60,394.39 L467.32,394.44 L467.04,394.49 L466.76,394.54 L466.48,394.58 L466.20,394.63 L465.92,394.68 L465.64,394.73 L465.36,394.78 L465.08,394.83 L464.80,394.88 L464.52,394.94 L464.24,394.99 L463.96,395.04 L463.68,395.09 L463.40,395.15 L463.12,395.20 L462.84,395.26 L462.56,395.31 L462.28,395.37 L462.00,395.43 L461.72,395.48 L461.44,395.54 L461.16,395.60 L460.88,395.66 L460.60,395.72 L460.32,395.78 L460.04,395.84 L459.76,395.90 L459.48,395.96 L459.20,396.03 L458.92,396.09 L458.64,396.15 L458.36,396.22 L458.08,396.28 L457.80,396.35 L457.52,396.41 L457.24,396.48 L456.96,396.55 L456.68,396.61 L456.40,396.68 L456.12,396.75 L455.84,396.82 L455.56,396.89 L455.28,396.96 L455.00,397.03 L454.72,397.10 L454.44,397.17 L454.16,397.24 L453.88,397.32 L453.60,397.39 L453.32,397.46 L453.04,397.54 L452.76,397.61 L452.48,397.69 L452.20,397.76 L451.92,397.84 L451.64,397.91 L451.36,397.99 L451.08,398.07 L450.80,398.15 L450.52,398.23 L450.24,398.30 L449.96,398.38 L449.68,398.46 L449.40,398.54 L449.12,398.62 L448.84,398.71 L448.56,398.79 L448.28,398.87 L448.00,398.95 L447.72,399.03 L447.44,399.12 L447.16,399.20 L446.88,399.29 L446.60,399.37 L446.32,399.46 L446.04,399.54 L445.76,399.63 L445.48,399.72 L445.20,399.82 L444.92,399.91 L444.64,400.01 L444.36,400.11 L444.08,400.21 L443.80,400.32 L443.52,400.42 L443.24,400.53 L442.96,400.64 L442.68,400.75 L442.40,400.86 L442.12,400.98 L441.84,401.10 L441.56,401.22 L441.28,401.34 L441.00,401.47 L440.72,401.59 L440.44,401.72 L440.16,401.85 L439.88,401.99 L439.60,402.12 L439.32,402.26 L439.04,402.40 L438.76,402.54 L438.48,402.69 L438.20,402.83 L437.92,402.98 L437.64,403.14 L437.36,403.29 L437.08,403.45 L436.80,403.60 L436.52,403.77 L436.24,403.93 L435.96,404.09 L435.68,404.26 L435.40,404.43 L435.12,404.61 L434.84,404.78 L434.56,404.96 L434.28,405.14 L434.00,405.32 L433.72,405.51 L433.44,405.70 L433.16,405.88 L432.88,406.08 L432.60,406.27 L432.32,406.47 L432.04,406.66 L431.76,406.87 L431.48,407.07 L431.20,407.28 L430.92,407.49 L430.64,407.71 L430.36,407.92 L430.08,408.15 L429.80,408.37 L429.52,408.60 L429.24,408.84 L428.96,409.08 L428.68,409.32 L428.40,409.57 L428.12,409.83 L427.84,410.08 L427.56,410.35 L427.28,410.62 L427.00,410.89 L426.72,411.18 L426.44,411.49 L426.16,411.81 L425.88,412.15 L425.60,412.51 L425.32,412.88 L425.04,413.27 L424.76,413.69 L424.48,414.12 L424.20,414.58 L423.92,415.06 L423.64,415.57 L423.36,416.09 L423.08,416.62 L422.80,417.18 L422.52,417.75 L422.24,418.34 L421.96,418.95 L421.68,419.57 L421.40,420.20 L421.12,420.85 L420.84,421.51 L420.56,422.18 L420.28,422.86 L420.00,423.56 L419.72,424.27 L419.44,425.03 L419.16,425.82 L418.88,426.64 L418.60,427.48 L418.32,428.35 L418.04,429.24 L417.76,430.15 L417.48,431.07 L417.20,432.00 L416.92,432.94 L416.64,433.91 L416.36,434.90 L416.08,435.92 L415.80,436.95 L415.52,438.01 L415.24,439.11 L414.96,440.23 L414.68,441.39 L414.40,442.57 L414.12,443.79 L413.84,445.03 L413.56,446.31 L413.28,447.61 L413.00,448.96 L412.72,450.34 L412.44,451.76 L412.16,453.23 L411.88,454.74 L411.60,456.29 L411.32,457.89 L411.04,459.54 L410.76,461.23 L410.48,463.01 L410.20,464.86 L409.92,466.80 L409.64,468.81 L409.36,470.89 L409.08,473.03 L408.80,475.21 L408.52,477.45 L408.24,479.72 L407.96,482.02 L407.68,484.35 L407.40,486.69 L407.12,489.05 L406.84,491.40 L406.56,493.74 L406.28,496.07 L406.00,498.42 L405.72,500.83 L405.44,503.31 L405.16,505.82 L404.88,508.37 L404.60,510.95 L404.32,513.55 L404.04,516.16 L403.76,518.77 L403.48,521.37 L403.20,523.95 L402.92,526.51 L402.64,529.03 L402.36,531.51 L402.08,533.94 L401.80,536.30 L401.52,538.64 L401.24,540.97 L400.96,543.28 L400.68,545.55 L400.40,547.76 L400.12,549.90 L399.84,551.95 L399.56,553.90 L399.28,555.80 L399.00,557.63 L398.72,559.42 L398.44,561.17 L398.16,562.89 L397.88,564.60 L397.60,566.30 L397.32,567.99 L397.04,569.67 L396.76,571.32 L396.48,572.96 L396.20,574.56 L396.06,575.35 L395.92,576.12 L395.78,576.87 L395.64,577.61 L395.50,578.32 L395.36,578.99 L395.22,579.63 L395.08,580.23 L394.94,580.82 L394.80,581.38 L394.66,581.94 L394.52,582.50 L394.38,583.05 L394.24,583.62 L394.10,584.19 L393.96,584.79 L393.82,585.42 L393.68,586.08 L393.54,586.78 L393.40,587.52 L393.26,588.32 L393.12,589.17 L392.98,590.09 L392.84,591.09 L392.70,592.16 L392.56,593.31 L392.42,594.54 L392.28,595.85 L392.14,597.24 L392.00,598.71 L391.86,600.27 L391.72,601.90 L391.58,603.46 L391.44,604.95 L391.30,606.62 L391.16,608.76 L391.02,611.62 L390.88,615.48 L390.74,625.09 L390.60,639.80 Z" fill="#009e73" fill-opacity="0.24"/>
<path d="M390.60,639.80 L390.74,607.10 L390.88,597.02 L391.02,594.87 L391.16,593.11 L391.30,591.70 L391.44,590.57 L391.58,589.66 L391.72,588.93 L391.86,588.31 L392.00,587.76 L392.14,587.20 L392.28,586.60 L392.42,585.90 L392.56,585.03 L392.70,584.06 L392.84,583.08 L392.98,582.11 L393.12,581.13 L393.26,580.16 L393.40,579.19 L393.54,578.23 L393.68,577.27 L393.82,576.32 L393.96,575.38 L394.10,574.45 L394.24,573.54 L394.38,572.64 L394.52,571.75 L394.66,570.89 L394.80,570.04 L394.94,569.20 L395.08,568.37 L395.22,567.53 L395.36,566.70 L395.50,565.88 L395.64,565.06 L395.78,564.25 L395.92,563.45 L396.06,562.66 L396.20,561.88 L396.48,560.36 L396.76,558.91 L397.04,557.53 L397.32,556.24 L397.60,555.05 L397.88,553.95 L398.16,552.92 L398.44,551.95 L398.72,551.03 L399.00,550.16 L399.28,549.32 L399.56,548.51 L399.84,547.71 L400.12,546.93 L400.40,546.15 L400.68,545.36 L400.96,544.56 L401.24,543.74 L401.52,542.89 L401.80,542.00 L402.08,541.06 L402.36,540.06 L402.64,539.01 L402.92,537.89 L403.20,536.72 L403.48,535.51 L403.76,534.27 L404.04,533.01 L404.32,531.73 L404.60,530.45 L404.88,529.17 L405.16,527.91 L405.44,526.67 L405.72,525.46 L406.00,524.29 L406.28,523.17 L406.56,522.08 L406.84,521.00 L407.12,519.93 L407.40,518.86 L407.68,517.80 L407.96,516.75 L408.24,515.70 L408.52,514.66 L408.80,513.63 L409.08,512.60 L409.36,511.59 L409.64,510.58 L409.92,509.57 L410.20,508.58 L410.48,507.59 L410.76,506.61 L411.04,505.64 L411.32,504.68 L411.60,503.72 L411.88,502.77 L412.16,501.84 L412.44,500.91 L412.72,499.99 L413.00,499.07 L413.28,498.17 L413.56,497.28 L413.84,496.39 L414.12,495.52 L414.40,494.65 L414.68,493.80 L414.96,492.95 L415.24,492.11 L415.52,491.29 L415.80,490.47 L416.08,489.66 L416.36,488.87 L416.64,488.08 L416.92,487.30 L417.20,486.53 L417.48,485.77 L417.76,485.01 L418.04,484.26 L418.32,483.52 L418.60,482.79 L418.88,482.06 L419.16,481.34 L419.44,480.63 L419.72,479.92 L420.00,479.21 L420.28,478.51 L420.56,477.82 L420.84,477.13 L421.12,476.44 L421.40,475.76 L421.68,475.08 L421.96,474.40 L422.24,473.73 L422.52,473.06 L422.80,472.39 L423.08,471.72 L423.36,471.06 L423.64,470.39 L423.92,469.73 L424.20,469.06 L424.48,468.40 L424.76,467.73 L425.04,467.06 L425.32,466.39 L425.60,465.72 L425.88,465.05 L426.16,464.37 L426.44,463.70 L426.72,463.03 L427.00,462.35 L427.28,461.68 L427.56,461.01 L427.84,460.35 L428.12,459.68 L428.40,459.03 L428.68,458.37 L428.96,457.72 L429.24,457.08 L429.52,456.44 L429.80,455.81 L430.08,455.18 L430.36,454.57 L430.64,453.96 L430.92,453.36 L431.20,452.77 L431.48,452.19 L431.76,451.62 L432.04,451.06 L432.32,450.51 L432.60,449.97 L432.88,449.45 L433.16,448.94 L433.44,448.44 L433.72,447.96 L434.00,447.49 L434.28,447.02 L434.56,446.56 L434.84,446.10 L435.12,445.65 L435.40,445.21 L435.68,444.77 L435.96,444.33 L436.24,443.91 L436.52,443.48 L436.80,443.07 L437.08,442.66 L437.36,442.26 L437.64,441.86 L437.92,441.47 L438.20,441.09 L438.48,440.71 L438.76,440.35 L439.04,439.98 L439.32,439.63 L439.60,439.28 L439.88,438.94 L440.16,438.61 L440.44,438.28 L440.72,437.97 L441.00,437.66 L441.28,437.35 L441.56,437.06 L441.84,436.77 L442.12,436.49 L442.40,436.21 L442.68,435.94 L442.96,435.68 L443.24,435.42 L443.52,435.16 L443.80,434.91 L444.08,434.66 L444.36,434.41 L444.64,434.17 L444.92,433.94 L445.20,433.70 L445.48,433.47 L445.76,433.25 L446.04,433.02 L446.32,432.80 L446.60,432.58 L446.88,432.37 L447.16,432.15 L447.44,431.94 L447.72,431.73 L448.00,431.52 L448.28,431.32 L448.56,431.11 L448.84,430.91 L449.12,430.70 L449.40,430.50 L449.68,430.30 L449.96,430.10 L450.24,429.90 L450.52,429.69 L450.80,429.49 L451.08,429.29 L451.36,429.09 L451.64,428.88 L451.92,428.68 L452.20,428.48 L452.48,428.27 L452.76,428.07 L453.04,427.87 L453.32,427.67 L453.60,427.47 L453.88,427.27 L454.16,427.07 L454.44,426.87 L454.72,426.67 L455.00,426.47 L455.28,426.27 L455.56,426.08 L455.84,425.88 L456.12,425.69 L456.40,425.49 L456.68,425.30 L456.96,425.11 L457.24,424.92 L457.52,424.73 L457.80,424.54 L458.08,424.35 L458.36,424.17 L458.64,423.99 L458.92,423.80 L459.20,423.62 L459.48,423.44 L459.76,423.27 L460.04,423.09 L460.32,422.92 L460.60,422.74 L460.88,422.57 L461.16,422.41 L461.44,422.24 L461.72,422.07 L462.00,421.91 L462.28,421.75 L462.56,421.59 L462.84,421.44 L463.12,421.28 L463.40,421.13 L463.68,420.98 L463.96,420.84 L464.24,420.69 L464.52,420.55 L464.80,420.40 L465.08,420.26 L465.36,420.12 L465.64,419.99 L465.92,419.85 L466.20,419.72 L466.48,419.58 L466.76,419.45 L467.04,419.32 L467.32,419.19 L467.60,419.06 L467.88,418.94 L468.16,418.81 L468.44,418.68 L468.72,418.56 L469.00,418.44 L469.28,418.32 L469.56,418.19 L469.84,418.07 L470.12,417.95 L470.40,417.84 L470.68,417.72 L470.96,417.60 L471.24,417.48 L471.52,417.37 L471.80,417.25 L472.08,417.13 L472.36,417.02 L472.64,416.90 L472.92,416.79 L473.20,416.67 L473.48,416.56 L473.76,416.44 L474.04,416.33 L474.32,416.22 L474.60,416.10 L476.00,415.53 L477.40,414.95 L478.80,414.36 L480.20,413.78 L481.60,413.21 L483.00,412.64 L484.40,412.07 L485.80,411.51 L487.20,410.94 L488.60,410.38 L490.00,409.81 L491.40,409.23 L492.80,408.65 L494.20,408.07 L495.60,407.48 L497.00,406.91 L498.40,406.36 L499.80,405.83 L501.20,405.31 L502.60,404.81 L504.00,404.31 L505.40,403.82 L506.80,403.34 L508.20,402.86 L509.60,402.40 L511.00,401.95 L512.40,401.50 L513.80,401.07 L515.20,400.65 L516.60,400.24 L518.00,399.84 L519.40,399.46 L520.80,399.09 L522.20,398.73 L523.60,398.37 L525.00,398.03 L526.40,397.69 L527.80,397.36 L529.20,397.03 L530.60,396.70 L532.00,396.37 L533.40,396.04 L534.80,395.71 L536.20,395.37 L537.60,395.05 L539.00,394.72 L540.40,394.40 L541.80,394.08 L543.20,393.76 L544.60,393.44 L546.00,393.12 L547.40,392.80 L548.80,392.48 L550.20,392.15 L551.60,391.82 L553.00,391.48 L554.40,391.14 L555.80,390.79 L557.20,390.43 L558.60,390.06 L560.00,389.70 L561.40,389.33 L562.80,388.97 L564.20,388.61 L565.60,388.26 L567.00,387.91 L568.40,387.58 L569.80,387.26 L571.20,386.95 L572.60,386.65 L574.00,386.35 L575.40,386.07 L576.80,385.79 L578.20,385.51 L579.60,385.24 L581.00,384.97 L582.40,384.70 L583.80,384.43 L585.20,384.15 L586.60,383.88 L588.00,383.59 L589.40,383.31 L590.80,383.03 L592.20,382.75 L593.60,382.48 L595.00,382.20 L596.40,381.92 L597.80,381.64 L599.20,381.35 L600.60,381.06 L602.00,380.77 L603.40,380.47 L604.80,380.17 L606.20,379.86 L607.60,379.54 L609.00,379.20 L610.40,378.87 L611.80,378.53 L613.20,378.18 L614.60,377.84 L616.00,377.50 L617.40,377.16 L618.80,376.83 L620.20,376.50 L621.60,376.17 L623.00,375.85 L624.40,375.52 L625.80,375.19 L627.20,374.86 L628.60,374.54 L630.00,374.23 L631.40,373.93 L632.80,373.63 L634.20,373.35 L635.60,373.08 L637.00,372.81 L638.40,372.54 L639.80,372.27 L641.20,372.01 L642.60,371.75 L644.00,371.49 L645.40,371.23 L646.80,370.98 L648.20,370.73 L649.60,370.48 L651.00,370.24 L652.40,370.00 L653.80,369.77 L655.20,369.53 L656.60,369.31 L658.00,369.08 L659.40,368.87 L660.80,368.65 L662.20,368.44 L663.60,368.24 L665.00,368.04 L666.40,367.85 L667.80,367.66 L669.20,367.48 L670.60,367.30" fill="none" stroke="#e69f00" stroke-width="1.5" stroke-linejoin="round"/>
<path d="M390.60,639.80 L390.74,630.64 L390.88,624.00 L391.02,620.48 L391.16,617.35 L391.30,614.57 L391.44,612.12 L391.58,609.95 L391.72,608.03 L391.86,606.33 L392.00,604.83 L392.14,603.47 L392.28,602.24 L392.42,601.10 L392.56,600.01 L392.70,598.98 L392.84,597.99 L392.98,597.06 L393.12,596.18 L393.26,595.35 L393.40,594.56 L393.54,593.81 L393.68,593.09 L393.82,592.41 L393.96,591.76 L394.10,591.13 L394.24,590.53 L394.38,589.94 L394.52,589.37 L394.66,588.82 L394.80,588.28 L394.94,587.74 L395.08,587.20 L395.22,586.67 L395.36,586.13 L395.50,585.58 L395.64,585.03 L395.78,584.47 L395.92,583.93 L396.06,583.41 L396.20,582.89 L396.48,581.89 L396.76,580.94 L397.04,580.01 L397.32,579.11 L397.60,578.23 L397.88,577.36 L398.16,576.50 L398.44,575.63 L398.72,574.76 L399.00,573.87 L399.28,572.96 L399.56,572.03 L399.84,571.05 L400.12,570.04 L400.40,568.98 L400.68,567.87 L400.96,566.72 L401.24,565.55 L401.52,564.36 L401.80,563.15 L402.08,561.94 L402.36,560.73 L402.64,559.54 L402.92,558.37 L403.20,557.22 L403.48,556.12 L403.76,555.05 L404.04,554.04 L404.32,553.07 L404.60,552.13 L404.88,551.22 L405.16,550.34 L405.44,549.47 L405.72,548.61 L406.00,547.74 L406.28,546.88 L406.56,546.00 L406.84,545.10 L407.12,544.17 L407.40,543.21 L407.68,542.21 L407.96,541.17 L408.24,540.06 L408.52,538.87 L408.80,537.58 L409.08,536.21 L409.36,534.78 L409.64,533.33 L409.92,531.88 L410.20,530.46 L410.48,529.09 L410.76,527.80 L411.04,526.57 L411.32,525.34 L411.60,524.12 L411.88,522.91 L412.16,521.70 L412.44,520.51 L412.72,519.33 L413.00,518.15 L413.28,516.99 L413.56,515.84 L413.84,514.70 L414.12,513.57 L414.40,512.45 L414.68,511.35 L414.96,510.27 L415.24,509.19 L415.52,508.14 L415.80,507.09 L416.08,506.07 L416.36,505.06 L416.64,504.07 L416.92,503.09 L417.20,502.14 L417.48,501.20 L417.76,500.28 L418.04,499.37 L418.32,498.46 L418.60,497.54 L418.88,496.62 L419.16,495.71 L419.44,494.80 L419.72,493.89 L420.00,492.99 L420.28,492.10 L420.56,491.21 L420.84,490.34 L421.12,489.48 L421.40,488.63 L421.68,487.80 L421.96,486.99 L422.24,486.20 L422.52,485.43 L422.80,484.68 L423.08,483.95 L423.36,483.25 L423.64,482.58 L423.92,481.93 L424.20,481.32 L424.48,480.73 L424.76,480.18 L425.04,479.67 L425.32,479.19 L425.60,478.75 L425.88,478.34 L426.16,477.94 L426.44,477.54 L426.72,477.16 L427.00,476.79 L427.28,476.42 L427.56,476.07 L427.84,475.72 L428.12,475.39 L428.40,475.06 L428.68,474.74 L428.96,474.43 L429.24,474.13 L429.52,473.83 L429.80,473.54 L430.08,473.26 L430.36,472.98 L430.64,472.71 L430.92,472.45 L431.20,472.19 L431.48,471.94 L431.76,471.69 L432.04,471.44 L432.32,471.21 L432.60,470.97 L432.88,470.74 L433.16,470.52 L433.44,470.29 L433.72,470.07 L434.00,469.86 L434.28,469.64 L434.56,469.43 L434.84,469.22 L435.12,469.01 L435.40,468.81 L435.68,468.60 L435.96,468.40 L436.24,468.20 L436.52,468.00 L436.80,467.81 L437.08,467.62 L437.36,467.44 L437.64,467.26 L437.92,467.08 L438.20,466.91 L438.48,466.74 L438.76,466.57 L439.04,466.41 L439.32,466.25 L439.60,466.09 L439.88,465.93 L440.16,465.78 L440.44,465.63 L440.72,465.48 L441.00,465.33 L441.28,465.18 L441.56,465.04 L441.84,464.89 L442.12,464.75 L442.40,464.61 L442.68,464.46 L442.96,464.32 L443.24,464.18 L443.52,464.04 L443.80,463.89 L444.08,463.75 L444.36,463.61 L444.64,463.46 L444.92,463.32 L445.20,463.17 L445.48,463.02 L445.76,462.87 L446.04,462.72 L446.32,462.56 L446.60,462.41 L446.88,462.25 L447.16,462.09 L447.44,461.92 L447.72,461.76 L448.00,461.58 L448.28,461.41 L448.56,461.23 L448.84,461.05 L449.12,460.87 L449.40,460.68 L449.68,460.50 L449.96,460.31 L450.24,460.12 L450.52,459.92 L450.80,459.73 L451.08,459.54 L451.36,459.34 L451.64,459.15 L451.92,458.95 L452.20,458.76 L452.48,458.57 L452.76,458.38 L453.04,458.19 L453.32,458.01 L453.60,457.82 L453.88,457.64 L454.16,457.46 L454.44,457.29 L454.72,457.12 L455.00,456.95 L455.28,456.79 L455.56,456.63 L455.84,456.47 L456.12,456.31 L456.40,456.15 L456.68,455.99 L456.96,455.83 L457.24,455.68 L457.52,455.53 L457.80,455.37 L458.08,455.22 L458.36,455.07 L458.64,454.92 L458.92,454.77 L459.20,454.63 L459.48,454.48 L459.76,454.33 L460.04,454.19 L460.32,454.04 L460.60,453.90 L460.88,453.76 L461.16,453.62 L461.44,453.48 L461.72,453.33 L462.00,453.19 L462.28,453.05 L462.56,452.92 L462.84,452.78 L463.12,452.64 L463.40,452.50 L463.68,452.36 L463.96,452.23 L464.24,452.09 L464.52,451.95 L464.80,451.82 L465.08,451.68 L465.36,451.55 L465.64,451.41 L465.92,451.27 L466.20,451.14 L466.48,451.00 L466.76,450.87 L467.04,450.73 L467.32,450.60 L467.60,450.46 L467.88,450.32 L468.16,450.19 L468.44,450.05 L468.72,449.92 L469.00,449.78 L469.28,449.64 L469.56,449.50 L469.84,449.37 L470.12,449.23 L470.40,449.09 L470.68,448.95 L470.96,448.81 L471.24,448.67 L471.52,448.53 L471.80,448.39 L472.08,448.25 L472.36,448.10 L472.64,447.96 L472.92,447.82 L473.20,447.67 L473.48,447.53 L473.76,447.38 L474.04,447.24 L474.32,447.10 L474.60,446.95 L476.00,446.23 L477.40,445.50 L478.80,444.78 L480.20,444.05 L481.60,443.32 L483.00,442.59 L484.40,441.87 L485.80,441.14 L487.20,440.41 L488.60,439.69 L490.00,438.97 L491.40,438.24 L492.80,437.51 L494.20,436.78 L495.60,436.05 L497.00,435.33 L498.40,434.62 L499.80,433.93 L501.20,433.25 L502.60,432.58 L504.00,431.92 L505.40,431.26 L506.80,430.61 L508.20,429.97 L509.60,429.33 L511.00,428.70 L512.40,428.08 L513.80,427.46 L515.20,426.85 L516.60,426.25 L518.00,425.65 L519.40,425.06 L520.80,424.49 L522.20,423.92 L523.60,423.36 L525.00,422.80 L526.40,422.25 L527.80,421.70 L529.20,421.15 L530.60,420.60 L532.00,420.04 L533.40,419.48 L534.80,418.92 L536.20,418.35 L537.60,417.78 L539.00,417.22 L540.40,416.66 L541.80,416.10 L543.20,415.54 L544.60,414.97 L546.00,414.39 L547.40,413.81 L548.80,413.21 L550.20,412.59 L551.60,411.96 L553.00,411.31 L554.40,410.64 L555.80,409.93 L557.20,409.20 L558.60,408.46 L560.00,407.70 L561.40,406.93 L562.80,406.15 L564.20,405.37 L565.60,404.60 L567.00,403.83 L568.40,403.07 L569.80,402.33 L571.20,401.60 L572.60,400.86 L574.00,400.13 L575.40,399.41 L576.80,398.68 L578.20,397.95 L579.60,397.23 L581.00,396.52 L582.40,395.81 L583.80,395.11 L585.20,394.42 L586.60,393.73 L588.00,393.05 L589.40,392.38 L590.80,391.71 L592.20,391.04 L593.60,390.38 L595.00,389.72 L596.40,389.07 L597.80,388.43 L599.20,387.80 L600.60,387.18 L602.00,386.57 L603.40,385.98 L604.80,385.40 L606.20,384.84 L607.60,384.28 L609.00,383.74 L610.40,383.22 L611.80,382.70 L613.20,382.19 L614.60,381.68 L616.00,381.19 L617.40,380.70 L618.80,380.22 L620.20,379.74 L621.60,379.26 L623.00,378.79 L624.40,378.32 L625.80,377.86 L627.20,377.40 L628.60,376.95 L630.00,376.51 L631.40,376.09 L632.80,375.68 L634.20,375.28 L635.60,374.90 L637.00,374.52 L638.40,374.16 L639.80,373.80 L641.20,373.45 L642.60,373.11 L644.00,372.77 L645.40,372.44 L646.80,372.12 L648.20,371.80 L649.60,371.49 L651.00,371.18 L652.40,370.87 L653.80,370.57 L655.20,370.27 L656.60,369.98 L658.00,369.69 L659.40,369.40 L660.80,369.12 L662.20,368.85 L663.60,368.58 L665.00,368.31 L666.40,368.05 L667.80,367.80 L669.20,367.55 L670.60,367.30" fill="none" stroke="#56b4e9" stroke-width="1.5" stroke-linejoin="round"/>
<path d="M390.60,639.80 L390.74,624.85 L390.88,615.00 L391.02,610.91 L391.16,607.81 L391.30,605.44 L391.44,603.52 L391.58,601.80 L391.72,600.01 L391.86,598.14 L392.00,596.36 L392.14,594.66 L392.28,593.04 L392.42,591.51 L392.56,590.05 L392.70,588.68 L392.84,587.38 L392.98,586.17 L393.12,585.03 L393.26,583.96 L393.40,582.95 L393.54,582.00 L393.68,581.09 L393.82,580.22 L393.96,579.40 L394.10,578.60 L394.24,577.82 L394.38,577.06 L394.52,576.32 L394.66,575.58 L394.80,574.84 L394.94,574.09 L395.08,573.33 L395.22,572.55 L395.36,571.75 L395.50,570.91 L395.64,570.04 L395.78,569.14 L395.92,568.23 L396.06,567.31 L396.20,566.38 L396.48,564.50 L396.76,562.58 L397.04,560.63 L397.32,558.67 L397.60,556.69 L397.88,554.70 L398.16,552.71 L398.44,550.70 L398.72,548.66 L399.00,546.59 L399.28,544.47 L399.56,542.30 L399.84,540.06 L400.12,537.75 L400.40,535.34 L400.68,532.86 L400.96,530.34 L401.24,527.78 L401.52,525.20 L401.80,522.62 L402.08,520.03 L402.36,517.38 L402.64,514.68 L402.92,511.95 L403.20,509.19 L403.48,506.42 L403.76,503.64 L404.04,500.86 L404.32,498.09 L404.60,495.35 L404.88,492.63 L405.16,489.96 L405.44,487.33 L405.72,484.77 L406.00,482.27 L406.28,479.84 L406.56,477.46 L406.84,475.08 L407.12,472.70 L407.40,470.34 L407.68,468.00 L407.96,465.69 L408.24,463.41 L408.52,461.18 L408.80,458.99 L409.08,456.85 L409.36,454.77 L409.64,452.76 L409.92,450.82 L410.20,448.96 L410.48,447.19 L410.76,445.51 L411.04,443.90 L411.32,442.36 L411.60,440.86 L411.88,439.42 L412.16,438.02 L412.44,436.68 L412.72,435.37 L413.00,434.11 L413.28,432.89 L413.56,431.70 L413.84,430.55 L414.12,429.43 L414.40,428.34 L414.68,427.28 L414.96,426.25 L415.24,425.24 L415.52,424.27 L415.80,423.33 L416.08,422.41 L416.36,421.53 L416.64,420.68 L416.92,419.86 L417.20,419.07 L417.48,418.31 L417.76,417.57 L418.04,416.84 L418.32,416.13 L418.60,415.45 L418.88,414.80 L419.16,414.18 L419.44,413.59 L419.72,413.04 L420.00,412.53 L420.28,412.05 L420.56,411.58 L420.84,411.12 L421.12,410.67 L421.40,410.23 L421.68,409.81 L421.96,409.39 L422.24,408.99 L422.52,408.61 L422.80,408.23 L423.08,407.87 L423.36,407.52 L423.64,407.18 L423.92,406.86 L424.20,406.55 L424.48,406.25 L424.76,405.97 L425.04,405.70 L425.32,405.45 L425.60,405.21 L425.88,404.97 L426.16,404.74 L426.44,404.51 L426.72,404.30 L427.00,404.08 L427.28,403.87 L427.56,403.67 L427.84,403.47 L428.12,403.28 L428.40,403.09 L428.68,402.90 L428.96,402.72 L429.24,402.55 L429.52,402.37 L429.80,402.21 L430.08,402.04 L430.36,401.88 L430.64,401.72 L430.92,401.56 L431.20,401.41 L431.48,401.26 L431.76,401.11 L432.04,400.97 L432.32,400.82 L432.60,400.68 L432.88,400.54 L433.16,400.41 L433.44,400.27 L433.72,400.13 L434.00,400.00 L434.28,399.87 L434.56,399.74 L434.84,399.61 L435.12,399.48 L435.40,399.35 L435.68,399.23 L435.96,399.10 L436.24,398.98 L436.52,398.86 L436.80,398.74 L437.08,398.63 L437.36,398.51 L437.64,398.39 L437.92,398.28 L438.20,398.17 L438.48,398.06 L438.76,397.95 L439.04,397.84 L439.32,397.73 L439.60,397.63 L439.88,397.52 L440.16,397.42 L440.44,397.32 L440.72,397.21 L441.00,397.11 L441.28,397.01 L441.56,396.92 L441.84,396.82 L442.12,396.72 L442.40,396.63 L442.68,396.53 L442.96,396.44 L443.24,396.34 L443.52,396.25 L443.80,396.16 L444.08,396.07 L444.36,395.98 L444.64,395.89 L444.92,395.80 L445.20,395.71 L445.48,395.63 L445.76,395.54 L446.04,395.45 L446.32,395.37 L446.60,395.28 L446.88,395.20 L447.16,395.11 L447.44,395.03 L447.72,394.95 L448.00,394.86 L448.28,394.78 L448.56,394.70 L448.84,394.62 L449.12,394.54 L449.40,394.46 L449.68,394.38 L449.96,394.30 L450.24,394.22 L450.52,394.14 L450.80,394.06 L451.08,393.98 L451.36,393.90 L451.64,393.83 L451.92,393.75 L452.20,393.67 L452.48,393.60 L452.76,393.52 L453.04,393.45 L453.32,393.38 L453.60,393.30 L453.88,393.23 L454.16,393.16 L454.44,393.08 L454.72,393.01 L455.00,392.94 L455.28,392.87 L455.56,392.80 L455.84,392.73 L456.12,392.66 L456.40,392.59 L456.68,392.53 L456.96,392.46 L457.24,392.39 L457.52,392.33 L457.80,392.26 L458.08,392.20 L458.36,392.13 L458.64,392.07 L458.92,392.00 L459.20,391.94 L459.48,391.88 L459.76,391.82 L460.04,391.75 L460.32,391.69 L460.60,391.63 L460.88,391.57 L461.16,391.51 L461.44,391.46 L461.72,391.40 L462.00,391.34 L462.28,391.28 L462.56,391.23 L462.84,391.17 L463.12,391.12 L463.40,391.06 L463.68,391.01 L463.96,390.95 L464.24,390.90 L464.52,390.85 L464.80,390.80 L465.08,390.75 L465.36,390.70 L465.64,390.65 L465.92,390.60 L466.20,390.55 L466.48,390.50 L466.76,390.45 L467.04,390.40 L467.32,390.35 L467.60,390.31 L467.88,390.26 L468.16,390.21 L468.44,390.17 L468.72,390.12 L469.00,390.08 L469.28,390.03 L469.56,389.99 L469.84,389.94 L470.12,389.90 L470.40,389.85 L470.68,389.81 L470.96,389.77 L471.24,389.72 L471.52,389.68 L471.80,389.64 L472.08,389.60 L472.36,389.56 L472.64,389.51 L472.92,389.47 L473.20,389.43 L473.48,389.39 L473.76,389.35 L474.04,389.31 L474.32,389.27 L474.60,389.23 L476.00,389.03 L477.40,388.83 L478.80,388.64 L480.20,388.44 L481.60,388.24 L483.00,388.05 L484.40,387.85 L485.80,387.67 L487.20,387.48 L488.60,387.30 L490.00,387.11 L491.40,386.93 L492.80,386.75 L494.20,386.58 L495.60,386.40 L497.00,386.22 L498.40,386.04 L499.80,385.87 L501.20,385.69 L502.60,385.51 L504.00,385.33 L505.40,385.15 L506.80,384.98 L508.20,384.80 L509.60,384.63 L511.00,384.45 L512.40,384.28 L513.80,384.10 L515.20,383.93 L516.60,383.76 L518.00,383.58 L519.40,383.41 L520.80,383.24 L522.20,383.06 L523.60,382.89 L525.00,382.72 L526.40,382.55 L527.80,382.37 L529.20,382.20 L530.60,382.03 L532.00,381.85 L533.40,381.68 L534.80,381.50 L536.20,381.33 L537.60,381.15 L539.00,380.98 L540.40,380.80 L541.80,380.62 L543.20,380.45 L544.60,380.27 L546.00,380.09 L547.40,379.91 L548.80,379.73 L550.20,379.56 L551.60,379.38 L553.00,379.20 L554.40,379.02 L555.80,378.85 L557.20,378.67 L558.60,378.50 L560.00,378.32 L561.40,378.15 L562.80,377.98 L564.20,377.81 L565.60,377.64 L567.00,377.47 L568.40,377.31 L569.80,377.14 L571.20,376.98 L572.60,376.82 L574.00,376.66 L575.40,376.50 L576.80,376.35 L578.20,376.19 L579.60,376.04 L581.00,375.88 L582.40,375.73 L583.80,375.58 L585.20,375.43 L586.60,375.28 L588.00,375.13 L589.40,374.98 L590.80,374.83 L592.20,374.68 L593.60,374.53 L595.00,374.38 L596.40,374.23 L597.80,374.08 L599.20,373.93 L600.60,373.78 L602.00,373.63 L603.40,373.48 L604.80,373.33 L606.20,373.17 L607.60,373.01 L609.00,372.85 L610.40,372.68 L611.80,372.52 L613.20,372.36 L614.60,372.20 L616.00,372.05 L617.40,371.90 L618.80,371.76 L620.20,371.64 L621.60,371.52 L623.00,371.41 L624.40,371.30 L625.80,371.20 L627.20,371.10 L628.60,371.00 L630.00,370.90 L631.40,370.80 L632.80,370.70 L634.20,370.59 L635.60,370.48 L637.00,370.36 L638.40,370.25 L639.80,370.13 L641.20,370.02 L642.60,369.90 L644.00,369.78 L645.40,369.66 L646.80,369.54 L648.20,369.41 L649.60,369.29 L651.00,369.17 L652.40,369.04 L653.80,368.91 L655.20,368.79 L656.60,368.66 L658.00,368.53 L659.40,368.40 L660.80,368.26 L662.20,368.13 L663.60,368.00 L665.00,367.86 L666.40,367.72 L667.80,367.58 L669.20,367.44 L670.60,367.30" fill="none" stroke="#009e73" stroke-width="1.5" stroke-linejoin="round"/>
<line x1="390.6" y1="639.8" x2="670.6" y2="367.3" stroke="#111" stroke-width="1.6" stroke-dasharray="5.0,2.28" stroke-dashoffset="-1.4"/>
<rect x="522.9" y="612.2" width="158" height="38.6" fill="#d4d4d4"/>
<line x1="526" y1="620.7" x2="545.3" y2="620.7" stroke="#e69f00" stroke-width="2.6"/>
<text x="548.4" y="623.8" font-size="9.2" text-anchor="start" font-weight="normal" fill="#1a1a1a" textLength="11.5" lengthAdjust="spacingAndGlyphs">&lt; 1</text>
<text x="595.9" y="623.8" font-size="9.2" text-anchor="start" font-weight="normal" fill="#1a1a1a" textLength="84.3" lengthAdjust="spacingAndGlyphs">(AUC = 0.834 ± 0.015)</text>
<line x1="526" y1="632" x2="545.3" y2="632" stroke="#56b4e9" stroke-width="2.6"/>
<text x="548.4" y="635.1" font-size="9.2" text-anchor="start" font-weight="normal" fill="#1a1a1a" textLength="44" lengthAdjust="spacingAndGlyphs">&gt; 1 and &lt; 5</text>
<text x="595.9" y="635.1" font-size="9.2" text-anchor="start" font-weight="normal" fill="#1a1a1a" textLength="84.3" lengthAdjust="spacingAndGlyphs">(AUC = 0.771 ± 0.024)</text>
<line x1="526" y1="643.1" x2="545.3" y2="643.1" stroke="#009e73" stroke-width="2.6"/>
<text x="548.4" y="646.2" font-size="9.2" text-anchor="start" font-weight="normal" fill="#1a1a1a" textLength="11.5" lengthAdjust="spacingAndGlyphs">&lt; 5</text>
<text x="595.9" y="646.2" font-size="9.2" text-anchor="start" font-weight="normal" fill="#1a1a1a" textLength="84.3" lengthAdjust="spacingAndGlyphs">(AUC = 0.904 ± 0.012)</text>
<text x="358.9" y="351.6" font-size="9.6" text-anchor="start" font-weight="bold" fill="#000">d</text>
<text x="530.6" y="676.6" font-size="9.1" text-anchor="middle" font-weight="normal" fill="#1a1a1a" textLength="72" lengthAdjust="spacingAndGlyphs" stroke="#1a1a1a" stroke-width="0.12">False Positive Rate</text>
<text x="0" y="0" font-size="9.5" text-anchor="middle" fill="#1a1a1a" stroke="#1a1a1a" stroke-width="0.12" textLength="68.7" lengthAdjust="spacingAndGlyphs" transform="translate(357.3,503.85) rotate(-90)">True Positive Rate</text>
<text x="57.2" y="699.9" font-size="9.4" text-anchor="start" font-weight="normal" fill="#000" textLength="228" lengthAdjust="spacingAndGlyphs" stroke="#000" stroke-width="0.06">ROC curves of GINTopK on binary-class classification</text>
<text x="409" y="699.9" font-size="9.4" text-anchor="start" font-weight="normal" fill="#000" textLength="231.3" lengthAdjust="spacingAndGlyphs" stroke="#000" stroke-width="0.06">ROC curves of GINTopK on ternary-class classification</text>
</svg>
</body></html>
